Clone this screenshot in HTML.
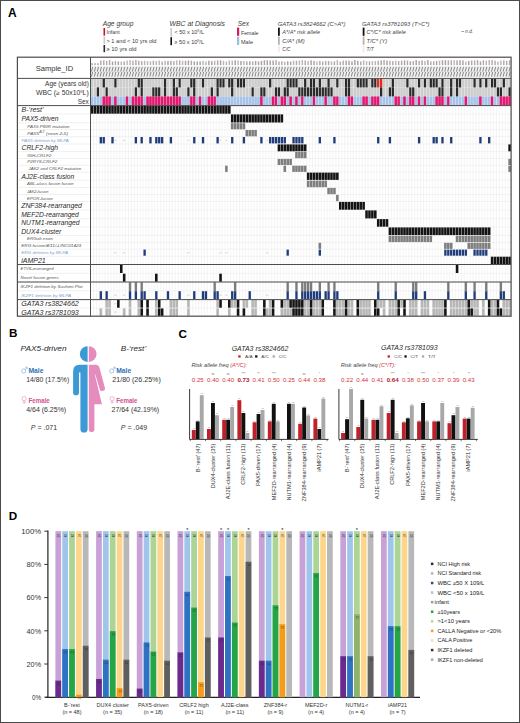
<!DOCTYPE html>
<html><head><meta charset="utf-8"><title>Figure</title>
<style>
html,body{margin:0;padding:0;background:#fff;overflow:hidden;}
svg{display:block;}
text{font-family:"Liberation Sans",sans-serif;}
</style></head><body>
<svg width="520" height="723" viewBox="0 0 520 723">
<rect x="0" y="0" width="520" height="723" fill="#fff"/>
<text x="8.10" y="16.70" font-size="12" fill="#000" font-weight="bold">A</text>
<text x="102.70" y="26.20" font-size="6.5" fill="#3a3a3a" font-style="italic" textLength="30.80" lengthAdjust="spacingAndGlyphs">Age group</text>
<rect x="103.50" y="28.00" width="1.60" height="7.60" fill="#c4122f"/>
<rect x="103.50" y="36.60" width="1.60" height="7.60" fill="#c9c9c9"/>
<rect x="103.50" y="45.00" width="1.60" height="7.20" fill="#2b2b2b"/>
<text x="106.50" y="34.30" font-size="5.3" fill="#3a3a3a" textLength="13.10" lengthAdjust="spacingAndGlyphs">Infant</text>
<text x="106.50" y="42.60" font-size="5.3" fill="#3a3a3a" textLength="50.00" lengthAdjust="spacingAndGlyphs">&gt; 1 and &lt; 10 yrs old</text>
<text x="106.50" y="50.70" font-size="5.3" fill="#3a3a3a" textLength="30.00" lengthAdjust="spacingAndGlyphs">≥ 10 yrs old</text>
<text x="169.60" y="26.20" font-size="6.5" fill="#3a3a3a" font-style="italic" textLength="55.40" lengthAdjust="spacingAndGlyphs">WBC at Diagnosis</text>
<rect x="170.40" y="28.00" width="1.60" height="8.40" fill="#c9c9c9"/>
<rect x="170.40" y="37.20" width="1.60" height="8.00" fill="#111"/>
<text x="174.5" y="34.4" font-size="5.4" fill="#3a3a3a" textLength="29.5" lengthAdjust="spacingAndGlyphs">&lt; 50 x 10<tspan font-size="3.6" dy="-2.0">9</tspan><tspan dy="2.0">/L</tspan></text>
<text x="174.5" y="43.5" font-size="5.4" fill="#3a3a3a" textLength="29.5" lengthAdjust="spacingAndGlyphs">≥ 50 x 10<tspan font-size="3.6" dy="-2.0">9</tspan><tspan dy="2.0">/L</tspan></text>
<text x="237.70" y="26.20" font-size="6.5" fill="#3a3a3a" font-style="italic">Sex</text>
<rect x="237.00" y="27.60" width="2.20" height="8.20" fill="#d81b60"/>
<rect x="237.00" y="36.60" width="2.20" height="8.40" fill="#9fbadb"/>
<text x="241.00" y="34.80" font-size="5.3" fill="#3a3a3a" textLength="17.50" lengthAdjust="spacingAndGlyphs">Female</text>
<text x="241.00" y="43.50" font-size="5.3" fill="#3a3a3a" textLength="12.00" lengthAdjust="spacingAndGlyphs">Male</text>
<text x="277.70" y="26.20" font-size="4.8" fill="#444" font-style="italic" textLength="67.70" lengthAdjust="spacingAndGlyphs">GATA3 rs3824662 (C&gt;A*)</text>
<rect x="278.00" y="27.60" width="1.80" height="8.20" fill="#111"/>
<rect x="278.00" y="36.60" width="1.80" height="8.20" fill="#b5b5b5"/>
<rect x="278.00" y="45.60" width="1.80" height="6.60" fill="#ececec"/>
<text x="282.30" y="33.60" font-size="4.8" fill="#444" font-style="italic" textLength="37.70" lengthAdjust="spacingAndGlyphs">A*/A* risk allele</text>
<text x="282.30" y="42.80" font-size="4.8" fill="#444" font-style="italic" textLength="22.30" lengthAdjust="spacingAndGlyphs">C/A* (M)</text>
<text x="282.30" y="51.00" font-size="4.8" fill="#444" font-style="italic">C/C</text>
<text x="362.00" y="26.40" font-size="4.8" fill="#444" font-style="italic" textLength="67.60" lengthAdjust="spacingAndGlyphs">GATA3 rs3781093 (T&gt;C*)</text>
<rect x="362.70" y="27.60" width="1.80" height="8.20" fill="#111"/>
<rect x="362.70" y="36.60" width="1.80" height="8.20" fill="#b5b5b5"/>
<rect x="362.70" y="45.60" width="1.80" height="6.60" fill="#ececec"/>
<text x="366.50" y="33.60" font-size="4.8" fill="#444" font-style="italic" textLength="39.30" lengthAdjust="spacingAndGlyphs">C*/C* risk allele</text>
<text x="366.50" y="42.80" font-size="4.8" fill="#444" font-style="italic" textLength="20.80" lengthAdjust="spacingAndGlyphs">T/C* (Y)</text>
<text x="366.50" y="51.00" font-size="4.8" fill="#444" font-style="italic">T/T</text>
<text x="461.50" y="33.40" font-size="4.6" fill="#444" font-style="italic">– n.d.</text>
<g id="hm">
<rect x="90.60" y="66.30" width="420.48" height="11.00" fill="#f1f0f0"/>
<rect x="91.35" y="63.20" width="1.45" height="2.00" fill="#aaa0a2"/>
<path d="M91.45 71.6 L92.65 66.9 M91.45 76.6 L92.65 71.9" stroke="#878787" stroke-width="1.0" fill="none"/>
<rect x="94.27" y="63.20" width="1.45" height="2.00" fill="#b3a8aa"/>
<path d="M94.37 71.6 L95.57 66.9 M94.37 76.6 L95.57 71.9" stroke="#878787" stroke-width="1.0" fill="none"/>
<rect x="97.19" y="63.20" width="1.45" height="2.00" fill="#aaa0a2"/>
<path d="M97.29 71.6 L98.49 66.9 M97.29 76.6 L98.49 71.9" stroke="#878787" stroke-width="1.0" fill="none"/>
<rect x="100.11" y="60.56" width="1.45" height="4.64" fill="#b3a8aa"/>
<path d="M100.21 71.6 L101.41 66.9 M100.21 76.6 L101.41 71.9" stroke="#878787" stroke-width="1.0" fill="none"/>
<rect x="103.03" y="60.29" width="1.45" height="4.91" fill="#b3a8aa"/>
<path d="M103.13 71.6 L104.33 66.9 M103.13 76.6 L104.33 71.9" stroke="#878787" stroke-width="1.0" fill="none"/>
<rect x="105.95" y="61.01" width="1.45" height="4.19" fill="#b3a8aa"/>
<path d="M106.05 71.6 L107.25 66.9 M106.05 76.6 L107.25 71.9" stroke="#878787" stroke-width="1.0" fill="none"/>
<rect x="108.87" y="60.14" width="1.45" height="5.06" fill="#b3a8aa"/>
<path d="M108.97 71.6 L110.17 66.9 M108.97 76.6 L110.17 71.9" stroke="#878787" stroke-width="1.0" fill="none"/>
<rect x="111.79" y="61.54" width="1.45" height="3.66" fill="#aaa0a2"/>
<path d="M111.89 71.6 L113.09 66.9 M111.89 76.6 L113.09 71.9" stroke="#878787" stroke-width="1.0" fill="none"/>
<rect x="114.71" y="60.93" width="1.45" height="4.27" fill="#b3a8aa"/>
<path d="M114.81 71.6 L116.01 66.9 M114.81 76.6 L116.01 71.9" stroke="#878787" stroke-width="1.0" fill="none"/>
<rect x="117.63" y="61.45" width="1.45" height="3.75" fill="#aaa0a2"/>
<path d="M117.73 71.6 L118.93 66.9 M117.73 76.6 L118.93 71.9" stroke="#878787" stroke-width="1.0" fill="none"/>
<rect x="120.55" y="61.51" width="1.45" height="3.69" fill="#bdb4b6"/>
<path d="M120.65 71.6 L121.85 66.9 M120.65 76.6 L121.85 71.9" stroke="#878787" stroke-width="1.0" fill="none"/>
<rect x="123.47" y="61.40" width="1.45" height="3.80" fill="#b3a8aa"/>
<path d="M123.57 71.6 L124.77 66.9 M123.57 76.6 L124.77 71.9" stroke="#878787" stroke-width="1.0" fill="none"/>
<rect x="126.39" y="60.59" width="1.45" height="4.61" fill="#bdb4b6"/>
<path d="M126.49 71.6 L127.69 66.9 M126.49 76.6 L127.69 71.9" stroke="#878787" stroke-width="1.0" fill="none"/>
<rect x="129.31" y="60.08" width="1.45" height="5.12" fill="#bdb4b6"/>
<path d="M129.41 71.6 L130.61 66.9 M129.41 76.6 L130.61 71.9" stroke="#878787" stroke-width="1.0" fill="none"/>
<rect x="132.23" y="60.66" width="1.45" height="4.54" fill="#b3a8aa"/>
<path d="M132.33 71.6 L133.53 66.9 M132.33 76.6 L133.53 71.9" stroke="#878787" stroke-width="1.0" fill="none"/>
<rect x="135.15" y="60.04" width="1.45" height="5.16" fill="#b3a8aa"/>
<path d="M135.25 71.6 L136.45 66.9 M135.25 76.6 L136.45 71.9" stroke="#878787" stroke-width="1.0" fill="none"/>
<rect x="138.07" y="60.71" width="1.45" height="4.49" fill="#b3a8aa"/>
<path d="M138.17 71.6 L139.37 66.9 M138.17 76.6 L139.37 71.9" stroke="#878787" stroke-width="1.0" fill="none"/>
<rect x="140.99" y="61.14" width="1.45" height="4.06" fill="#b3a8aa"/>
<path d="M141.09 71.6 L142.29 66.9 M141.09 76.6 L142.29 71.9" stroke="#878787" stroke-width="1.0" fill="none"/>
<rect x="143.91" y="60.73" width="1.45" height="4.47" fill="#bdb4b6"/>
<path d="M144.01 71.6 L145.21 66.9 M144.01 76.6 L145.21 71.9" stroke="#878787" stroke-width="1.0" fill="none"/>
<rect x="146.83" y="61.11" width="1.45" height="4.09" fill="#bdb4b6"/>
<path d="M146.93 71.6 L148.13 66.9 M146.93 76.6 L148.13 71.9" stroke="#878787" stroke-width="1.0" fill="none"/>
<rect x="149.75" y="61.31" width="1.45" height="3.89" fill="#bdb4b6"/>
<path d="M149.85 71.6 L151.05 66.9 M149.85 76.6 L151.05 71.9" stroke="#878787" stroke-width="1.0" fill="none"/>
<rect x="152.67" y="60.69" width="1.45" height="4.51" fill="#b3a8aa"/>
<path d="M152.77 71.6 L153.97 66.9 M152.77 76.6 L153.97 71.9" stroke="#878787" stroke-width="1.0" fill="none"/>
<rect x="155.59" y="61.00" width="1.45" height="4.20" fill="#bdb4b6"/>
<path d="M155.69 71.6 L156.89 66.9 M155.69 76.6 L156.89 71.9" stroke="#878787" stroke-width="1.0" fill="none"/>
<rect x="158.51" y="60.46" width="1.45" height="4.74" fill="#bdb4b6"/>
<path d="M158.61 71.6 L159.81 66.9 M158.61 76.6 L159.81 71.9" stroke="#878787" stroke-width="1.0" fill="none"/>
<rect x="161.43" y="61.50" width="1.45" height="3.70" fill="#b3a8aa"/>
<path d="M161.53 71.6 L162.73 66.9 M161.53 76.6 L162.73 71.9" stroke="#878787" stroke-width="1.0" fill="none"/>
<rect x="164.35" y="60.81" width="1.45" height="4.39" fill="#bdb4b6"/>
<path d="M164.45 71.6 L165.65 66.9 M164.45 76.6 L165.65 71.9" stroke="#878787" stroke-width="1.0" fill="none"/>
<rect x="167.27" y="60.92" width="1.45" height="4.28" fill="#aaa0a2"/>
<path d="M167.37 71.6 L168.57 66.9 M167.37 76.6 L168.57 71.9" stroke="#878787" stroke-width="1.0" fill="none"/>
<rect x="170.19" y="60.86" width="1.45" height="4.34" fill="#aaa0a2"/>
<path d="M170.29 71.6 L171.49 66.9 M170.29 76.6 L171.49 71.9" stroke="#878787" stroke-width="1.0" fill="none"/>
<rect x="173.11" y="61.02" width="1.45" height="4.18" fill="#b3a8aa"/>
<path d="M173.21 71.6 L174.41 66.9 M173.21 76.6 L174.41 71.9" stroke="#878787" stroke-width="1.0" fill="none"/>
<rect x="176.03" y="60.33" width="1.45" height="4.87" fill="#bdb4b6"/>
<path d="M176.13 71.6 L177.33 66.9 M176.13 76.6 L177.33 71.9" stroke="#878787" stroke-width="1.0" fill="none"/>
<rect x="178.95" y="60.35" width="1.45" height="4.85" fill="#b3a8aa"/>
<path d="M179.05 71.6 L180.25 66.9 M179.05 76.6 L180.25 71.9" stroke="#878787" stroke-width="1.0" fill="none"/>
<rect x="181.87" y="60.68" width="1.45" height="4.52" fill="#bdb4b6"/>
<path d="M181.97 71.6 L183.17 66.9 M181.97 76.6 L183.17 71.9" stroke="#878787" stroke-width="1.0" fill="none"/>
<rect x="184.79" y="60.81" width="1.45" height="4.39" fill="#aaa0a2"/>
<path d="M184.89 71.6 L186.09 66.9 M184.89 76.6 L186.09 71.9" stroke="#878787" stroke-width="1.0" fill="none"/>
<rect x="187.71" y="60.43" width="1.45" height="4.77" fill="#aaa0a2"/>
<path d="M187.81 71.6 L189.01 66.9 M187.81 76.6 L189.01 71.9" stroke="#878787" stroke-width="1.0" fill="none"/>
<rect x="190.63" y="60.63" width="1.45" height="4.57" fill="#b3a8aa"/>
<path d="M190.73 71.6 L191.93 66.9 M190.73 76.6 L191.93 71.9" stroke="#878787" stroke-width="1.0" fill="none"/>
<rect x="193.55" y="61.41" width="1.45" height="3.79" fill="#aaa0a2"/>
<path d="M193.65 71.6 L194.85 66.9 M193.65 76.6 L194.85 71.9" stroke="#878787" stroke-width="1.0" fill="none"/>
<rect x="196.47" y="61.34" width="1.45" height="3.86" fill="#aaa0a2"/>
<path d="M196.57 71.6 L197.77 66.9 M196.57 76.6 L197.77 71.9" stroke="#878787" stroke-width="1.0" fill="none"/>
<rect x="199.39" y="61.36" width="1.45" height="3.84" fill="#aaa0a2"/>
<path d="M199.49 71.6 L200.69 66.9 M199.49 76.6 L200.69 71.9" stroke="#878787" stroke-width="1.0" fill="none"/>
<rect x="202.31" y="60.93" width="1.45" height="4.27" fill="#bdb4b6"/>
<path d="M202.41 71.6 L203.61 66.9 M202.41 76.6 L203.61 71.9" stroke="#878787" stroke-width="1.0" fill="none"/>
<rect x="205.23" y="61.48" width="1.45" height="3.72" fill="#bdb4b6"/>
<path d="M205.33 71.6 L206.53 66.9 M205.33 76.6 L206.53 71.9" stroke="#878787" stroke-width="1.0" fill="none"/>
<rect x="208.15" y="60.68" width="1.45" height="4.52" fill="#aaa0a2"/>
<path d="M208.25 71.6 L209.45 66.9 M208.25 76.6 L209.45 71.9" stroke="#878787" stroke-width="1.0" fill="none"/>
<rect x="211.07" y="61.06" width="1.45" height="4.14" fill="#aaa0a2"/>
<path d="M211.17 71.6 L212.37 66.9 M211.17 76.6 L212.37 71.9" stroke="#878787" stroke-width="1.0" fill="none"/>
<rect x="213.99" y="60.65" width="1.45" height="4.55" fill="#bdb4b6"/>
<path d="M214.09 71.6 L215.29 66.9 M214.09 76.6 L215.29 71.9" stroke="#878787" stroke-width="1.0" fill="none"/>
<rect x="216.91" y="60.32" width="1.45" height="4.88" fill="#b3a8aa"/>
<path d="M217.01 71.6 L218.21 66.9 M217.01 76.6 L218.21 71.9" stroke="#878787" stroke-width="1.0" fill="none"/>
<rect x="219.83" y="60.26" width="1.45" height="4.94" fill="#aaa0a2"/>
<path d="M219.93 71.6 L221.13 66.9 M219.93 76.6 L221.13 71.9" stroke="#878787" stroke-width="1.0" fill="none"/>
<rect x="222.75" y="60.84" width="1.45" height="4.36" fill="#bdb4b6"/>
<path d="M222.85 71.6 L224.05 66.9 M222.85 76.6 L224.05 71.9" stroke="#878787" stroke-width="1.0" fill="none"/>
<rect x="225.67" y="61.50" width="1.45" height="3.70" fill="#bdb4b6"/>
<path d="M225.77 71.6 L226.97 66.9 M225.77 76.6 L226.97 71.9" stroke="#878787" stroke-width="1.0" fill="none"/>
<rect x="228.59" y="60.48" width="1.45" height="4.72" fill="#bdb4b6"/>
<path d="M228.69 71.6 L229.89 66.9 M228.69 76.6 L229.89 71.9" stroke="#878787" stroke-width="1.0" fill="none"/>
<rect x="231.51" y="60.68" width="1.45" height="4.52" fill="#bdb4b6"/>
<path d="M231.61 71.6 L232.81 66.9 M231.61 76.6 L232.81 71.9" stroke="#878787" stroke-width="1.0" fill="none"/>
<rect x="234.43" y="60.28" width="1.45" height="4.92" fill="#aaa0a2"/>
<path d="M234.53 71.6 L235.73 66.9 M234.53 76.6 L235.73 71.9" stroke="#878787" stroke-width="1.0" fill="none"/>
<rect x="237.35" y="60.45" width="1.45" height="4.75" fill="#bdb4b6"/>
<path d="M237.45 71.6 L238.65 66.9 M237.45 76.6 L238.65 71.9" stroke="#878787" stroke-width="1.0" fill="none"/>
<rect x="240.27" y="61.04" width="1.45" height="4.16" fill="#aaa0a2"/>
<path d="M240.37 71.6 L241.57 66.9 M240.37 76.6 L241.57 71.9" stroke="#878787" stroke-width="1.0" fill="none"/>
<rect x="243.19" y="61.03" width="1.45" height="4.17" fill="#bdb4b6"/>
<path d="M243.29 71.6 L244.49 66.9 M243.29 76.6 L244.49 71.9" stroke="#878787" stroke-width="1.0" fill="none"/>
<rect x="246.11" y="61.41" width="1.45" height="3.79" fill="#b3a8aa"/>
<path d="M246.21 71.6 L247.41 66.9 M246.21 76.6 L247.41 71.9" stroke="#878787" stroke-width="1.0" fill="none"/>
<rect x="249.03" y="61.25" width="1.45" height="3.95" fill="#aaa0a2"/>
<path d="M249.13 71.6 L250.33 66.9 M249.13 76.6 L250.33 71.9" stroke="#878787" stroke-width="1.0" fill="none"/>
<rect x="251.95" y="61.39" width="1.45" height="3.81" fill="#b3a8aa"/>
<path d="M252.05 71.6 L253.25 66.9 M252.05 76.6 L253.25 71.9" stroke="#878787" stroke-width="1.0" fill="none"/>
<rect x="254.87" y="60.96" width="1.45" height="4.24" fill="#aaa0a2"/>
<path d="M254.97 71.6 L256.17 66.9 M254.97 76.6 L256.17 71.9" stroke="#878787" stroke-width="1.0" fill="none"/>
<rect x="257.79" y="61.47" width="1.45" height="3.73" fill="#aaa0a2"/>
<path d="M257.89 71.6 L259.09 66.9 M257.89 76.6 L259.09 71.9" stroke="#878787" stroke-width="1.0" fill="none"/>
<rect x="260.71" y="60.96" width="1.45" height="4.24" fill="#aaa0a2"/>
<path d="M260.81 71.6 L262.01 66.9 M260.81 76.6 L262.01 71.9" stroke="#878787" stroke-width="1.0" fill="none"/>
<rect x="263.63" y="60.19" width="1.45" height="5.01" fill="#aaa0a2"/>
<path d="M263.73 71.6 L264.93 66.9 M263.73 76.6 L264.93 71.9" stroke="#878787" stroke-width="1.0" fill="none"/>
<rect x="266.55" y="60.22" width="1.45" height="4.98" fill="#aaa0a2"/>
<path d="M266.65 71.6 L267.85 66.9 M266.65 76.6 L267.85 71.9" stroke="#878787" stroke-width="1.0" fill="none"/>
<rect x="269.47" y="60.47" width="1.45" height="4.73" fill="#aaa0a2"/>
<path d="M269.57 71.6 L270.77 66.9 M269.57 76.6 L270.77 71.9" stroke="#878787" stroke-width="1.0" fill="none"/>
<rect x="272.39" y="60.51" width="1.45" height="4.69" fill="#aaa0a2"/>
<path d="M272.49 71.6 L273.69 66.9 M272.49 76.6 L273.69 71.9" stroke="#878787" stroke-width="1.0" fill="none"/>
<rect x="275.31" y="60.07" width="1.45" height="5.13" fill="#b3a8aa"/>
<path d="M275.41 71.6 L276.61 66.9 M275.41 76.6 L276.61 71.9" stroke="#878787" stroke-width="1.0" fill="none"/>
<rect x="278.23" y="61.47" width="1.45" height="3.73" fill="#b3a8aa"/>
<path d="M278.33 71.6 L279.53 66.9 M278.33 76.6 L279.53 71.9" stroke="#878787" stroke-width="1.0" fill="none"/>
<rect x="281.15" y="61.23" width="1.45" height="3.97" fill="#b3a8aa"/>
<path d="M281.25 71.6 L282.45 66.9 M281.25 76.6 L282.45 71.9" stroke="#878787" stroke-width="1.0" fill="none"/>
<rect x="284.07" y="61.58" width="1.45" height="3.62" fill="#bdb4b6"/>
<path d="M284.17 71.6 L285.37 66.9 M284.17 76.6 L285.37 71.9" stroke="#878787" stroke-width="1.0" fill="none"/>
<rect x="286.99" y="61.31" width="1.45" height="3.89" fill="#aaa0a2"/>
<path d="M287.09 71.6 L288.29 66.9 M287.09 76.6 L288.29 71.9" stroke="#878787" stroke-width="1.0" fill="none"/>
<rect x="289.91" y="61.59" width="1.45" height="3.61" fill="#aaa0a2"/>
<path d="M290.01 71.6 L291.21 66.9 M290.01 76.6 L291.21 71.9" stroke="#878787" stroke-width="1.0" fill="none"/>
<rect x="292.83" y="60.74" width="1.45" height="4.46" fill="#bdb4b6"/>
<path d="M292.93 71.6 L294.13 66.9 M292.93 76.6 L294.13 71.9" stroke="#878787" stroke-width="1.0" fill="none"/>
<rect x="295.75" y="60.69" width="1.45" height="4.51" fill="#b3a8aa"/>
<path d="M295.85 71.6 L297.05 66.9 M295.85 76.6 L297.05 71.9" stroke="#878787" stroke-width="1.0" fill="none"/>
<rect x="298.67" y="60.50" width="1.45" height="4.70" fill="#bdb4b6"/>
<path d="M298.77 71.6 L299.97 66.9 M298.77 76.6 L299.97 71.9" stroke="#878787" stroke-width="1.0" fill="none"/>
<rect x="301.59" y="60.08" width="1.45" height="5.12" fill="#bdb4b6"/>
<path d="M301.69 71.6 L302.89 66.9 M301.69 76.6 L302.89 71.9" stroke="#878787" stroke-width="1.0" fill="none"/>
<rect x="304.51" y="60.52" width="1.45" height="4.68" fill="#b3a8aa"/>
<path d="M304.61 71.6 L305.81 66.9 M304.61 76.6 L305.81 71.9" stroke="#878787" stroke-width="1.0" fill="none"/>
<rect x="307.43" y="60.87" width="1.45" height="4.33" fill="#bdb4b6"/>
<path d="M307.53 71.6 L308.73 66.9 M307.53 76.6 L308.73 71.9" stroke="#878787" stroke-width="1.0" fill="none"/>
<rect x="310.35" y="60.32" width="1.45" height="4.88" fill="#aaa0a2"/>
<path d="M310.45 71.6 L311.65 66.9 M310.45 76.6 L311.65 71.9" stroke="#878787" stroke-width="1.0" fill="none"/>
<rect x="313.27" y="60.96" width="1.45" height="4.24" fill="#aaa0a2"/>
<path d="M313.37 71.6 L314.57 66.9 M313.37 76.6 L314.57 71.9" stroke="#878787" stroke-width="1.0" fill="none"/>
<rect x="316.19" y="61.43" width="1.45" height="3.77" fill="#bdb4b6"/>
<path d="M316.29 71.6 L317.49 66.9 M316.29 76.6 L317.49 71.9" stroke="#878787" stroke-width="1.0" fill="none"/>
<rect x="319.11" y="60.96" width="1.45" height="4.24" fill="#b3a8aa"/>
<path d="M319.21 71.6 L320.41 66.9 M319.21 76.6 L320.41 71.9" stroke="#878787" stroke-width="1.0" fill="none"/>
<rect x="322.03" y="61.49" width="1.45" height="3.71" fill="#b3a8aa"/>
<path d="M322.13 71.6 L323.33 66.9 M322.13 76.6 L323.33 71.9" stroke="#878787" stroke-width="1.0" fill="none"/>
<rect x="324.95" y="60.89" width="1.45" height="4.31" fill="#b3a8aa"/>
<path d="M325.05 71.6 L326.25 66.9 M325.05 76.6 L326.25 71.9" stroke="#878787" stroke-width="1.0" fill="none"/>
<rect x="327.87" y="61.06" width="1.45" height="4.14" fill="#b3a8aa"/>
<path d="M327.97 71.6 L329.17 66.9 M327.97 76.6 L329.17 71.9" stroke="#878787" stroke-width="1.0" fill="none"/>
<rect x="330.79" y="61.44" width="1.45" height="3.76" fill="#bdb4b6"/>
<path d="M330.89 71.6 L332.09 66.9 M330.89 76.6 L332.09 71.9" stroke="#878787" stroke-width="1.0" fill="none"/>
<rect x="333.71" y="61.36" width="1.45" height="3.84" fill="#b3a8aa"/>
<path d="M333.81 71.6 L335.01 66.9 M333.81 76.6 L335.01 71.9" stroke="#878787" stroke-width="1.0" fill="none"/>
<rect x="336.63" y="60.08" width="1.45" height="5.12" fill="#bdb4b6"/>
<path d="M336.73 71.6 L337.93 66.9 M336.73 76.6 L337.93 71.9" stroke="#878787" stroke-width="1.0" fill="none"/>
<rect x="339.55" y="61.56" width="1.45" height="3.64" fill="#b3a8aa"/>
<path d="M339.65 71.6 L340.85 66.9 M339.65 76.6 L340.85 71.9" stroke="#878787" stroke-width="1.0" fill="none"/>
<rect x="342.47" y="60.62" width="1.45" height="4.58" fill="#b3a8aa"/>
<path d="M342.57 71.6 L343.77 66.9 M342.57 76.6 L343.77 71.9" stroke="#878787" stroke-width="1.0" fill="none"/>
<rect x="345.39" y="60.58" width="1.45" height="4.62" fill="#aaa0a2"/>
<path d="M345.49 71.6 L346.69 66.9 M345.49 76.6 L346.69 71.9" stroke="#878787" stroke-width="1.0" fill="none"/>
<rect x="348.31" y="60.64" width="1.45" height="4.56" fill="#aaa0a2"/>
<path d="M348.41 71.6 L349.61 66.9 M348.41 76.6 L349.61 71.9" stroke="#878787" stroke-width="1.0" fill="none"/>
<rect x="351.23" y="61.40" width="1.45" height="3.80" fill="#aaa0a2"/>
<path d="M351.33 71.6 L352.53 66.9 M351.33 76.6 L352.53 71.9" stroke="#878787" stroke-width="1.0" fill="none"/>
<rect x="354.15" y="60.01" width="1.45" height="5.19" fill="#aaa0a2"/>
<path d="M354.25 71.6 L355.45 66.9 M354.25 76.6 L355.45 71.9" stroke="#878787" stroke-width="1.0" fill="none"/>
<rect x="357.07" y="60.83" width="1.45" height="4.37" fill="#aaa0a2"/>
<path d="M357.17 71.6 L358.37 66.9 M357.17 76.6 L358.37 71.9" stroke="#878787" stroke-width="1.0" fill="none"/>
<rect x="359.99" y="61.46" width="1.45" height="3.74" fill="#b3a8aa"/>
<path d="M360.09 71.6 L361.29 66.9 M360.09 76.6 L361.29 71.9" stroke="#878787" stroke-width="1.0" fill="none"/>
<rect x="362.91" y="60.40" width="1.45" height="4.80" fill="#bdb4b6"/>
<path d="M363.01 71.6 L364.21 66.9 M363.01 76.6 L364.21 71.9" stroke="#878787" stroke-width="1.0" fill="none"/>
<rect x="365.83" y="61.18" width="1.45" height="4.02" fill="#bdb4b6"/>
<path d="M365.93 71.6 L367.13 66.9 M365.93 76.6 L367.13 71.9" stroke="#878787" stroke-width="1.0" fill="none"/>
<rect x="368.75" y="61.34" width="1.45" height="3.86" fill="#b3a8aa"/>
<path d="M368.85 71.6 L370.05 66.9 M368.85 76.6 L370.05 71.9" stroke="#878787" stroke-width="1.0" fill="none"/>
<rect x="371.67" y="61.27" width="1.45" height="3.93" fill="#bdb4b6"/>
<path d="M371.77 71.6 L372.97 66.9 M371.77 76.6 L372.97 71.9" stroke="#878787" stroke-width="1.0" fill="none"/>
<rect x="374.59" y="61.02" width="1.45" height="4.18" fill="#bdb4b6"/>
<path d="M374.69 71.6 L375.89 66.9 M374.69 76.6 L375.89 71.9" stroke="#878787" stroke-width="1.0" fill="none"/>
<rect x="377.51" y="60.73" width="1.45" height="4.47" fill="#b3a8aa"/>
<path d="M377.61 71.6 L378.81 66.9 M377.61 76.6 L378.81 71.9" stroke="#878787" stroke-width="1.0" fill="none"/>
<rect x="380.43" y="60.39" width="1.45" height="4.81" fill="#aaa0a2"/>
<path d="M380.53 71.6 L381.73 66.9 M380.53 76.6 L381.73 71.9" stroke="#878787" stroke-width="1.0" fill="none"/>
<rect x="383.35" y="60.03" width="1.45" height="5.17" fill="#b3a8aa"/>
<path d="M383.45 71.6 L384.65 66.9 M383.45 76.6 L384.65 71.9" stroke="#878787" stroke-width="1.0" fill="none"/>
<rect x="386.27" y="60.49" width="1.45" height="4.71" fill="#aaa0a2"/>
<path d="M386.37 71.6 L387.57 66.9 M386.37 76.6 L387.57 71.9" stroke="#878787" stroke-width="1.0" fill="none"/>
<rect x="389.19" y="60.77" width="1.45" height="4.43" fill="#b3a8aa"/>
<path d="M389.29 71.6 L390.49 66.9 M389.29 76.6 L390.49 71.9" stroke="#878787" stroke-width="1.0" fill="none"/>
<rect x="392.11" y="61.03" width="1.45" height="4.17" fill="#b3a8aa"/>
<path d="M392.21 71.6 L393.41 66.9 M392.21 76.6 L393.41 71.9" stroke="#878787" stroke-width="1.0" fill="none"/>
<rect x="395.03" y="60.75" width="1.45" height="4.45" fill="#bdb4b6"/>
<path d="M395.13 71.6 L396.33 66.9 M395.13 76.6 L396.33 71.9" stroke="#878787" stroke-width="1.0" fill="none"/>
<rect x="397.95" y="61.07" width="1.45" height="4.13" fill="#b3a8aa"/>
<path d="M398.05 71.6 L399.25 66.9 M398.05 76.6 L399.25 71.9" stroke="#878787" stroke-width="1.0" fill="none"/>
<rect x="400.87" y="60.62" width="1.45" height="4.58" fill="#b3a8aa"/>
<path d="M400.97 71.6 L402.17 66.9 M400.97 76.6 L402.17 71.9" stroke="#878787" stroke-width="1.0" fill="none"/>
<rect x="403.79" y="60.31" width="1.45" height="4.89" fill="#aaa0a2"/>
<path d="M403.89 71.6 L405.09 66.9 M403.89 76.6 L405.09 71.9" stroke="#878787" stroke-width="1.0" fill="none"/>
<rect x="406.71" y="60.42" width="1.45" height="4.78" fill="#b3a8aa"/>
<path d="M406.81 71.6 L408.01 66.9 M406.81 76.6 L408.01 71.9" stroke="#878787" stroke-width="1.0" fill="none"/>
<rect x="409.63" y="61.28" width="1.45" height="3.92" fill="#aaa0a2"/>
<path d="M409.73 71.6 L410.93 66.9 M409.73 76.6 L410.93 71.9" stroke="#878787" stroke-width="1.0" fill="none"/>
<rect x="412.55" y="61.03" width="1.45" height="4.17" fill="#b3a8aa"/>
<path d="M412.65 71.6 L413.85 66.9 M412.65 76.6 L413.85 71.9" stroke="#878787" stroke-width="1.0" fill="none"/>
<rect x="415.47" y="60.02" width="1.45" height="5.18" fill="#aaa0a2"/>
<path d="M415.57 71.6 L416.77 66.9 M415.57 76.6 L416.77 71.9" stroke="#878787" stroke-width="1.0" fill="none"/>
<rect x="418.39" y="60.84" width="1.45" height="4.36" fill="#b3a8aa"/>
<path d="M418.49 71.6 L419.69 66.9 M418.49 76.6 L419.69 71.9" stroke="#878787" stroke-width="1.0" fill="none"/>
<rect x="421.31" y="60.49" width="1.45" height="4.71" fill="#aaa0a2"/>
<path d="M421.41 71.6 L422.61 66.9 M421.41 76.6 L422.61 71.9" stroke="#878787" stroke-width="1.0" fill="none"/>
<rect x="424.23" y="60.88" width="1.45" height="4.32" fill="#bdb4b6"/>
<path d="M424.33 71.6 L425.53 66.9 M424.33 76.6 L425.53 71.9" stroke="#878787" stroke-width="1.0" fill="none"/>
<rect x="427.15" y="60.02" width="1.45" height="5.18" fill="#aaa0a2"/>
<path d="M427.25 71.6 L428.45 66.9 M427.25 76.6 L428.45 71.9" stroke="#878787" stroke-width="1.0" fill="none"/>
<rect x="430.07" y="61.47" width="1.45" height="3.73" fill="#b3a8aa"/>
<path d="M430.17 71.6 L431.37 66.9 M430.17 76.6 L431.37 71.9" stroke="#878787" stroke-width="1.0" fill="none"/>
<rect x="432.99" y="61.24" width="1.45" height="3.96" fill="#b3a8aa"/>
<path d="M433.09 71.6 L434.29 66.9 M433.09 76.6 L434.29 71.9" stroke="#878787" stroke-width="1.0" fill="none"/>
<rect x="435.91" y="61.06" width="1.45" height="4.14" fill="#aaa0a2"/>
<path d="M436.01 71.6 L437.21 66.9 M436.01 76.6 L437.21 71.9" stroke="#878787" stroke-width="1.0" fill="none"/>
<rect x="438.83" y="60.60" width="1.45" height="4.60" fill="#bdb4b6"/>
<path d="M438.93 71.6 L440.13 66.9 M438.93 76.6 L440.13 71.9" stroke="#878787" stroke-width="1.0" fill="none"/>
<rect x="441.75" y="60.26" width="1.45" height="4.94" fill="#aaa0a2"/>
<path d="M441.85 71.6 L443.05 66.9 M441.85 76.6 L443.05 71.9" stroke="#878787" stroke-width="1.0" fill="none"/>
<rect x="444.67" y="60.15" width="1.45" height="5.05" fill="#aaa0a2"/>
<path d="M444.77 71.6 L445.97 66.9 M444.77 76.6 L445.97 71.9" stroke="#878787" stroke-width="1.0" fill="none"/>
<rect x="447.59" y="60.32" width="1.45" height="4.88" fill="#b3a8aa"/>
<path d="M447.69 71.6 L448.89 66.9 M447.69 76.6 L448.89 71.9" stroke="#878787" stroke-width="1.0" fill="none"/>
<rect x="450.51" y="60.26" width="1.45" height="4.94" fill="#b3a8aa"/>
<path d="M450.61 71.6 L451.81 66.9 M450.61 76.6 L451.81 71.9" stroke="#878787" stroke-width="1.0" fill="none"/>
<rect x="453.43" y="60.14" width="1.45" height="5.06" fill="#bdb4b6"/>
<path d="M453.53 71.6 L454.73 66.9 M453.53 76.6 L454.73 71.9" stroke="#878787" stroke-width="1.0" fill="none"/>
<rect x="456.35" y="60.40" width="1.45" height="4.80" fill="#aaa0a2"/>
<path d="M456.45 71.6 L457.65 66.9 M456.45 76.6 L457.65 71.9" stroke="#878787" stroke-width="1.0" fill="none"/>
<rect x="459.27" y="60.18" width="1.45" height="5.02" fill="#aaa0a2"/>
<path d="M459.37 71.6 L460.57 66.9 M459.37 76.6 L460.57 71.9" stroke="#878787" stroke-width="1.0" fill="none"/>
<rect x="462.19" y="60.34" width="1.45" height="4.86" fill="#aaa0a2"/>
<path d="M462.29 71.6 L463.49 66.9 M462.29 76.6 L463.49 71.9" stroke="#878787" stroke-width="1.0" fill="none"/>
<rect x="465.11" y="61.46" width="1.45" height="3.74" fill="#bdb4b6"/>
<path d="M465.21 71.6 L466.41 66.9 M465.21 76.6 L466.41 71.9" stroke="#878787" stroke-width="1.0" fill="none"/>
<rect x="468.03" y="60.97" width="1.45" height="4.23" fill="#aaa0a2"/>
<path d="M468.13 71.6 L469.33 66.9 M468.13 76.6 L469.33 71.9" stroke="#878787" stroke-width="1.0" fill="none"/>
<rect x="470.95" y="60.41" width="1.45" height="4.79" fill="#b3a8aa"/>
<path d="M471.05 71.6 L472.25 66.9 M471.05 76.6 L472.25 71.9" stroke="#878787" stroke-width="1.0" fill="none"/>
<rect x="473.87" y="60.44" width="1.45" height="4.76" fill="#b3a8aa"/>
<path d="M473.97 71.6 L475.17 66.9 M473.97 76.6 L475.17 71.9" stroke="#878787" stroke-width="1.0" fill="none"/>
<rect x="476.79" y="60.01" width="1.45" height="5.19" fill="#b3a8aa"/>
<path d="M476.89 71.6 L478.09 66.9 M476.89 76.6 L478.09 71.9" stroke="#878787" stroke-width="1.0" fill="none"/>
<rect x="479.71" y="61.36" width="1.45" height="3.84" fill="#aaa0a2"/>
<path d="M479.81 71.6 L481.01 66.9 M479.81 76.6 L481.01 71.9" stroke="#878787" stroke-width="1.0" fill="none"/>
<rect x="482.63" y="60.31" width="1.45" height="4.89" fill="#b3a8aa"/>
<path d="M482.73 71.6 L483.93 66.9 M482.73 76.6 L483.93 71.9" stroke="#878787" stroke-width="1.0" fill="none"/>
<rect x="485.55" y="60.62" width="1.45" height="4.58" fill="#bdb4b6"/>
<path d="M485.65 71.6 L486.85 66.9 M485.65 76.6 L486.85 71.9" stroke="#878787" stroke-width="1.0" fill="none"/>
<rect x="488.47" y="60.03" width="1.45" height="5.17" fill="#bdb4b6"/>
<path d="M488.57 71.6 L489.77 66.9 M488.57 76.6 L489.77 71.9" stroke="#878787" stroke-width="1.0" fill="none"/>
<rect x="491.39" y="60.10" width="1.45" height="5.10" fill="#b3a8aa"/>
<path d="M491.49 71.6 L492.69 66.9 M491.49 76.6 L492.69 71.9" stroke="#878787" stroke-width="1.0" fill="none"/>
<rect x="494.31" y="60.72" width="1.45" height="4.48" fill="#b3a8aa"/>
<path d="M494.41 71.6 L495.61 66.9 M494.41 76.6 L495.61 71.9" stroke="#878787" stroke-width="1.0" fill="none"/>
<rect x="497.23" y="61.57" width="1.45" height="3.63" fill="#bdb4b6"/>
<path d="M497.33 71.6 L498.53 66.9 M497.33 76.6 L498.53 71.9" stroke="#878787" stroke-width="1.0" fill="none"/>
<rect x="500.15" y="60.56" width="1.45" height="4.64" fill="#bdb4b6"/>
<path d="M500.25 71.6 L501.45 66.9 M500.25 76.6 L501.45 71.9" stroke="#878787" stroke-width="1.0" fill="none"/>
<rect x="503.07" y="60.40" width="1.45" height="4.80" fill="#b3a8aa"/>
<path d="M503.17 71.6 L504.37 66.9 M503.17 76.6 L504.37 71.9" stroke="#878787" stroke-width="1.0" fill="none"/>
<rect x="505.99" y="60.91" width="1.45" height="4.29" fill="#b3a8aa"/>
<path d="M506.09 71.6 L507.29 66.9 M506.09 76.6 L507.29 71.9" stroke="#878787" stroke-width="1.0" fill="none"/>
<rect x="508.91" y="60.28" width="1.45" height="4.92" fill="#b3a8aa"/>
<path d="M509.01 71.6 L510.21 66.9 M509.01 76.6 L510.21 71.9" stroke="#878787" stroke-width="1.0" fill="none"/>
<rect x="90.60" y="78.40" width="2.92" height="9.00" fill="#cdcdcd"/>
<rect x="90.60" y="87.40" width="2.92" height="9.00" fill="#cdcdcd"/>
<rect x="90.60" y="96.40" width="2.92" height="9.20" fill="#a7c3e8"/>
<rect x="93.52" y="78.40" width="2.92" height="9.00" fill="#cdcdcd"/>
<rect x="93.52" y="87.40" width="2.92" height="9.00" fill="#cdcdcd"/>
<rect x="93.52" y="96.40" width="2.92" height="9.20" fill="#a7c3e8"/>
<rect x="96.44" y="78.40" width="2.92" height="9.00" fill="#cdcdcd"/>
<rect x="96.44" y="87.40" width="2.92" height="9.00" fill="#cdcdcd"/>
<rect x="96.44" y="96.40" width="2.92" height="9.20" fill="#a7c3e8"/>
<rect x="99.36" y="78.40" width="2.92" height="9.00" fill="#cdcdcd"/>
<rect x="99.36" y="87.40" width="2.92" height="9.00" fill="#cdcdcd"/>
<rect x="99.36" y="96.40" width="2.92" height="9.20" fill="#a7c3e8"/>
<rect x="102.28" y="78.40" width="2.92" height="9.00" fill="#cdcdcd"/>
<rect x="102.28" y="87.40" width="2.92" height="9.00" fill="#cdcdcd"/>
<rect x="102.28" y="96.40" width="2.92" height="9.20" fill="#e2176e"/>
<rect x="105.20" y="78.40" width="2.92" height="9.00" fill="#cdcdcd"/>
<rect x="105.20" y="87.40" width="2.92" height="9.00" fill="#cdcdcd"/>
<rect x="105.20" y="96.40" width="2.92" height="9.20" fill="#e2176e"/>
<rect x="108.12" y="78.40" width="2.92" height="9.00" fill="#cdcdcd"/>
<rect x="108.12" y="87.40" width="2.92" height="9.00" fill="#cdcdcd"/>
<rect x="108.12" y="96.40" width="2.92" height="9.20" fill="#e2176e"/>
<rect x="111.04" y="78.40" width="2.92" height="9.00" fill="#cdcdcd"/>
<rect x="111.04" y="87.40" width="2.92" height="9.00" fill="#cdcdcd"/>
<rect x="111.04" y="96.40" width="2.92" height="9.20" fill="#a7c3e8"/>
<rect x="113.96" y="78.40" width="2.92" height="9.00" fill="#cdcdcd"/>
<rect x="113.96" y="87.40" width="2.92" height="9.00" fill="#cdcdcd"/>
<rect x="113.96" y="96.40" width="2.92" height="9.20" fill="#e2176e"/>
<rect x="116.88" y="78.40" width="2.92" height="9.00" fill="#cdcdcd"/>
<rect x="116.88" y="87.40" width="2.92" height="9.00" fill="#cdcdcd"/>
<rect x="116.88" y="96.40" width="2.92" height="9.20" fill="#a7c3e8"/>
<rect x="119.80" y="78.40" width="2.92" height="9.00" fill="#cdcdcd"/>
<rect x="119.80" y="87.40" width="2.92" height="9.00" fill="#cdcdcd"/>
<rect x="119.80" y="96.40" width="2.92" height="9.20" fill="#a7c3e8"/>
<rect x="122.72" y="78.40" width="2.92" height="9.00" fill="#cdcdcd"/>
<rect x="122.72" y="87.40" width="2.92" height="9.00" fill="#cdcdcd"/>
<rect x="122.72" y="96.40" width="2.92" height="9.20" fill="#a7c3e8"/>
<rect x="125.64" y="78.40" width="2.92" height="9.00" fill="#cdcdcd"/>
<rect x="125.64" y="87.40" width="2.92" height="9.00" fill="#cdcdcd"/>
<rect x="125.64" y="96.40" width="2.92" height="9.20" fill="#e2176e"/>
<rect x="128.56" y="78.40" width="2.92" height="9.00" fill="#cdcdcd"/>
<rect x="128.56" y="87.40" width="2.92" height="9.00" fill="#cdcdcd"/>
<rect x="128.56" y="96.40" width="2.92" height="9.20" fill="#a7c3e8"/>
<rect x="131.48" y="78.40" width="2.92" height="9.00" fill="#cdcdcd"/>
<rect x="131.48" y="87.40" width="2.92" height="9.00" fill="#cdcdcd"/>
<rect x="131.48" y="96.40" width="2.92" height="9.20" fill="#e2176e"/>
<rect x="134.40" y="78.40" width="2.92" height="9.00" fill="#cdcdcd"/>
<rect x="134.40" y="87.40" width="2.92" height="9.00" fill="#cdcdcd"/>
<rect x="134.40" y="96.40" width="2.92" height="9.20" fill="#e2176e"/>
<rect x="137.32" y="78.40" width="2.92" height="9.00" fill="#cdcdcd"/>
<rect x="137.32" y="87.40" width="2.92" height="9.00" fill="#cdcdcd"/>
<rect x="137.32" y="96.40" width="2.92" height="9.20" fill="#e2176e"/>
<rect x="140.24" y="78.40" width="2.92" height="9.00" fill="#cdcdcd"/>
<rect x="140.24" y="87.40" width="2.92" height="9.00" fill="#cdcdcd"/>
<rect x="140.24" y="96.40" width="2.92" height="9.20" fill="#e2176e"/>
<rect x="143.16" y="78.40" width="2.92" height="9.00" fill="#cdcdcd"/>
<rect x="143.16" y="87.40" width="2.92" height="9.00" fill="#cdcdcd"/>
<rect x="143.16" y="96.40" width="2.92" height="9.20" fill="#a7c3e8"/>
<rect x="146.08" y="78.40" width="2.92" height="9.00" fill="#cdcdcd"/>
<rect x="146.08" y="87.40" width="2.92" height="9.00" fill="#cdcdcd"/>
<rect x="146.08" y="96.40" width="2.92" height="9.20" fill="#e2176e"/>
<rect x="149.00" y="78.40" width="2.92" height="9.00" fill="#cdcdcd"/>
<rect x="149.00" y="87.40" width="2.92" height="9.00" fill="#cdcdcd"/>
<rect x="149.00" y="96.40" width="2.92" height="9.20" fill="#e2176e"/>
<rect x="151.92" y="78.40" width="2.92" height="9.00" fill="#cdcdcd"/>
<rect x="151.92" y="87.40" width="2.92" height="9.00" fill="#cdcdcd"/>
<rect x="151.92" y="96.40" width="2.92" height="9.20" fill="#e2176e"/>
<rect x="154.84" y="78.40" width="2.92" height="9.00" fill="#cdcdcd"/>
<rect x="154.84" y="87.40" width="2.92" height="9.00" fill="#cdcdcd"/>
<rect x="154.84" y="96.40" width="2.92" height="9.20" fill="#e2176e"/>
<rect x="157.76" y="78.40" width="2.92" height="9.00" fill="#cdcdcd"/>
<rect x="157.76" y="87.40" width="2.92" height="9.00" fill="#cdcdcd"/>
<rect x="157.76" y="96.40" width="2.92" height="9.20" fill="#e2176e"/>
<rect x="160.68" y="78.40" width="2.92" height="9.00" fill="#cdcdcd"/>
<rect x="160.68" y="87.40" width="2.92" height="9.00" fill="#cdcdcd"/>
<rect x="160.68" y="96.40" width="2.92" height="9.20" fill="#e2176e"/>
<rect x="163.60" y="78.40" width="2.92" height="9.00" fill="#cdcdcd"/>
<rect x="163.60" y="87.40" width="2.92" height="9.00" fill="#cdcdcd"/>
<rect x="163.60" y="96.40" width="2.92" height="9.20" fill="#e2176e"/>
<rect x="166.52" y="78.40" width="2.92" height="9.00" fill="#cdcdcd"/>
<rect x="166.52" y="87.40" width="2.92" height="9.00" fill="#cdcdcd"/>
<rect x="166.52" y="96.40" width="2.92" height="9.20" fill="#e2176e"/>
<rect x="169.44" y="78.40" width="2.92" height="9.00" fill="#cdcdcd"/>
<rect x="169.44" y="87.40" width="2.92" height="9.00" fill="#cdcdcd"/>
<rect x="169.44" y="96.40" width="2.92" height="9.20" fill="#e2176e"/>
<rect x="172.36" y="78.40" width="2.92" height="9.00" fill="#cdcdcd"/>
<rect x="172.36" y="87.40" width="2.92" height="9.00" fill="#cdcdcd"/>
<rect x="172.36" y="96.40" width="2.92" height="9.20" fill="#e2176e"/>
<rect x="175.28" y="78.40" width="2.92" height="9.00" fill="#cdcdcd"/>
<rect x="175.28" y="87.40" width="2.92" height="9.00" fill="#cdcdcd"/>
<rect x="175.28" y="96.40" width="2.92" height="9.20" fill="#e2176e"/>
<rect x="178.20" y="78.40" width="2.92" height="9.00" fill="#cdcdcd"/>
<rect x="178.20" y="87.40" width="2.92" height="9.00" fill="#cdcdcd"/>
<rect x="178.20" y="96.40" width="2.92" height="9.20" fill="#e2176e"/>
<rect x="181.12" y="78.40" width="2.92" height="9.00" fill="#cdcdcd"/>
<rect x="181.12" y="87.40" width="2.92" height="9.00" fill="#cdcdcd"/>
<rect x="181.12" y="96.40" width="2.92" height="9.20" fill="#a7c3e8"/>
<rect x="184.04" y="78.40" width="2.92" height="9.00" fill="#cdcdcd"/>
<rect x="184.04" y="87.40" width="2.92" height="9.00" fill="#cdcdcd"/>
<rect x="184.04" y="96.40" width="2.92" height="9.20" fill="#a7c3e8"/>
<rect x="186.96" y="78.40" width="2.92" height="9.00" fill="#cdcdcd"/>
<rect x="186.96" y="87.40" width="2.92" height="9.00" fill="#cdcdcd"/>
<rect x="186.96" y="96.40" width="2.92" height="9.20" fill="#a7c3e8"/>
<rect x="189.88" y="78.40" width="2.92" height="9.00" fill="#cdcdcd"/>
<rect x="189.88" y="87.40" width="2.92" height="9.00" fill="#cdcdcd"/>
<rect x="189.88" y="96.40" width="2.92" height="9.20" fill="#e2176e"/>
<rect x="192.80" y="78.40" width="2.92" height="9.00" fill="#cdcdcd"/>
<rect x="192.80" y="87.40" width="2.92" height="9.00" fill="#cdcdcd"/>
<rect x="192.80" y="96.40" width="2.92" height="9.20" fill="#e2176e"/>
<rect x="195.72" y="78.40" width="2.92" height="9.00" fill="#cdcdcd"/>
<rect x="195.72" y="87.40" width="2.92" height="9.00" fill="#cdcdcd"/>
<rect x="195.72" y="96.40" width="2.92" height="9.20" fill="#a7c3e8"/>
<rect x="198.64" y="78.40" width="2.92" height="9.00" fill="#cdcdcd"/>
<rect x="198.64" y="87.40" width="2.92" height="9.00" fill="#cdcdcd"/>
<rect x="198.64" y="96.40" width="2.92" height="9.20" fill="#e2176e"/>
<rect x="201.56" y="78.40" width="2.92" height="9.00" fill="#cdcdcd"/>
<rect x="201.56" y="87.40" width="2.92" height="9.00" fill="#cdcdcd"/>
<rect x="201.56" y="96.40" width="2.92" height="9.20" fill="#a7c3e8"/>
<rect x="204.48" y="78.40" width="2.92" height="9.00" fill="#cdcdcd"/>
<rect x="204.48" y="87.40" width="2.92" height="9.00" fill="#cdcdcd"/>
<rect x="204.48" y="96.40" width="2.92" height="9.20" fill="#a7c3e8"/>
<rect x="207.40" y="78.40" width="2.92" height="9.00" fill="#cdcdcd"/>
<rect x="207.40" y="87.40" width="2.92" height="9.00" fill="#cdcdcd"/>
<rect x="207.40" y="96.40" width="2.92" height="9.20" fill="#e2176e"/>
<rect x="210.32" y="78.40" width="2.92" height="9.00" fill="#cdcdcd"/>
<rect x="210.32" y="87.40" width="2.92" height="9.00" fill="#cdcdcd"/>
<rect x="210.32" y="96.40" width="2.92" height="9.20" fill="#e2176e"/>
<rect x="213.24" y="78.40" width="2.92" height="9.00" fill="#cdcdcd"/>
<rect x="213.24" y="87.40" width="2.92" height="9.00" fill="#cdcdcd"/>
<rect x="213.24" y="96.40" width="2.92" height="9.20" fill="#e2176e"/>
<rect x="216.16" y="78.40" width="2.92" height="9.00" fill="#cdcdcd"/>
<rect x="216.16" y="87.40" width="2.92" height="9.00" fill="#cdcdcd"/>
<rect x="216.16" y="96.40" width="2.92" height="9.20" fill="#a7c3e8"/>
<rect x="219.08" y="78.40" width="2.92" height="9.00" fill="#cdcdcd"/>
<rect x="219.08" y="87.40" width="2.92" height="9.00" fill="#cdcdcd"/>
<rect x="219.08" y="96.40" width="2.92" height="9.20" fill="#a7c3e8"/>
<rect x="222.00" y="78.40" width="2.92" height="9.00" fill="#cdcdcd"/>
<rect x="222.00" y="87.40" width="2.92" height="9.00" fill="#cdcdcd"/>
<rect x="222.00" y="96.40" width="2.92" height="9.20" fill="#a7c3e8"/>
<rect x="224.92" y="78.40" width="2.92" height="9.00" fill="#cdcdcd"/>
<rect x="224.92" y="87.40" width="2.92" height="9.00" fill="#cdcdcd"/>
<rect x="224.92" y="96.40" width="2.92" height="9.20" fill="#a7c3e8"/>
<rect x="227.84" y="78.40" width="2.92" height="9.00" fill="#cdcdcd"/>
<rect x="227.84" y="87.40" width="2.92" height="9.00" fill="#cdcdcd"/>
<rect x="227.84" y="96.40" width="2.92" height="9.20" fill="#a7c3e8"/>
<rect x="230.76" y="78.40" width="2.92" height="9.00" fill="#cdcdcd"/>
<rect x="230.76" y="87.40" width="2.92" height="9.00" fill="#cdcdcd"/>
<rect x="230.76" y="96.40" width="2.92" height="9.20" fill="#a7c3e8"/>
<rect x="233.68" y="78.40" width="2.92" height="9.00" fill="#cdcdcd"/>
<rect x="233.68" y="87.40" width="2.92" height="9.00" fill="#cdcdcd"/>
<rect x="233.68" y="96.40" width="2.92" height="9.20" fill="#a7c3e8"/>
<rect x="236.60" y="78.40" width="2.92" height="9.00" fill="#cdcdcd"/>
<rect x="236.60" y="87.40" width="2.92" height="9.00" fill="#cdcdcd"/>
<rect x="236.60" y="96.40" width="2.92" height="9.20" fill="#a7c3e8"/>
<rect x="239.52" y="78.40" width="2.92" height="9.00" fill="#cdcdcd"/>
<rect x="239.52" y="87.40" width="2.92" height="9.00" fill="#cdcdcd"/>
<rect x="239.52" y="96.40" width="2.92" height="9.20" fill="#a7c3e8"/>
<rect x="242.44" y="78.40" width="2.92" height="9.00" fill="#cdcdcd"/>
<rect x="242.44" y="87.40" width="2.92" height="9.00" fill="#cdcdcd"/>
<rect x="242.44" y="96.40" width="2.92" height="9.20" fill="#a7c3e8"/>
<rect x="245.36" y="78.40" width="2.92" height="9.00" fill="#cdcdcd"/>
<rect x="245.36" y="87.40" width="2.92" height="9.00" fill="#cdcdcd"/>
<rect x="245.36" y="96.40" width="2.92" height="9.20" fill="#a7c3e8"/>
<rect x="248.28" y="78.40" width="2.92" height="9.00" fill="#cdcdcd"/>
<rect x="248.28" y="87.40" width="2.92" height="9.00" fill="#cdcdcd"/>
<rect x="248.28" y="96.40" width="2.92" height="9.20" fill="#a7c3e8"/>
<rect x="251.20" y="78.40" width="2.92" height="9.00" fill="#cdcdcd"/>
<rect x="251.20" y="87.40" width="2.92" height="9.00" fill="#cdcdcd"/>
<rect x="251.20" y="96.40" width="2.92" height="9.20" fill="#a7c3e8"/>
<rect x="254.12" y="78.40" width="2.92" height="9.00" fill="#cdcdcd"/>
<rect x="254.12" y="87.40" width="2.92" height="9.00" fill="#cdcdcd"/>
<rect x="254.12" y="96.40" width="2.92" height="9.20" fill="#a7c3e8"/>
<rect x="257.04" y="78.40" width="2.92" height="9.00" fill="#cdcdcd"/>
<rect x="257.04" y="87.40" width="2.92" height="9.00" fill="#cdcdcd"/>
<rect x="257.04" y="96.40" width="2.92" height="9.20" fill="#a7c3e8"/>
<rect x="259.96" y="78.40" width="2.92" height="9.00" fill="#cdcdcd"/>
<rect x="259.96" y="87.40" width="2.92" height="9.00" fill="#cdcdcd"/>
<rect x="259.96" y="96.40" width="2.92" height="9.20" fill="#e2176e"/>
<rect x="262.88" y="78.40" width="2.92" height="9.00" fill="#cdcdcd"/>
<rect x="262.88" y="87.40" width="2.92" height="9.00" fill="#cdcdcd"/>
<rect x="262.88" y="96.40" width="2.92" height="9.20" fill="#a7c3e8"/>
<rect x="265.80" y="78.40" width="2.92" height="9.00" fill="#cdcdcd"/>
<rect x="265.80" y="87.40" width="2.92" height="9.00" fill="#cdcdcd"/>
<rect x="265.80" y="96.40" width="2.92" height="9.20" fill="#a7c3e8"/>
<rect x="268.72" y="78.40" width="2.92" height="9.00" fill="#cdcdcd"/>
<rect x="268.72" y="87.40" width="2.92" height="9.00" fill="#cdcdcd"/>
<rect x="268.72" y="96.40" width="2.92" height="9.20" fill="#a7c3e8"/>
<rect x="271.64" y="78.40" width="2.92" height="9.00" fill="#cdcdcd"/>
<rect x="271.64" y="87.40" width="2.92" height="9.00" fill="#cdcdcd"/>
<rect x="271.64" y="96.40" width="2.92" height="9.20" fill="#e2176e"/>
<rect x="274.56" y="78.40" width="2.92" height="9.00" fill="#cdcdcd"/>
<rect x="274.56" y="87.40" width="2.92" height="9.00" fill="#cdcdcd"/>
<rect x="274.56" y="96.40" width="2.92" height="9.20" fill="#e2176e"/>
<rect x="277.48" y="78.40" width="2.92" height="9.00" fill="#cdcdcd"/>
<rect x="277.48" y="87.40" width="2.92" height="9.00" fill="#cdcdcd"/>
<rect x="277.48" y="96.40" width="2.92" height="9.20" fill="#a7c3e8"/>
<rect x="280.40" y="78.40" width="2.92" height="9.00" fill="#cdcdcd"/>
<rect x="280.40" y="87.40" width="2.92" height="9.00" fill="#cdcdcd"/>
<rect x="280.40" y="96.40" width="2.92" height="9.20" fill="#e2176e"/>
<rect x="283.32" y="78.40" width="2.92" height="9.00" fill="#cdcdcd"/>
<rect x="283.32" y="87.40" width="2.92" height="9.00" fill="#cdcdcd"/>
<rect x="283.32" y="96.40" width="2.92" height="9.20" fill="#e2176e"/>
<rect x="286.24" y="78.40" width="2.92" height="9.00" fill="#cdcdcd"/>
<rect x="286.24" y="87.40" width="2.92" height="9.00" fill="#cdcdcd"/>
<rect x="286.24" y="96.40" width="2.92" height="9.20" fill="#a7c3e8"/>
<rect x="289.16" y="78.40" width="2.92" height="9.00" fill="#cdcdcd"/>
<rect x="289.16" y="87.40" width="2.92" height="9.00" fill="#cdcdcd"/>
<rect x="289.16" y="96.40" width="2.92" height="9.20" fill="#e2176e"/>
<rect x="292.08" y="78.40" width="2.92" height="9.00" fill="#cdcdcd"/>
<rect x="292.08" y="87.40" width="2.92" height="9.00" fill="#cdcdcd"/>
<rect x="292.08" y="96.40" width="2.92" height="9.20" fill="#a7c3e8"/>
<rect x="295.00" y="78.40" width="2.92" height="9.00" fill="#cdcdcd"/>
<rect x="295.00" y="87.40" width="2.92" height="9.00" fill="#cdcdcd"/>
<rect x="295.00" y="96.40" width="2.92" height="9.20" fill="#e2176e"/>
<rect x="297.92" y="78.40" width="2.92" height="9.00" fill="#cdcdcd"/>
<rect x="297.92" y="87.40" width="2.92" height="9.00" fill="#cdcdcd"/>
<rect x="297.92" y="96.40" width="2.92" height="9.20" fill="#a7c3e8"/>
<rect x="300.84" y="78.40" width="2.92" height="9.00" fill="#cdcdcd"/>
<rect x="300.84" y="87.40" width="2.92" height="9.00" fill="#cdcdcd"/>
<rect x="300.84" y="96.40" width="2.92" height="9.20" fill="#e2176e"/>
<rect x="303.76" y="78.40" width="2.92" height="9.00" fill="#cdcdcd"/>
<rect x="303.76" y="87.40" width="2.92" height="9.00" fill="#cdcdcd"/>
<rect x="303.76" y="96.40" width="2.92" height="9.20" fill="#a7c3e8"/>
<rect x="306.68" y="78.40" width="2.92" height="9.00" fill="#cdcdcd"/>
<rect x="306.68" y="87.40" width="2.92" height="9.00" fill="#cdcdcd"/>
<rect x="306.68" y="96.40" width="2.92" height="9.20" fill="#a7c3e8"/>
<rect x="309.60" y="78.40" width="2.92" height="9.00" fill="#cdcdcd"/>
<rect x="309.60" y="87.40" width="2.92" height="9.00" fill="#cdcdcd"/>
<rect x="309.60" y="96.40" width="2.92" height="9.20" fill="#a7c3e8"/>
<rect x="312.52" y="78.40" width="2.92" height="9.00" fill="#cdcdcd"/>
<rect x="312.52" y="87.40" width="2.92" height="9.00" fill="#cdcdcd"/>
<rect x="312.52" y="96.40" width="2.92" height="9.20" fill="#e2176e"/>
<rect x="315.44" y="78.40" width="2.92" height="9.00" fill="#cdcdcd"/>
<rect x="315.44" y="87.40" width="2.92" height="9.00" fill="#cdcdcd"/>
<rect x="315.44" y="96.40" width="2.92" height="9.20" fill="#a7c3e8"/>
<rect x="318.36" y="78.40" width="2.92" height="9.00" fill="#cdcdcd"/>
<rect x="318.36" y="87.40" width="2.92" height="9.00" fill="#cdcdcd"/>
<rect x="318.36" y="96.40" width="2.92" height="9.20" fill="#a7c3e8"/>
<rect x="321.28" y="78.40" width="2.92" height="9.00" fill="#cdcdcd"/>
<rect x="321.28" y="87.40" width="2.92" height="9.00" fill="#cdcdcd"/>
<rect x="321.28" y="96.40" width="2.92" height="9.20" fill="#a7c3e8"/>
<rect x="324.20" y="78.40" width="2.92" height="9.00" fill="#cdcdcd"/>
<rect x="324.20" y="87.40" width="2.92" height="9.00" fill="#cdcdcd"/>
<rect x="324.20" y="96.40" width="2.92" height="9.20" fill="#e2176e"/>
<rect x="327.12" y="78.40" width="2.92" height="9.00" fill="#cdcdcd"/>
<rect x="327.12" y="87.40" width="2.92" height="9.00" fill="#cdcdcd"/>
<rect x="327.12" y="96.40" width="2.92" height="9.20" fill="#a7c3e8"/>
<rect x="330.04" y="78.40" width="2.92" height="9.00" fill="#cdcdcd"/>
<rect x="330.04" y="87.40" width="2.92" height="9.00" fill="#cdcdcd"/>
<rect x="330.04" y="96.40" width="2.92" height="9.20" fill="#a7c3e8"/>
<rect x="332.96" y="78.40" width="2.92" height="9.00" fill="#cdcdcd"/>
<rect x="332.96" y="87.40" width="2.92" height="9.00" fill="#cdcdcd"/>
<rect x="332.96" y="96.40" width="2.92" height="9.20" fill="#e2176e"/>
<rect x="335.88" y="78.40" width="2.92" height="9.00" fill="#cdcdcd"/>
<rect x="335.88" y="87.40" width="2.92" height="9.00" fill="#cdcdcd"/>
<rect x="335.88" y="96.40" width="2.92" height="9.20" fill="#e2176e"/>
<rect x="338.80" y="78.40" width="2.92" height="9.00" fill="#cdcdcd"/>
<rect x="338.80" y="87.40" width="2.92" height="9.00" fill="#cdcdcd"/>
<rect x="338.80" y="96.40" width="2.92" height="9.20" fill="#a7c3e8"/>
<rect x="341.72" y="78.40" width="2.92" height="9.00" fill="#cdcdcd"/>
<rect x="341.72" y="87.40" width="2.92" height="9.00" fill="#cdcdcd"/>
<rect x="341.72" y="96.40" width="2.92" height="9.20" fill="#a7c3e8"/>
<rect x="344.64" y="78.40" width="2.92" height="9.00" fill="#cdcdcd"/>
<rect x="344.64" y="87.40" width="2.92" height="9.00" fill="#cdcdcd"/>
<rect x="344.64" y="96.40" width="2.92" height="9.20" fill="#a7c3e8"/>
<rect x="347.56" y="78.40" width="2.92" height="9.00" fill="#cdcdcd"/>
<rect x="347.56" y="87.40" width="2.92" height="9.00" fill="#cdcdcd"/>
<rect x="347.56" y="96.40" width="2.92" height="9.20" fill="#e2176e"/>
<rect x="350.48" y="78.40" width="2.92" height="9.00" fill="#cdcdcd"/>
<rect x="350.48" y="87.40" width="2.92" height="9.00" fill="#cdcdcd"/>
<rect x="350.48" y="96.40" width="2.92" height="9.20" fill="#e2176e"/>
<rect x="353.40" y="78.40" width="2.92" height="9.00" fill="#cdcdcd"/>
<rect x="353.40" y="87.40" width="2.92" height="9.00" fill="#cdcdcd"/>
<rect x="353.40" y="96.40" width="2.92" height="9.20" fill="#a7c3e8"/>
<rect x="356.32" y="78.40" width="2.92" height="9.00" fill="#cdcdcd"/>
<rect x="356.32" y="87.40" width="2.92" height="9.00" fill="#cdcdcd"/>
<rect x="356.32" y="96.40" width="2.92" height="9.20" fill="#a7c3e8"/>
<rect x="359.24" y="78.40" width="2.92" height="9.00" fill="#cdcdcd"/>
<rect x="359.24" y="87.40" width="2.92" height="9.00" fill="#cdcdcd"/>
<rect x="359.24" y="96.40" width="2.92" height="9.20" fill="#a7c3e8"/>
<rect x="362.16" y="78.40" width="2.92" height="9.00" fill="#cdcdcd"/>
<rect x="362.16" y="87.40" width="2.92" height="9.00" fill="#cdcdcd"/>
<rect x="362.16" y="96.40" width="2.92" height="9.20" fill="#e2176e"/>
<rect x="365.08" y="78.40" width="2.92" height="9.00" fill="#cdcdcd"/>
<rect x="365.08" y="87.40" width="2.92" height="9.00" fill="#cdcdcd"/>
<rect x="365.08" y="96.40" width="2.92" height="9.20" fill="#e2176e"/>
<rect x="368.00" y="78.40" width="2.92" height="9.00" fill="#cdcdcd"/>
<rect x="368.00" y="87.40" width="2.92" height="9.00" fill="#cdcdcd"/>
<rect x="368.00" y="96.40" width="2.92" height="9.20" fill="#a7c3e8"/>
<rect x="370.92" y="78.40" width="2.92" height="9.00" fill="#cdcdcd"/>
<rect x="370.92" y="87.40" width="2.92" height="9.00" fill="#cdcdcd"/>
<rect x="370.92" y="96.40" width="2.92" height="9.20" fill="#e2176e"/>
<rect x="373.84" y="78.40" width="2.92" height="9.00" fill="#cdcdcd"/>
<rect x="373.84" y="87.40" width="2.92" height="9.00" fill="#cdcdcd"/>
<rect x="373.84" y="96.40" width="2.92" height="9.20" fill="#e2176e"/>
<rect x="376.76" y="78.40" width="2.92" height="9.00" fill="#cdcdcd"/>
<rect x="376.76" y="87.40" width="2.92" height="9.00" fill="#cdcdcd"/>
<rect x="376.76" y="96.40" width="2.92" height="9.20" fill="#e2176e"/>
<rect x="379.68" y="78.40" width="2.92" height="9.00" fill="#cdcdcd"/>
<rect x="379.68" y="87.40" width="2.92" height="9.00" fill="#cdcdcd"/>
<rect x="379.68" y="96.40" width="2.92" height="9.20" fill="#a7c3e8"/>
<rect x="382.60" y="78.40" width="2.92" height="9.00" fill="#cdcdcd"/>
<rect x="382.60" y="87.40" width="2.92" height="9.00" fill="#cdcdcd"/>
<rect x="382.60" y="96.40" width="2.92" height="9.20" fill="#a7c3e8"/>
<rect x="385.52" y="78.40" width="2.92" height="9.00" fill="#cdcdcd"/>
<rect x="385.52" y="87.40" width="2.92" height="9.00" fill="#cdcdcd"/>
<rect x="385.52" y="96.40" width="2.92" height="9.20" fill="#a7c3e8"/>
<rect x="388.44" y="78.40" width="2.92" height="9.00" fill="#cdcdcd"/>
<rect x="388.44" y="87.40" width="2.92" height="9.00" fill="#cdcdcd"/>
<rect x="388.44" y="96.40" width="2.92" height="9.20" fill="#a7c3e8"/>
<rect x="391.36" y="78.40" width="2.92" height="9.00" fill="#cdcdcd"/>
<rect x="391.36" y="87.40" width="2.92" height="9.00" fill="#cdcdcd"/>
<rect x="391.36" y="96.40" width="2.92" height="9.20" fill="#a7c3e8"/>
<rect x="394.28" y="78.40" width="2.92" height="9.00" fill="#cdcdcd"/>
<rect x="394.28" y="87.40" width="2.92" height="9.00" fill="#cdcdcd"/>
<rect x="394.28" y="96.40" width="2.92" height="9.20" fill="#e2176e"/>
<rect x="397.20" y="78.40" width="2.92" height="9.00" fill="#cdcdcd"/>
<rect x="397.20" y="87.40" width="2.92" height="9.00" fill="#cdcdcd"/>
<rect x="397.20" y="96.40" width="2.92" height="9.20" fill="#e2176e"/>
<rect x="400.12" y="78.40" width="2.92" height="9.00" fill="#cdcdcd"/>
<rect x="400.12" y="87.40" width="2.92" height="9.00" fill="#cdcdcd"/>
<rect x="400.12" y="96.40" width="2.92" height="9.20" fill="#a7c3e8"/>
<rect x="403.04" y="78.40" width="2.92" height="9.00" fill="#cdcdcd"/>
<rect x="403.04" y="87.40" width="2.92" height="9.00" fill="#cdcdcd"/>
<rect x="403.04" y="96.40" width="2.92" height="9.20" fill="#e2176e"/>
<rect x="405.96" y="78.40" width="2.92" height="9.00" fill="#cdcdcd"/>
<rect x="405.96" y="87.40" width="2.92" height="9.00" fill="#cdcdcd"/>
<rect x="405.96" y="96.40" width="2.92" height="9.20" fill="#a7c3e8"/>
<rect x="408.88" y="78.40" width="2.92" height="9.00" fill="#cdcdcd"/>
<rect x="408.88" y="87.40" width="2.92" height="9.00" fill="#cdcdcd"/>
<rect x="408.88" y="96.40" width="2.92" height="9.20" fill="#e2176e"/>
<rect x="411.80" y="78.40" width="2.92" height="9.00" fill="#cdcdcd"/>
<rect x="411.80" y="87.40" width="2.92" height="9.00" fill="#cdcdcd"/>
<rect x="411.80" y="96.40" width="2.92" height="9.20" fill="#e2176e"/>
<rect x="414.72" y="78.40" width="2.92" height="9.00" fill="#cdcdcd"/>
<rect x="414.72" y="87.40" width="2.92" height="9.00" fill="#cdcdcd"/>
<rect x="414.72" y="96.40" width="2.92" height="9.20" fill="#a7c3e8"/>
<rect x="417.64" y="78.40" width="2.92" height="9.00" fill="#cdcdcd"/>
<rect x="417.64" y="87.40" width="2.92" height="9.00" fill="#cdcdcd"/>
<rect x="417.64" y="96.40" width="2.92" height="9.20" fill="#e2176e"/>
<rect x="420.56" y="78.40" width="2.92" height="9.00" fill="#cdcdcd"/>
<rect x="420.56" y="87.40" width="2.92" height="9.00" fill="#cdcdcd"/>
<rect x="420.56" y="96.40" width="2.92" height="9.20" fill="#a7c3e8"/>
<rect x="423.48" y="78.40" width="2.92" height="9.00" fill="#cdcdcd"/>
<rect x="423.48" y="87.40" width="2.92" height="9.00" fill="#cdcdcd"/>
<rect x="423.48" y="96.40" width="2.92" height="9.20" fill="#e2176e"/>
<rect x="426.40" y="78.40" width="2.92" height="9.00" fill="#cdcdcd"/>
<rect x="426.40" y="87.40" width="2.92" height="9.00" fill="#cdcdcd"/>
<rect x="426.40" y="96.40" width="2.92" height="9.20" fill="#a7c3e8"/>
<rect x="429.32" y="78.40" width="2.92" height="9.00" fill="#cdcdcd"/>
<rect x="429.32" y="87.40" width="2.92" height="9.00" fill="#cdcdcd"/>
<rect x="429.32" y="96.40" width="2.92" height="9.20" fill="#a7c3e8"/>
<rect x="432.24" y="78.40" width="2.92" height="9.00" fill="#cdcdcd"/>
<rect x="432.24" y="87.40" width="2.92" height="9.00" fill="#cdcdcd"/>
<rect x="432.24" y="96.40" width="2.92" height="9.20" fill="#a7c3e8"/>
<rect x="435.16" y="78.40" width="2.92" height="9.00" fill="#cdcdcd"/>
<rect x="435.16" y="87.40" width="2.92" height="9.00" fill="#cdcdcd"/>
<rect x="435.16" y="96.40" width="2.92" height="9.20" fill="#e2176e"/>
<rect x="438.08" y="78.40" width="2.92" height="9.00" fill="#cdcdcd"/>
<rect x="438.08" y="87.40" width="2.92" height="9.00" fill="#cdcdcd"/>
<rect x="438.08" y="96.40" width="2.92" height="9.20" fill="#e2176e"/>
<rect x="441.00" y="78.40" width="2.92" height="9.00" fill="#cdcdcd"/>
<rect x="441.00" y="87.40" width="2.92" height="9.00" fill="#cdcdcd"/>
<rect x="441.00" y="96.40" width="2.92" height="9.20" fill="#e2176e"/>
<rect x="443.92" y="78.40" width="2.92" height="9.00" fill="#cdcdcd"/>
<rect x="443.92" y="87.40" width="2.92" height="9.00" fill="#cdcdcd"/>
<rect x="443.92" y="96.40" width="2.92" height="9.20" fill="#a7c3e8"/>
<rect x="446.84" y="78.40" width="2.92" height="9.00" fill="#cdcdcd"/>
<rect x="446.84" y="87.40" width="2.92" height="9.00" fill="#cdcdcd"/>
<rect x="446.84" y="96.40" width="2.92" height="9.20" fill="#e2176e"/>
<rect x="449.76" y="78.40" width="2.92" height="9.00" fill="#cdcdcd"/>
<rect x="449.76" y="87.40" width="2.92" height="9.00" fill="#cdcdcd"/>
<rect x="449.76" y="96.40" width="2.92" height="9.20" fill="#a7c3e8"/>
<rect x="452.68" y="78.40" width="2.92" height="9.00" fill="#cdcdcd"/>
<rect x="452.68" y="87.40" width="2.92" height="9.00" fill="#cdcdcd"/>
<rect x="452.68" y="96.40" width="2.92" height="9.20" fill="#a7c3e8"/>
<rect x="455.60" y="78.40" width="2.92" height="9.00" fill="#cdcdcd"/>
<rect x="455.60" y="87.40" width="2.92" height="9.00" fill="#cdcdcd"/>
<rect x="455.60" y="96.40" width="2.92" height="9.20" fill="#a7c3e8"/>
<rect x="458.52" y="78.40" width="2.92" height="9.00" fill="#cdcdcd"/>
<rect x="458.52" y="87.40" width="2.92" height="9.00" fill="#cdcdcd"/>
<rect x="458.52" y="96.40" width="2.92" height="9.20" fill="#a7c3e8"/>
<rect x="461.44" y="78.40" width="2.92" height="9.00" fill="#cdcdcd"/>
<rect x="461.44" y="87.40" width="2.92" height="9.00" fill="#cdcdcd"/>
<rect x="461.44" y="96.40" width="2.92" height="9.20" fill="#a7c3e8"/>
<rect x="464.36" y="78.40" width="2.92" height="9.00" fill="#cdcdcd"/>
<rect x="464.36" y="87.40" width="2.92" height="9.00" fill="#cdcdcd"/>
<rect x="464.36" y="96.40" width="2.92" height="9.20" fill="#e2176e"/>
<rect x="467.28" y="78.40" width="2.92" height="9.00" fill="#cdcdcd"/>
<rect x="467.28" y="87.40" width="2.92" height="9.00" fill="#cdcdcd"/>
<rect x="467.28" y="96.40" width="2.92" height="9.20" fill="#a7c3e8"/>
<rect x="470.20" y="78.40" width="2.92" height="9.00" fill="#cdcdcd"/>
<rect x="470.20" y="87.40" width="2.92" height="9.00" fill="#cdcdcd"/>
<rect x="470.20" y="96.40" width="2.92" height="9.20" fill="#a7c3e8"/>
<rect x="473.12" y="78.40" width="2.92" height="9.00" fill="#cdcdcd"/>
<rect x="473.12" y="87.40" width="2.92" height="9.00" fill="#cdcdcd"/>
<rect x="473.12" y="96.40" width="2.92" height="9.20" fill="#a7c3e8"/>
<rect x="476.04" y="78.40" width="2.92" height="9.00" fill="#cdcdcd"/>
<rect x="476.04" y="87.40" width="2.92" height="9.00" fill="#cdcdcd"/>
<rect x="476.04" y="96.40" width="2.92" height="9.20" fill="#a7c3e8"/>
<rect x="478.96" y="78.40" width="2.92" height="9.00" fill="#cdcdcd"/>
<rect x="478.96" y="87.40" width="2.92" height="9.00" fill="#cdcdcd"/>
<rect x="478.96" y="96.40" width="2.92" height="9.20" fill="#e2176e"/>
<rect x="481.88" y="78.40" width="2.92" height="9.00" fill="#cdcdcd"/>
<rect x="481.88" y="87.40" width="2.92" height="9.00" fill="#cdcdcd"/>
<rect x="481.88" y="96.40" width="2.92" height="9.20" fill="#a7c3e8"/>
<rect x="484.80" y="78.40" width="2.92" height="9.00" fill="#cdcdcd"/>
<rect x="484.80" y="87.40" width="2.92" height="9.00" fill="#cdcdcd"/>
<rect x="484.80" y="96.40" width="2.92" height="9.20" fill="#a7c3e8"/>
<rect x="487.72" y="78.40" width="2.92" height="9.00" fill="#cdcdcd"/>
<rect x="487.72" y="87.40" width="2.92" height="9.00" fill="#cdcdcd"/>
<rect x="487.72" y="96.40" width="2.92" height="9.20" fill="#a7c3e8"/>
<rect x="490.64" y="78.40" width="2.92" height="9.00" fill="#cdcdcd"/>
<rect x="490.64" y="87.40" width="2.92" height="9.00" fill="#cdcdcd"/>
<rect x="490.64" y="96.40" width="2.92" height="9.20" fill="#e2176e"/>
<rect x="493.56" y="78.40" width="2.92" height="9.00" fill="#cdcdcd"/>
<rect x="493.56" y="87.40" width="2.92" height="9.00" fill="#cdcdcd"/>
<rect x="493.56" y="96.40" width="2.92" height="9.20" fill="#a7c3e8"/>
<rect x="496.48" y="78.40" width="2.92" height="9.00" fill="#cdcdcd"/>
<rect x="496.48" y="87.40" width="2.92" height="9.00" fill="#cdcdcd"/>
<rect x="496.48" y="96.40" width="2.92" height="9.20" fill="#a7c3e8"/>
<rect x="499.40" y="78.40" width="2.92" height="9.00" fill="#cdcdcd"/>
<rect x="499.40" y="87.40" width="2.92" height="9.00" fill="#cdcdcd"/>
<rect x="499.40" y="96.40" width="2.92" height="9.20" fill="#e2176e"/>
<rect x="502.32" y="78.40" width="2.92" height="9.00" fill="#cdcdcd"/>
<rect x="502.32" y="87.40" width="2.92" height="9.00" fill="#cdcdcd"/>
<rect x="502.32" y="96.40" width="2.92" height="9.20" fill="#e2176e"/>
<rect x="505.24" y="78.40" width="2.92" height="9.00" fill="#cdcdcd"/>
<rect x="505.24" y="87.40" width="2.92" height="9.00" fill="#cdcdcd"/>
<rect x="505.24" y="96.40" width="2.92" height="9.20" fill="#e2176e"/>
<rect x="508.16" y="78.40" width="2.92" height="9.00" fill="#cdcdcd"/>
<rect x="508.16" y="87.40" width="2.92" height="9.00" fill="#cdcdcd"/>
<rect x="508.16" y="96.40" width="2.92" height="9.20" fill="#e2176e"/>
<rect x="102.58" y="78.80" width="2.32" height="8.60" fill="#2a2a2a"/>
<rect x="114.26" y="78.80" width="2.32" height="8.60" fill="#2a2a2a"/>
<rect x="137.62" y="78.80" width="2.32" height="8.60" fill="#2a2a2a"/>
<rect x="140.54" y="78.80" width="2.32" height="8.60" fill="#2a2a2a"/>
<rect x="163.90" y="78.80" width="2.32" height="8.60" fill="#2a2a2a"/>
<rect x="172.66" y="78.80" width="2.32" height="8.60" fill="#2a2a2a"/>
<rect x="178.50" y="78.80" width="2.32" height="8.60" fill="#2a2a2a"/>
<rect x="190.18" y="78.80" width="2.32" height="8.60" fill="#2a2a2a"/>
<rect x="193.10" y="78.80" width="2.32" height="8.60" fill="#2a2a2a"/>
<rect x="201.86" y="78.80" width="2.32" height="8.60" fill="#2a2a2a"/>
<rect x="216.46" y="78.80" width="2.32" height="8.60" fill="#2a2a2a"/>
<rect x="219.38" y="78.80" width="2.32" height="8.60" fill="#2a2a2a"/>
<rect x="222.30" y="78.80" width="2.32" height="8.60" fill="#2a2a2a"/>
<rect x="228.14" y="78.80" width="2.32" height="8.60" fill="#2a2a2a"/>
<rect x="231.06" y="78.80" width="2.32" height="8.60" fill="#2a2a2a"/>
<rect x="236.90" y="78.80" width="2.32" height="8.60" fill="#2a2a2a"/>
<rect x="239.82" y="78.80" width="2.32" height="8.60" fill="#2a2a2a"/>
<rect x="242.74" y="78.80" width="2.32" height="8.60" fill="#2a2a2a"/>
<rect x="269.02" y="78.80" width="2.32" height="8.60" fill="#2a2a2a"/>
<rect x="286.54" y="78.80" width="2.32" height="8.60" fill="#2a2a2a"/>
<rect x="289.46" y="78.80" width="2.32" height="8.60" fill="#2a2a2a"/>
<rect x="292.38" y="78.80" width="2.32" height="8.60" fill="#2a2a2a"/>
<rect x="295.30" y="78.80" width="2.32" height="8.60" fill="#2a2a2a"/>
<rect x="304.06" y="78.80" width="2.32" height="8.60" fill="#2a2a2a"/>
<rect x="309.90" y="78.80" width="2.32" height="8.60" fill="#2a2a2a"/>
<rect x="312.82" y="78.80" width="2.32" height="8.60" fill="#2a2a2a"/>
<rect x="318.66" y="78.80" width="2.32" height="8.60" fill="#2a2a2a"/>
<rect x="327.42" y="78.80" width="2.32" height="8.60" fill="#2a2a2a"/>
<rect x="336.18" y="78.80" width="2.32" height="8.60" fill="#2a2a2a"/>
<rect x="344.94" y="78.80" width="2.32" height="8.60" fill="#2a2a2a"/>
<rect x="347.86" y="78.80" width="2.32" height="8.60" fill="#2a2a2a"/>
<rect x="356.62" y="78.80" width="2.32" height="8.60" fill="#2a2a2a"/>
<rect x="359.54" y="78.80" width="2.32" height="8.60" fill="#2a2a2a"/>
<rect x="362.46" y="78.80" width="2.32" height="8.60" fill="#2a2a2a"/>
<rect x="365.38" y="78.80" width="2.32" height="8.60" fill="#2a2a2a"/>
<rect x="371.22" y="78.80" width="2.32" height="8.60" fill="#2a2a2a"/>
<rect x="374.14" y="78.80" width="2.32" height="8.60" fill="#2a2a2a"/>
<rect x="391.66" y="78.80" width="2.32" height="8.60" fill="#2a2a2a"/>
<rect x="406.26" y="78.80" width="2.32" height="8.60" fill="#2a2a2a"/>
<rect x="417.94" y="78.80" width="2.32" height="8.60" fill="#2a2a2a"/>
<rect x="423.78" y="78.80" width="2.32" height="8.60" fill="#2a2a2a"/>
<rect x="429.62" y="78.80" width="2.32" height="8.60" fill="#2a2a2a"/>
<rect x="432.54" y="78.80" width="2.32" height="8.60" fill="#2a2a2a"/>
<rect x="435.46" y="78.80" width="2.32" height="8.60" fill="#2a2a2a"/>
<rect x="441.30" y="78.80" width="2.32" height="8.60" fill="#2a2a2a"/>
<rect x="450.06" y="78.80" width="2.32" height="8.60" fill="#2a2a2a"/>
<rect x="455.90" y="78.80" width="2.32" height="8.60" fill="#2a2a2a"/>
<rect x="458.82" y="78.80" width="2.32" height="8.60" fill="#2a2a2a"/>
<rect x="473.42" y="78.80" width="2.32" height="8.60" fill="#2a2a2a"/>
<rect x="479.26" y="78.80" width="2.32" height="8.60" fill="#2a2a2a"/>
<rect x="485.10" y="78.80" width="2.32" height="8.60" fill="#2a2a2a"/>
<rect x="490.94" y="78.80" width="2.32" height="8.60" fill="#2a2a2a"/>
<rect x="493.86" y="78.80" width="2.32" height="8.60" fill="#2a2a2a"/>
<rect x="502.62" y="78.80" width="2.32" height="8.60" fill="#2a2a2a"/>
<rect x="377.06" y="78.80" width="2.32" height="8.60" fill="#e8281e"/>
<rect x="379.98" y="78.80" width="2.32" height="8.60" fill="#e8281e"/>
<rect x="96.74" y="87.40" width="2.32" height="9.00" fill="#2a2a2a"/>
<rect x="105.50" y="87.40" width="2.32" height="9.00" fill="#2a2a2a"/>
<rect x="134.70" y="87.40" width="2.32" height="9.00" fill="#2a2a2a"/>
<rect x="140.54" y="87.40" width="2.32" height="9.00" fill="#2a2a2a"/>
<rect x="152.22" y="87.40" width="2.32" height="9.00" fill="#2a2a2a"/>
<rect x="155.14" y="87.40" width="2.32" height="9.00" fill="#2a2a2a"/>
<rect x="158.06" y="87.40" width="2.32" height="9.00" fill="#2a2a2a"/>
<rect x="163.90" y="87.40" width="2.32" height="9.00" fill="#2a2a2a"/>
<rect x="172.66" y="87.40" width="2.32" height="9.00" fill="#2a2a2a"/>
<rect x="175.58" y="87.40" width="2.32" height="9.00" fill="#2a2a2a"/>
<rect x="187.26" y="87.40" width="2.32" height="9.00" fill="#2a2a2a"/>
<rect x="193.10" y="87.40" width="2.32" height="9.00" fill="#2a2a2a"/>
<rect x="210.62" y="87.40" width="2.32" height="9.00" fill="#2a2a2a"/>
<rect x="216.46" y="87.40" width="2.32" height="9.00" fill="#2a2a2a"/>
<rect x="231.06" y="87.40" width="2.32" height="9.00" fill="#2a2a2a"/>
<rect x="251.50" y="87.40" width="2.32" height="9.00" fill="#2a2a2a"/>
<rect x="260.26" y="87.40" width="2.32" height="9.00" fill="#2a2a2a"/>
<rect x="263.18" y="87.40" width="2.32" height="9.00" fill="#2a2a2a"/>
<rect x="274.86" y="87.40" width="2.32" height="9.00" fill="#2a2a2a"/>
<rect x="277.78" y="87.40" width="2.32" height="9.00" fill="#2a2a2a"/>
<rect x="283.62" y="87.40" width="2.32" height="9.00" fill="#2a2a2a"/>
<rect x="286.54" y="87.40" width="2.32" height="9.00" fill="#2a2a2a"/>
<rect x="298.22" y="87.40" width="2.32" height="9.00" fill="#2a2a2a"/>
<rect x="301.14" y="87.40" width="2.32" height="9.00" fill="#2a2a2a"/>
<rect x="304.06" y="87.40" width="2.32" height="9.00" fill="#2a2a2a"/>
<rect x="306.98" y="87.40" width="2.32" height="9.00" fill="#2a2a2a"/>
<rect x="309.90" y="87.40" width="2.32" height="9.00" fill="#2a2a2a"/>
<rect x="312.82" y="87.40" width="2.32" height="9.00" fill="#2a2a2a"/>
<rect x="315.74" y="87.40" width="2.32" height="9.00" fill="#2a2a2a"/>
<rect x="318.66" y="87.40" width="2.32" height="9.00" fill="#2a2a2a"/>
<rect x="321.58" y="87.40" width="2.32" height="9.00" fill="#2a2a2a"/>
<rect x="324.50" y="87.40" width="2.32" height="9.00" fill="#2a2a2a"/>
<rect x="327.42" y="87.40" width="2.32" height="9.00" fill="#2a2a2a"/>
<rect x="330.34" y="87.40" width="2.32" height="9.00" fill="#2a2a2a"/>
<rect x="344.94" y="87.40" width="2.32" height="9.00" fill="#2a2a2a"/>
<rect x="347.86" y="87.40" width="2.32" height="9.00" fill="#2a2a2a"/>
<rect x="379.98" y="87.40" width="2.32" height="9.00" fill="#2a2a2a"/>
<rect x="388.74" y="87.40" width="2.32" height="9.00" fill="#2a2a2a"/>
<rect x="391.66" y="87.40" width="2.32" height="9.00" fill="#2a2a2a"/>
<rect x="409.18" y="87.40" width="2.32" height="9.00" fill="#2a2a2a"/>
<rect x="412.10" y="87.40" width="2.32" height="9.00" fill="#2a2a2a"/>
<rect x="438.38" y="87.40" width="2.32" height="9.00" fill="#2a2a2a"/>
<rect x="441.30" y="87.40" width="2.32" height="9.00" fill="#2a2a2a"/>
<rect x="450.06" y="87.40" width="2.32" height="9.00" fill="#2a2a2a"/>
<rect x="455.90" y="87.40" width="2.32" height="9.00" fill="#2a2a2a"/>
<rect x="496.78" y="87.40" width="2.32" height="9.00" fill="#2a2a2a"/>
<rect x="499.70" y="87.40" width="2.32" height="9.00" fill="#2a2a2a"/>
<rect x="508.46" y="87.40" width="2.32" height="9.00" fill="#2a2a2a"/>
<line x1="90.60" y1="78.40" x2="90.60" y2="105.60" stroke="#ffffff" stroke-width="0.35" opacity="0.7"/>
<line x1="93.52" y1="78.40" x2="93.52" y2="105.60" stroke="#ffffff" stroke-width="0.35" opacity="0.7"/>
<line x1="96.44" y1="78.40" x2="96.44" y2="105.60" stroke="#ffffff" stroke-width="0.35" opacity="0.7"/>
<line x1="99.36" y1="78.40" x2="99.36" y2="105.60" stroke="#ffffff" stroke-width="0.35" opacity="0.7"/>
<line x1="102.28" y1="78.40" x2="102.28" y2="105.60" stroke="#ffffff" stroke-width="0.35" opacity="0.7"/>
<line x1="105.20" y1="78.40" x2="105.20" y2="105.60" stroke="#ffffff" stroke-width="0.35" opacity="0.7"/>
<line x1="108.12" y1="78.40" x2="108.12" y2="105.60" stroke="#ffffff" stroke-width="0.35" opacity="0.7"/>
<line x1="111.04" y1="78.40" x2="111.04" y2="105.60" stroke="#ffffff" stroke-width="0.35" opacity="0.7"/>
<line x1="113.96" y1="78.40" x2="113.96" y2="105.60" stroke="#ffffff" stroke-width="0.35" opacity="0.7"/>
<line x1="116.88" y1="78.40" x2="116.88" y2="105.60" stroke="#ffffff" stroke-width="0.35" opacity="0.7"/>
<line x1="119.80" y1="78.40" x2="119.80" y2="105.60" stroke="#ffffff" stroke-width="0.35" opacity="0.7"/>
<line x1="122.72" y1="78.40" x2="122.72" y2="105.60" stroke="#ffffff" stroke-width="0.35" opacity="0.7"/>
<line x1="125.64" y1="78.40" x2="125.64" y2="105.60" stroke="#ffffff" stroke-width="0.35" opacity="0.7"/>
<line x1="128.56" y1="78.40" x2="128.56" y2="105.60" stroke="#ffffff" stroke-width="0.35" opacity="0.7"/>
<line x1="131.48" y1="78.40" x2="131.48" y2="105.60" stroke="#ffffff" stroke-width="0.35" opacity="0.7"/>
<line x1="134.40" y1="78.40" x2="134.40" y2="105.60" stroke="#ffffff" stroke-width="0.35" opacity="0.7"/>
<line x1="137.32" y1="78.40" x2="137.32" y2="105.60" stroke="#ffffff" stroke-width="0.35" opacity="0.7"/>
<line x1="140.24" y1="78.40" x2="140.24" y2="105.60" stroke="#ffffff" stroke-width="0.35" opacity="0.7"/>
<line x1="143.16" y1="78.40" x2="143.16" y2="105.60" stroke="#ffffff" stroke-width="0.35" opacity="0.7"/>
<line x1="146.08" y1="78.40" x2="146.08" y2="105.60" stroke="#ffffff" stroke-width="0.35" opacity="0.7"/>
<line x1="149.00" y1="78.40" x2="149.00" y2="105.60" stroke="#ffffff" stroke-width="0.35" opacity="0.7"/>
<line x1="151.92" y1="78.40" x2="151.92" y2="105.60" stroke="#ffffff" stroke-width="0.35" opacity="0.7"/>
<line x1="154.84" y1="78.40" x2="154.84" y2="105.60" stroke="#ffffff" stroke-width="0.35" opacity="0.7"/>
<line x1="157.76" y1="78.40" x2="157.76" y2="105.60" stroke="#ffffff" stroke-width="0.35" opacity="0.7"/>
<line x1="160.68" y1="78.40" x2="160.68" y2="105.60" stroke="#ffffff" stroke-width="0.35" opacity="0.7"/>
<line x1="163.60" y1="78.40" x2="163.60" y2="105.60" stroke="#ffffff" stroke-width="0.35" opacity="0.7"/>
<line x1="166.52" y1="78.40" x2="166.52" y2="105.60" stroke="#ffffff" stroke-width="0.35" opacity="0.7"/>
<line x1="169.44" y1="78.40" x2="169.44" y2="105.60" stroke="#ffffff" stroke-width="0.35" opacity="0.7"/>
<line x1="172.36" y1="78.40" x2="172.36" y2="105.60" stroke="#ffffff" stroke-width="0.35" opacity="0.7"/>
<line x1="175.28" y1="78.40" x2="175.28" y2="105.60" stroke="#ffffff" stroke-width="0.35" opacity="0.7"/>
<line x1="178.20" y1="78.40" x2="178.20" y2="105.60" stroke="#ffffff" stroke-width="0.35" opacity="0.7"/>
<line x1="181.12" y1="78.40" x2="181.12" y2="105.60" stroke="#ffffff" stroke-width="0.35" opacity="0.7"/>
<line x1="184.04" y1="78.40" x2="184.04" y2="105.60" stroke="#ffffff" stroke-width="0.35" opacity="0.7"/>
<line x1="186.96" y1="78.40" x2="186.96" y2="105.60" stroke="#ffffff" stroke-width="0.35" opacity="0.7"/>
<line x1="189.88" y1="78.40" x2="189.88" y2="105.60" stroke="#ffffff" stroke-width="0.35" opacity="0.7"/>
<line x1="192.80" y1="78.40" x2="192.80" y2="105.60" stroke="#ffffff" stroke-width="0.35" opacity="0.7"/>
<line x1="195.72" y1="78.40" x2="195.72" y2="105.60" stroke="#ffffff" stroke-width="0.35" opacity="0.7"/>
<line x1="198.64" y1="78.40" x2="198.64" y2="105.60" stroke="#ffffff" stroke-width="0.35" opacity="0.7"/>
<line x1="201.56" y1="78.40" x2="201.56" y2="105.60" stroke="#ffffff" stroke-width="0.35" opacity="0.7"/>
<line x1="204.48" y1="78.40" x2="204.48" y2="105.60" stroke="#ffffff" stroke-width="0.35" opacity="0.7"/>
<line x1="207.40" y1="78.40" x2="207.40" y2="105.60" stroke="#ffffff" stroke-width="0.35" opacity="0.7"/>
<line x1="210.32" y1="78.40" x2="210.32" y2="105.60" stroke="#ffffff" stroke-width="0.35" opacity="0.7"/>
<line x1="213.24" y1="78.40" x2="213.24" y2="105.60" stroke="#ffffff" stroke-width="0.35" opacity="0.7"/>
<line x1="216.16" y1="78.40" x2="216.16" y2="105.60" stroke="#ffffff" stroke-width="0.35" opacity="0.7"/>
<line x1="219.08" y1="78.40" x2="219.08" y2="105.60" stroke="#ffffff" stroke-width="0.35" opacity="0.7"/>
<line x1="222.00" y1="78.40" x2="222.00" y2="105.60" stroke="#ffffff" stroke-width="0.35" opacity="0.7"/>
<line x1="224.92" y1="78.40" x2="224.92" y2="105.60" stroke="#ffffff" stroke-width="0.35" opacity="0.7"/>
<line x1="227.84" y1="78.40" x2="227.84" y2="105.60" stroke="#ffffff" stroke-width="0.35" opacity="0.7"/>
<line x1="230.76" y1="78.40" x2="230.76" y2="105.60" stroke="#ffffff" stroke-width="0.35" opacity="0.7"/>
<line x1="233.68" y1="78.40" x2="233.68" y2="105.60" stroke="#ffffff" stroke-width="0.35" opacity="0.7"/>
<line x1="236.60" y1="78.40" x2="236.60" y2="105.60" stroke="#ffffff" stroke-width="0.35" opacity="0.7"/>
<line x1="239.52" y1="78.40" x2="239.52" y2="105.60" stroke="#ffffff" stroke-width="0.35" opacity="0.7"/>
<line x1="242.44" y1="78.40" x2="242.44" y2="105.60" stroke="#ffffff" stroke-width="0.35" opacity="0.7"/>
<line x1="245.36" y1="78.40" x2="245.36" y2="105.60" stroke="#ffffff" stroke-width="0.35" opacity="0.7"/>
<line x1="248.28" y1="78.40" x2="248.28" y2="105.60" stroke="#ffffff" stroke-width="0.35" opacity="0.7"/>
<line x1="251.20" y1="78.40" x2="251.20" y2="105.60" stroke="#ffffff" stroke-width="0.35" opacity="0.7"/>
<line x1="254.12" y1="78.40" x2="254.12" y2="105.60" stroke="#ffffff" stroke-width="0.35" opacity="0.7"/>
<line x1="257.04" y1="78.40" x2="257.04" y2="105.60" stroke="#ffffff" stroke-width="0.35" opacity="0.7"/>
<line x1="259.96" y1="78.40" x2="259.96" y2="105.60" stroke="#ffffff" stroke-width="0.35" opacity="0.7"/>
<line x1="262.88" y1="78.40" x2="262.88" y2="105.60" stroke="#ffffff" stroke-width="0.35" opacity="0.7"/>
<line x1="265.80" y1="78.40" x2="265.80" y2="105.60" stroke="#ffffff" stroke-width="0.35" opacity="0.7"/>
<line x1="268.72" y1="78.40" x2="268.72" y2="105.60" stroke="#ffffff" stroke-width="0.35" opacity="0.7"/>
<line x1="271.64" y1="78.40" x2="271.64" y2="105.60" stroke="#ffffff" stroke-width="0.35" opacity="0.7"/>
<line x1="274.56" y1="78.40" x2="274.56" y2="105.60" stroke="#ffffff" stroke-width="0.35" opacity="0.7"/>
<line x1="277.48" y1="78.40" x2="277.48" y2="105.60" stroke="#ffffff" stroke-width="0.35" opacity="0.7"/>
<line x1="280.40" y1="78.40" x2="280.40" y2="105.60" stroke="#ffffff" stroke-width="0.35" opacity="0.7"/>
<line x1="283.32" y1="78.40" x2="283.32" y2="105.60" stroke="#ffffff" stroke-width="0.35" opacity="0.7"/>
<line x1="286.24" y1="78.40" x2="286.24" y2="105.60" stroke="#ffffff" stroke-width="0.35" opacity="0.7"/>
<line x1="289.16" y1="78.40" x2="289.16" y2="105.60" stroke="#ffffff" stroke-width="0.35" opacity="0.7"/>
<line x1="292.08" y1="78.40" x2="292.08" y2="105.60" stroke="#ffffff" stroke-width="0.35" opacity="0.7"/>
<line x1="295.00" y1="78.40" x2="295.00" y2="105.60" stroke="#ffffff" stroke-width="0.35" opacity="0.7"/>
<line x1="297.92" y1="78.40" x2="297.92" y2="105.60" stroke="#ffffff" stroke-width="0.35" opacity="0.7"/>
<line x1="300.84" y1="78.40" x2="300.84" y2="105.60" stroke="#ffffff" stroke-width="0.35" opacity="0.7"/>
<line x1="303.76" y1="78.40" x2="303.76" y2="105.60" stroke="#ffffff" stroke-width="0.35" opacity="0.7"/>
<line x1="306.68" y1="78.40" x2="306.68" y2="105.60" stroke="#ffffff" stroke-width="0.35" opacity="0.7"/>
<line x1="309.60" y1="78.40" x2="309.60" y2="105.60" stroke="#ffffff" stroke-width="0.35" opacity="0.7"/>
<line x1="312.52" y1="78.40" x2="312.52" y2="105.60" stroke="#ffffff" stroke-width="0.35" opacity="0.7"/>
<line x1="315.44" y1="78.40" x2="315.44" y2="105.60" stroke="#ffffff" stroke-width="0.35" opacity="0.7"/>
<line x1="318.36" y1="78.40" x2="318.36" y2="105.60" stroke="#ffffff" stroke-width="0.35" opacity="0.7"/>
<line x1="321.28" y1="78.40" x2="321.28" y2="105.60" stroke="#ffffff" stroke-width="0.35" opacity="0.7"/>
<line x1="324.20" y1="78.40" x2="324.20" y2="105.60" stroke="#ffffff" stroke-width="0.35" opacity="0.7"/>
<line x1="327.12" y1="78.40" x2="327.12" y2="105.60" stroke="#ffffff" stroke-width="0.35" opacity="0.7"/>
<line x1="330.04" y1="78.40" x2="330.04" y2="105.60" stroke="#ffffff" stroke-width="0.35" opacity="0.7"/>
<line x1="332.96" y1="78.40" x2="332.96" y2="105.60" stroke="#ffffff" stroke-width="0.35" opacity="0.7"/>
<line x1="335.88" y1="78.40" x2="335.88" y2="105.60" stroke="#ffffff" stroke-width="0.35" opacity="0.7"/>
<line x1="338.80" y1="78.40" x2="338.80" y2="105.60" stroke="#ffffff" stroke-width="0.35" opacity="0.7"/>
<line x1="341.72" y1="78.40" x2="341.72" y2="105.60" stroke="#ffffff" stroke-width="0.35" opacity="0.7"/>
<line x1="344.64" y1="78.40" x2="344.64" y2="105.60" stroke="#ffffff" stroke-width="0.35" opacity="0.7"/>
<line x1="347.56" y1="78.40" x2="347.56" y2="105.60" stroke="#ffffff" stroke-width="0.35" opacity="0.7"/>
<line x1="350.48" y1="78.40" x2="350.48" y2="105.60" stroke="#ffffff" stroke-width="0.35" opacity="0.7"/>
<line x1="353.40" y1="78.40" x2="353.40" y2="105.60" stroke="#ffffff" stroke-width="0.35" opacity="0.7"/>
<line x1="356.32" y1="78.40" x2="356.32" y2="105.60" stroke="#ffffff" stroke-width="0.35" opacity="0.7"/>
<line x1="359.24" y1="78.40" x2="359.24" y2="105.60" stroke="#ffffff" stroke-width="0.35" opacity="0.7"/>
<line x1="362.16" y1="78.40" x2="362.16" y2="105.60" stroke="#ffffff" stroke-width="0.35" opacity="0.7"/>
<line x1="365.08" y1="78.40" x2="365.08" y2="105.60" stroke="#ffffff" stroke-width="0.35" opacity="0.7"/>
<line x1="368.00" y1="78.40" x2="368.00" y2="105.60" stroke="#ffffff" stroke-width="0.35" opacity="0.7"/>
<line x1="370.92" y1="78.40" x2="370.92" y2="105.60" stroke="#ffffff" stroke-width="0.35" opacity="0.7"/>
<line x1="373.84" y1="78.40" x2="373.84" y2="105.60" stroke="#ffffff" stroke-width="0.35" opacity="0.7"/>
<line x1="376.76" y1="78.40" x2="376.76" y2="105.60" stroke="#ffffff" stroke-width="0.35" opacity="0.7"/>
<line x1="379.68" y1="78.40" x2="379.68" y2="105.60" stroke="#ffffff" stroke-width="0.35" opacity="0.7"/>
<line x1="382.60" y1="78.40" x2="382.60" y2="105.60" stroke="#ffffff" stroke-width="0.35" opacity="0.7"/>
<line x1="385.52" y1="78.40" x2="385.52" y2="105.60" stroke="#ffffff" stroke-width="0.35" opacity="0.7"/>
<line x1="388.44" y1="78.40" x2="388.44" y2="105.60" stroke="#ffffff" stroke-width="0.35" opacity="0.7"/>
<line x1="391.36" y1="78.40" x2="391.36" y2="105.60" stroke="#ffffff" stroke-width="0.35" opacity="0.7"/>
<line x1="394.28" y1="78.40" x2="394.28" y2="105.60" stroke="#ffffff" stroke-width="0.35" opacity="0.7"/>
<line x1="397.20" y1="78.40" x2="397.20" y2="105.60" stroke="#ffffff" stroke-width="0.35" opacity="0.7"/>
<line x1="400.12" y1="78.40" x2="400.12" y2="105.60" stroke="#ffffff" stroke-width="0.35" opacity="0.7"/>
<line x1="403.04" y1="78.40" x2="403.04" y2="105.60" stroke="#ffffff" stroke-width="0.35" opacity="0.7"/>
<line x1="405.96" y1="78.40" x2="405.96" y2="105.60" stroke="#ffffff" stroke-width="0.35" opacity="0.7"/>
<line x1="408.88" y1="78.40" x2="408.88" y2="105.60" stroke="#ffffff" stroke-width="0.35" opacity="0.7"/>
<line x1="411.80" y1="78.40" x2="411.80" y2="105.60" stroke="#ffffff" stroke-width="0.35" opacity="0.7"/>
<line x1="414.72" y1="78.40" x2="414.72" y2="105.60" stroke="#ffffff" stroke-width="0.35" opacity="0.7"/>
<line x1="417.64" y1="78.40" x2="417.64" y2="105.60" stroke="#ffffff" stroke-width="0.35" opacity="0.7"/>
<line x1="420.56" y1="78.40" x2="420.56" y2="105.60" stroke="#ffffff" stroke-width="0.35" opacity="0.7"/>
<line x1="423.48" y1="78.40" x2="423.48" y2="105.60" stroke="#ffffff" stroke-width="0.35" opacity="0.7"/>
<line x1="426.40" y1="78.40" x2="426.40" y2="105.60" stroke="#ffffff" stroke-width="0.35" opacity="0.7"/>
<line x1="429.32" y1="78.40" x2="429.32" y2="105.60" stroke="#ffffff" stroke-width="0.35" opacity="0.7"/>
<line x1="432.24" y1="78.40" x2="432.24" y2="105.60" stroke="#ffffff" stroke-width="0.35" opacity="0.7"/>
<line x1="435.16" y1="78.40" x2="435.16" y2="105.60" stroke="#ffffff" stroke-width="0.35" opacity="0.7"/>
<line x1="438.08" y1="78.40" x2="438.08" y2="105.60" stroke="#ffffff" stroke-width="0.35" opacity="0.7"/>
<line x1="441.00" y1="78.40" x2="441.00" y2="105.60" stroke="#ffffff" stroke-width="0.35" opacity="0.7"/>
<line x1="443.92" y1="78.40" x2="443.92" y2="105.60" stroke="#ffffff" stroke-width="0.35" opacity="0.7"/>
<line x1="446.84" y1="78.40" x2="446.84" y2="105.60" stroke="#ffffff" stroke-width="0.35" opacity="0.7"/>
<line x1="449.76" y1="78.40" x2="449.76" y2="105.60" stroke="#ffffff" stroke-width="0.35" opacity="0.7"/>
<line x1="452.68" y1="78.40" x2="452.68" y2="105.60" stroke="#ffffff" stroke-width="0.35" opacity="0.7"/>
<line x1="455.60" y1="78.40" x2="455.60" y2="105.60" stroke="#ffffff" stroke-width="0.35" opacity="0.7"/>
<line x1="458.52" y1="78.40" x2="458.52" y2="105.60" stroke="#ffffff" stroke-width="0.35" opacity="0.7"/>
<line x1="461.44" y1="78.40" x2="461.44" y2="105.60" stroke="#ffffff" stroke-width="0.35" opacity="0.7"/>
<line x1="464.36" y1="78.40" x2="464.36" y2="105.60" stroke="#ffffff" stroke-width="0.35" opacity="0.7"/>
<line x1="467.28" y1="78.40" x2="467.28" y2="105.60" stroke="#ffffff" stroke-width="0.35" opacity="0.7"/>
<line x1="470.20" y1="78.40" x2="470.20" y2="105.60" stroke="#ffffff" stroke-width="0.35" opacity="0.7"/>
<line x1="473.12" y1="78.40" x2="473.12" y2="105.60" stroke="#ffffff" stroke-width="0.35" opacity="0.7"/>
<line x1="476.04" y1="78.40" x2="476.04" y2="105.60" stroke="#ffffff" stroke-width="0.35" opacity="0.7"/>
<line x1="478.96" y1="78.40" x2="478.96" y2="105.60" stroke="#ffffff" stroke-width="0.35" opacity="0.7"/>
<line x1="481.88" y1="78.40" x2="481.88" y2="105.60" stroke="#ffffff" stroke-width="0.35" opacity="0.7"/>
<line x1="484.80" y1="78.40" x2="484.80" y2="105.60" stroke="#ffffff" stroke-width="0.35" opacity="0.7"/>
<line x1="487.72" y1="78.40" x2="487.72" y2="105.60" stroke="#ffffff" stroke-width="0.35" opacity="0.7"/>
<line x1="490.64" y1="78.40" x2="490.64" y2="105.60" stroke="#ffffff" stroke-width="0.35" opacity="0.7"/>
<line x1="493.56" y1="78.40" x2="493.56" y2="105.60" stroke="#ffffff" stroke-width="0.35" opacity="0.7"/>
<line x1="496.48" y1="78.40" x2="496.48" y2="105.60" stroke="#ffffff" stroke-width="0.35" opacity="0.7"/>
<line x1="499.40" y1="78.40" x2="499.40" y2="105.60" stroke="#ffffff" stroke-width="0.35" opacity="0.7"/>
<line x1="502.32" y1="78.40" x2="502.32" y2="105.60" stroke="#ffffff" stroke-width="0.35" opacity="0.7"/>
<line x1="505.24" y1="78.40" x2="505.24" y2="105.60" stroke="#ffffff" stroke-width="0.35" opacity="0.7"/>
<line x1="508.16" y1="78.40" x2="508.16" y2="105.60" stroke="#ffffff" stroke-width="0.35" opacity="0.7"/>
<line x1="511.08" y1="78.40" x2="511.08" y2="105.60" stroke="#ffffff" stroke-width="0.35" opacity="0.7"/>
<line x1="90.60" y1="105.60" x2="511.08" y2="105.60" stroke="#e4e4e4" stroke-width="0.4"/>
<line x1="90.60" y1="114.00" x2="511.08" y2="114.00" stroke="#e4e4e4" stroke-width="0.4"/>
<line x1="90.60" y1="122.80" x2="511.08" y2="122.80" stroke="#e4e4e4" stroke-width="0.4"/>
<line x1="90.60" y1="129.60" x2="511.08" y2="129.60" stroke="#e4e4e4" stroke-width="0.4"/>
<line x1="90.60" y1="136.60" x2="511.08" y2="136.60" stroke="#e4e4e4" stroke-width="0.4"/>
<line x1="90.60" y1="144.00" x2="511.08" y2="144.00" stroke="#e4e4e4" stroke-width="0.4"/>
<line x1="90.60" y1="151.60" x2="511.08" y2="151.60" stroke="#e4e4e4" stroke-width="0.4"/>
<line x1="90.60" y1="158.50" x2="511.08" y2="158.50" stroke="#e4e4e4" stroke-width="0.4"/>
<line x1="90.60" y1="165.30" x2="511.08" y2="165.30" stroke="#e4e4e4" stroke-width="0.4"/>
<line x1="90.60" y1="172.20" x2="511.08" y2="172.20" stroke="#e4e4e4" stroke-width="0.4"/>
<line x1="90.60" y1="180.20" x2="511.08" y2="180.20" stroke="#e4e4e4" stroke-width="0.4"/>
<line x1="90.60" y1="187.50" x2="511.08" y2="187.50" stroke="#e4e4e4" stroke-width="0.4"/>
<line x1="90.60" y1="194.50" x2="511.08" y2="194.50" stroke="#e4e4e4" stroke-width="0.4"/>
<line x1="90.60" y1="201.50" x2="511.08" y2="201.50" stroke="#e4e4e4" stroke-width="0.4"/>
<line x1="90.60" y1="210.00" x2="511.08" y2="210.00" stroke="#e4e4e4" stroke-width="0.4"/>
<line x1="90.60" y1="218.70" x2="511.08" y2="218.70" stroke="#e4e4e4" stroke-width="0.4"/>
<line x1="90.60" y1="227.00" x2="511.08" y2="227.00" stroke="#e4e4e4" stroke-width="0.4"/>
<line x1="90.60" y1="235.40" x2="511.08" y2="235.40" stroke="#e4e4e4" stroke-width="0.4"/>
<line x1="90.60" y1="242.40" x2="511.08" y2="242.40" stroke="#e4e4e4" stroke-width="0.4"/>
<line x1="90.60" y1="249.20" x2="511.08" y2="249.20" stroke="#e4e4e4" stroke-width="0.4"/>
<line x1="90.60" y1="256.30" x2="511.08" y2="256.30" stroke="#e4e4e4" stroke-width="0.4"/>
<line x1="90.60" y1="264.50" x2="511.08" y2="264.50" stroke="#e4e4e4" stroke-width="0.4"/>
<line x1="90.60" y1="273.30" x2="511.08" y2="273.30" stroke="#e4e4e4" stroke-width="0.4"/>
<line x1="90.60" y1="282.00" x2="511.08" y2="282.00" stroke="#e4e4e4" stroke-width="0.4"/>
<line x1="90.60" y1="290.80" x2="511.08" y2="290.80" stroke="#e4e4e4" stroke-width="0.4"/>
<line x1="90.60" y1="299.60" x2="511.08" y2="299.60" stroke="#e4e4e4" stroke-width="0.4"/>
<line x1="90.60" y1="308.00" x2="511.08" y2="308.00" stroke="#e4e4e4" stroke-width="0.4"/>
<line x1="90.60" y1="105.60" x2="90.60" y2="316.20" stroke="#e6e6e6" stroke-width="0.4"/>
<line x1="93.52" y1="105.60" x2="93.52" y2="316.20" stroke="#e6e6e6" stroke-width="0.4"/>
<line x1="96.44" y1="105.60" x2="96.44" y2="316.20" stroke="#e6e6e6" stroke-width="0.4"/>
<line x1="99.36" y1="105.60" x2="99.36" y2="316.20" stroke="#e6e6e6" stroke-width="0.4"/>
<line x1="102.28" y1="105.60" x2="102.28" y2="316.20" stroke="#e6e6e6" stroke-width="0.4"/>
<line x1="105.20" y1="105.60" x2="105.20" y2="316.20" stroke="#e6e6e6" stroke-width="0.4"/>
<line x1="108.12" y1="105.60" x2="108.12" y2="316.20" stroke="#e6e6e6" stroke-width="0.4"/>
<line x1="111.04" y1="105.60" x2="111.04" y2="316.20" stroke="#e6e6e6" stroke-width="0.4"/>
<line x1="113.96" y1="105.60" x2="113.96" y2="316.20" stroke="#e6e6e6" stroke-width="0.4"/>
<line x1="116.88" y1="105.60" x2="116.88" y2="316.20" stroke="#e6e6e6" stroke-width="0.4"/>
<line x1="119.80" y1="105.60" x2="119.80" y2="316.20" stroke="#e6e6e6" stroke-width="0.4"/>
<line x1="122.72" y1="105.60" x2="122.72" y2="316.20" stroke="#e6e6e6" stroke-width="0.4"/>
<line x1="125.64" y1="105.60" x2="125.64" y2="316.20" stroke="#e6e6e6" stroke-width="0.4"/>
<line x1="128.56" y1="105.60" x2="128.56" y2="316.20" stroke="#e6e6e6" stroke-width="0.4"/>
<line x1="131.48" y1="105.60" x2="131.48" y2="316.20" stroke="#e6e6e6" stroke-width="0.4"/>
<line x1="134.40" y1="105.60" x2="134.40" y2="316.20" stroke="#e6e6e6" stroke-width="0.4"/>
<line x1="137.32" y1="105.60" x2="137.32" y2="316.20" stroke="#e6e6e6" stroke-width="0.4"/>
<line x1="140.24" y1="105.60" x2="140.24" y2="316.20" stroke="#e6e6e6" stroke-width="0.4"/>
<line x1="143.16" y1="105.60" x2="143.16" y2="316.20" stroke="#e6e6e6" stroke-width="0.4"/>
<line x1="146.08" y1="105.60" x2="146.08" y2="316.20" stroke="#e6e6e6" stroke-width="0.4"/>
<line x1="149.00" y1="105.60" x2="149.00" y2="316.20" stroke="#e6e6e6" stroke-width="0.4"/>
<line x1="151.92" y1="105.60" x2="151.92" y2="316.20" stroke="#e6e6e6" stroke-width="0.4"/>
<line x1="154.84" y1="105.60" x2="154.84" y2="316.20" stroke="#e6e6e6" stroke-width="0.4"/>
<line x1="157.76" y1="105.60" x2="157.76" y2="316.20" stroke="#e6e6e6" stroke-width="0.4"/>
<line x1="160.68" y1="105.60" x2="160.68" y2="316.20" stroke="#e6e6e6" stroke-width="0.4"/>
<line x1="163.60" y1="105.60" x2="163.60" y2="316.20" stroke="#e6e6e6" stroke-width="0.4"/>
<line x1="166.52" y1="105.60" x2="166.52" y2="316.20" stroke="#e6e6e6" stroke-width="0.4"/>
<line x1="169.44" y1="105.60" x2="169.44" y2="316.20" stroke="#e6e6e6" stroke-width="0.4"/>
<line x1="172.36" y1="105.60" x2="172.36" y2="316.20" stroke="#e6e6e6" stroke-width="0.4"/>
<line x1="175.28" y1="105.60" x2="175.28" y2="316.20" stroke="#e6e6e6" stroke-width="0.4"/>
<line x1="178.20" y1="105.60" x2="178.20" y2="316.20" stroke="#e6e6e6" stroke-width="0.4"/>
<line x1="181.12" y1="105.60" x2="181.12" y2="316.20" stroke="#e6e6e6" stroke-width="0.4"/>
<line x1="184.04" y1="105.60" x2="184.04" y2="316.20" stroke="#e6e6e6" stroke-width="0.4"/>
<line x1="186.96" y1="105.60" x2="186.96" y2="316.20" stroke="#e6e6e6" stroke-width="0.4"/>
<line x1="189.88" y1="105.60" x2="189.88" y2="316.20" stroke="#e6e6e6" stroke-width="0.4"/>
<line x1="192.80" y1="105.60" x2="192.80" y2="316.20" stroke="#e6e6e6" stroke-width="0.4"/>
<line x1="195.72" y1="105.60" x2="195.72" y2="316.20" stroke="#e6e6e6" stroke-width="0.4"/>
<line x1="198.64" y1="105.60" x2="198.64" y2="316.20" stroke="#e6e6e6" stroke-width="0.4"/>
<line x1="201.56" y1="105.60" x2="201.56" y2="316.20" stroke="#e6e6e6" stroke-width="0.4"/>
<line x1="204.48" y1="105.60" x2="204.48" y2="316.20" stroke="#e6e6e6" stroke-width="0.4"/>
<line x1="207.40" y1="105.60" x2="207.40" y2="316.20" stroke="#e6e6e6" stroke-width="0.4"/>
<line x1="210.32" y1="105.60" x2="210.32" y2="316.20" stroke="#e6e6e6" stroke-width="0.4"/>
<line x1="213.24" y1="105.60" x2="213.24" y2="316.20" stroke="#e6e6e6" stroke-width="0.4"/>
<line x1="216.16" y1="105.60" x2="216.16" y2="316.20" stroke="#e6e6e6" stroke-width="0.4"/>
<line x1="219.08" y1="105.60" x2="219.08" y2="316.20" stroke="#e6e6e6" stroke-width="0.4"/>
<line x1="222.00" y1="105.60" x2="222.00" y2="316.20" stroke="#e6e6e6" stroke-width="0.4"/>
<line x1="224.92" y1="105.60" x2="224.92" y2="316.20" stroke="#e6e6e6" stroke-width="0.4"/>
<line x1="227.84" y1="105.60" x2="227.84" y2="316.20" stroke="#e6e6e6" stroke-width="0.4"/>
<line x1="230.76" y1="105.60" x2="230.76" y2="316.20" stroke="#e6e6e6" stroke-width="0.4"/>
<line x1="233.68" y1="105.60" x2="233.68" y2="316.20" stroke="#e6e6e6" stroke-width="0.4"/>
<line x1="236.60" y1="105.60" x2="236.60" y2="316.20" stroke="#e6e6e6" stroke-width="0.4"/>
<line x1="239.52" y1="105.60" x2="239.52" y2="316.20" stroke="#e6e6e6" stroke-width="0.4"/>
<line x1="242.44" y1="105.60" x2="242.44" y2="316.20" stroke="#e6e6e6" stroke-width="0.4"/>
<line x1="245.36" y1="105.60" x2="245.36" y2="316.20" stroke="#e6e6e6" stroke-width="0.4"/>
<line x1="248.28" y1="105.60" x2="248.28" y2="316.20" stroke="#e6e6e6" stroke-width="0.4"/>
<line x1="251.20" y1="105.60" x2="251.20" y2="316.20" stroke="#e6e6e6" stroke-width="0.4"/>
<line x1="254.12" y1="105.60" x2="254.12" y2="316.20" stroke="#e6e6e6" stroke-width="0.4"/>
<line x1="257.04" y1="105.60" x2="257.04" y2="316.20" stroke="#e6e6e6" stroke-width="0.4"/>
<line x1="259.96" y1="105.60" x2="259.96" y2="316.20" stroke="#e6e6e6" stroke-width="0.4"/>
<line x1="262.88" y1="105.60" x2="262.88" y2="316.20" stroke="#e6e6e6" stroke-width="0.4"/>
<line x1="265.80" y1="105.60" x2="265.80" y2="316.20" stroke="#e6e6e6" stroke-width="0.4"/>
<line x1="268.72" y1="105.60" x2="268.72" y2="316.20" stroke="#e6e6e6" stroke-width="0.4"/>
<line x1="271.64" y1="105.60" x2="271.64" y2="316.20" stroke="#e6e6e6" stroke-width="0.4"/>
<line x1="274.56" y1="105.60" x2="274.56" y2="316.20" stroke="#e6e6e6" stroke-width="0.4"/>
<line x1="277.48" y1="105.60" x2="277.48" y2="316.20" stroke="#e6e6e6" stroke-width="0.4"/>
<line x1="280.40" y1="105.60" x2="280.40" y2="316.20" stroke="#e6e6e6" stroke-width="0.4"/>
<line x1="283.32" y1="105.60" x2="283.32" y2="316.20" stroke="#e6e6e6" stroke-width="0.4"/>
<line x1="286.24" y1="105.60" x2="286.24" y2="316.20" stroke="#e6e6e6" stroke-width="0.4"/>
<line x1="289.16" y1="105.60" x2="289.16" y2="316.20" stroke="#e6e6e6" stroke-width="0.4"/>
<line x1="292.08" y1="105.60" x2="292.08" y2="316.20" stroke="#e6e6e6" stroke-width="0.4"/>
<line x1="295.00" y1="105.60" x2="295.00" y2="316.20" stroke="#e6e6e6" stroke-width="0.4"/>
<line x1="297.92" y1="105.60" x2="297.92" y2="316.20" stroke="#e6e6e6" stroke-width="0.4"/>
<line x1="300.84" y1="105.60" x2="300.84" y2="316.20" stroke="#e6e6e6" stroke-width="0.4"/>
<line x1="303.76" y1="105.60" x2="303.76" y2="316.20" stroke="#e6e6e6" stroke-width="0.4"/>
<line x1="306.68" y1="105.60" x2="306.68" y2="316.20" stroke="#e6e6e6" stroke-width="0.4"/>
<line x1="309.60" y1="105.60" x2="309.60" y2="316.20" stroke="#e6e6e6" stroke-width="0.4"/>
<line x1="312.52" y1="105.60" x2="312.52" y2="316.20" stroke="#e6e6e6" stroke-width="0.4"/>
<line x1="315.44" y1="105.60" x2="315.44" y2="316.20" stroke="#e6e6e6" stroke-width="0.4"/>
<line x1="318.36" y1="105.60" x2="318.36" y2="316.20" stroke="#e6e6e6" stroke-width="0.4"/>
<line x1="321.28" y1="105.60" x2="321.28" y2="316.20" stroke="#e6e6e6" stroke-width="0.4"/>
<line x1="324.20" y1="105.60" x2="324.20" y2="316.20" stroke="#e6e6e6" stroke-width="0.4"/>
<line x1="327.12" y1="105.60" x2="327.12" y2="316.20" stroke="#e6e6e6" stroke-width="0.4"/>
<line x1="330.04" y1="105.60" x2="330.04" y2="316.20" stroke="#e6e6e6" stroke-width="0.4"/>
<line x1="332.96" y1="105.60" x2="332.96" y2="316.20" stroke="#e6e6e6" stroke-width="0.4"/>
<line x1="335.88" y1="105.60" x2="335.88" y2="316.20" stroke="#e6e6e6" stroke-width="0.4"/>
<line x1="338.80" y1="105.60" x2="338.80" y2="316.20" stroke="#e6e6e6" stroke-width="0.4"/>
<line x1="341.72" y1="105.60" x2="341.72" y2="316.20" stroke="#e6e6e6" stroke-width="0.4"/>
<line x1="344.64" y1="105.60" x2="344.64" y2="316.20" stroke="#e6e6e6" stroke-width="0.4"/>
<line x1="347.56" y1="105.60" x2="347.56" y2="316.20" stroke="#e6e6e6" stroke-width="0.4"/>
<line x1="350.48" y1="105.60" x2="350.48" y2="316.20" stroke="#e6e6e6" stroke-width="0.4"/>
<line x1="353.40" y1="105.60" x2="353.40" y2="316.20" stroke="#e6e6e6" stroke-width="0.4"/>
<line x1="356.32" y1="105.60" x2="356.32" y2="316.20" stroke="#e6e6e6" stroke-width="0.4"/>
<line x1="359.24" y1="105.60" x2="359.24" y2="316.20" stroke="#e6e6e6" stroke-width="0.4"/>
<line x1="362.16" y1="105.60" x2="362.16" y2="316.20" stroke="#e6e6e6" stroke-width="0.4"/>
<line x1="365.08" y1="105.60" x2="365.08" y2="316.20" stroke="#e6e6e6" stroke-width="0.4"/>
<line x1="368.00" y1="105.60" x2="368.00" y2="316.20" stroke="#e6e6e6" stroke-width="0.4"/>
<line x1="370.92" y1="105.60" x2="370.92" y2="316.20" stroke="#e6e6e6" stroke-width="0.4"/>
<line x1="373.84" y1="105.60" x2="373.84" y2="316.20" stroke="#e6e6e6" stroke-width="0.4"/>
<line x1="376.76" y1="105.60" x2="376.76" y2="316.20" stroke="#e6e6e6" stroke-width="0.4"/>
<line x1="379.68" y1="105.60" x2="379.68" y2="316.20" stroke="#e6e6e6" stroke-width="0.4"/>
<line x1="382.60" y1="105.60" x2="382.60" y2="316.20" stroke="#e6e6e6" stroke-width="0.4"/>
<line x1="385.52" y1="105.60" x2="385.52" y2="316.20" stroke="#e6e6e6" stroke-width="0.4"/>
<line x1="388.44" y1="105.60" x2="388.44" y2="316.20" stroke="#e6e6e6" stroke-width="0.4"/>
<line x1="391.36" y1="105.60" x2="391.36" y2="316.20" stroke="#e6e6e6" stroke-width="0.4"/>
<line x1="394.28" y1="105.60" x2="394.28" y2="316.20" stroke="#e6e6e6" stroke-width="0.4"/>
<line x1="397.20" y1="105.60" x2="397.20" y2="316.20" stroke="#e6e6e6" stroke-width="0.4"/>
<line x1="400.12" y1="105.60" x2="400.12" y2="316.20" stroke="#e6e6e6" stroke-width="0.4"/>
<line x1="403.04" y1="105.60" x2="403.04" y2="316.20" stroke="#e6e6e6" stroke-width="0.4"/>
<line x1="405.96" y1="105.60" x2="405.96" y2="316.20" stroke="#e6e6e6" stroke-width="0.4"/>
<line x1="408.88" y1="105.60" x2="408.88" y2="316.20" stroke="#e6e6e6" stroke-width="0.4"/>
<line x1="411.80" y1="105.60" x2="411.80" y2="316.20" stroke="#e6e6e6" stroke-width="0.4"/>
<line x1="414.72" y1="105.60" x2="414.72" y2="316.20" stroke="#e6e6e6" stroke-width="0.4"/>
<line x1="417.64" y1="105.60" x2="417.64" y2="316.20" stroke="#e6e6e6" stroke-width="0.4"/>
<line x1="420.56" y1="105.60" x2="420.56" y2="316.20" stroke="#e6e6e6" stroke-width="0.4"/>
<line x1="423.48" y1="105.60" x2="423.48" y2="316.20" stroke="#e6e6e6" stroke-width="0.4"/>
<line x1="426.40" y1="105.60" x2="426.40" y2="316.20" stroke="#e6e6e6" stroke-width="0.4"/>
<line x1="429.32" y1="105.60" x2="429.32" y2="316.20" stroke="#e6e6e6" stroke-width="0.4"/>
<line x1="432.24" y1="105.60" x2="432.24" y2="316.20" stroke="#e6e6e6" stroke-width="0.4"/>
<line x1="435.16" y1="105.60" x2="435.16" y2="316.20" stroke="#e6e6e6" stroke-width="0.4"/>
<line x1="438.08" y1="105.60" x2="438.08" y2="316.20" stroke="#e6e6e6" stroke-width="0.4"/>
<line x1="441.00" y1="105.60" x2="441.00" y2="316.20" stroke="#e6e6e6" stroke-width="0.4"/>
<line x1="443.92" y1="105.60" x2="443.92" y2="316.20" stroke="#e6e6e6" stroke-width="0.4"/>
<line x1="446.84" y1="105.60" x2="446.84" y2="316.20" stroke="#e6e6e6" stroke-width="0.4"/>
<line x1="449.76" y1="105.60" x2="449.76" y2="316.20" stroke="#e6e6e6" stroke-width="0.4"/>
<line x1="452.68" y1="105.60" x2="452.68" y2="316.20" stroke="#e6e6e6" stroke-width="0.4"/>
<line x1="455.60" y1="105.60" x2="455.60" y2="316.20" stroke="#e6e6e6" stroke-width="0.4"/>
<line x1="458.52" y1="105.60" x2="458.52" y2="316.20" stroke="#e6e6e6" stroke-width="0.4"/>
<line x1="461.44" y1="105.60" x2="461.44" y2="316.20" stroke="#e6e6e6" stroke-width="0.4"/>
<line x1="464.36" y1="105.60" x2="464.36" y2="316.20" stroke="#e6e6e6" stroke-width="0.4"/>
<line x1="467.28" y1="105.60" x2="467.28" y2="316.20" stroke="#e6e6e6" stroke-width="0.4"/>
<line x1="470.20" y1="105.60" x2="470.20" y2="316.20" stroke="#e6e6e6" stroke-width="0.4"/>
<line x1="473.12" y1="105.60" x2="473.12" y2="316.20" stroke="#e6e6e6" stroke-width="0.4"/>
<line x1="476.04" y1="105.60" x2="476.04" y2="316.20" stroke="#e6e6e6" stroke-width="0.4"/>
<line x1="478.96" y1="105.60" x2="478.96" y2="316.20" stroke="#e6e6e6" stroke-width="0.4"/>
<line x1="481.88" y1="105.60" x2="481.88" y2="316.20" stroke="#e6e6e6" stroke-width="0.4"/>
<line x1="484.80" y1="105.60" x2="484.80" y2="316.20" stroke="#e6e6e6" stroke-width="0.4"/>
<line x1="487.72" y1="105.60" x2="487.72" y2="316.20" stroke="#e6e6e6" stroke-width="0.4"/>
<line x1="490.64" y1="105.60" x2="490.64" y2="316.20" stroke="#e6e6e6" stroke-width="0.4"/>
<line x1="493.56" y1="105.60" x2="493.56" y2="316.20" stroke="#e6e6e6" stroke-width="0.4"/>
<line x1="496.48" y1="105.60" x2="496.48" y2="316.20" stroke="#e6e6e6" stroke-width="0.4"/>
<line x1="499.40" y1="105.60" x2="499.40" y2="316.20" stroke="#e6e6e6" stroke-width="0.4"/>
<line x1="502.32" y1="105.60" x2="502.32" y2="316.20" stroke="#e6e6e6" stroke-width="0.4"/>
<line x1="505.24" y1="105.60" x2="505.24" y2="316.20" stroke="#e6e6e6" stroke-width="0.4"/>
<line x1="508.16" y1="105.60" x2="508.16" y2="316.20" stroke="#e6e6e6" stroke-width="0.4"/>
<line x1="511.08" y1="105.60" x2="511.08" y2="316.20" stroke="#e6e6e6" stroke-width="0.4"/>
<rect x="90.78" y="106.00" width="2.56" height="7.70" fill="#141414"/>
<rect x="93.70" y="106.00" width="2.56" height="7.70" fill="#141414"/>
<rect x="96.62" y="106.00" width="2.56" height="7.70" fill="#141414"/>
<rect x="99.54" y="106.00" width="2.56" height="7.70" fill="#141414"/>
<rect x="102.46" y="106.00" width="2.56" height="7.70" fill="#141414"/>
<rect x="105.38" y="106.00" width="2.56" height="7.70" fill="#141414"/>
<rect x="108.30" y="106.00" width="2.56" height="7.70" fill="#141414"/>
<rect x="111.22" y="106.00" width="2.56" height="7.70" fill="#141414"/>
<rect x="114.14" y="106.00" width="2.56" height="7.70" fill="#141414"/>
<rect x="117.06" y="106.00" width="2.56" height="7.70" fill="#141414"/>
<rect x="119.98" y="106.00" width="2.56" height="7.70" fill="#141414"/>
<rect x="122.90" y="106.00" width="2.56" height="7.70" fill="#141414"/>
<rect x="125.82" y="106.00" width="2.56" height="7.70" fill="#141414"/>
<rect x="128.74" y="106.00" width="2.56" height="7.70" fill="#141414"/>
<rect x="131.66" y="106.00" width="2.56" height="7.70" fill="#141414"/>
<rect x="134.58" y="106.00" width="2.56" height="7.70" fill="#141414"/>
<rect x="137.50" y="106.00" width="2.56" height="7.70" fill="#141414"/>
<rect x="140.42" y="106.00" width="2.56" height="7.70" fill="#141414"/>
<rect x="143.34" y="106.00" width="2.56" height="7.70" fill="#141414"/>
<rect x="146.26" y="106.00" width="2.56" height="7.70" fill="#141414"/>
<rect x="149.18" y="106.00" width="2.56" height="7.70" fill="#141414"/>
<rect x="152.10" y="106.00" width="2.56" height="7.70" fill="#141414"/>
<rect x="155.02" y="106.00" width="2.56" height="7.70" fill="#141414"/>
<rect x="157.94" y="106.00" width="2.56" height="7.70" fill="#141414"/>
<rect x="160.86" y="106.00" width="2.56" height="7.70" fill="#141414"/>
<rect x="163.78" y="106.00" width="2.56" height="7.70" fill="#141414"/>
<rect x="166.70" y="106.00" width="2.56" height="7.70" fill="#141414"/>
<rect x="169.62" y="106.00" width="2.56" height="7.70" fill="#141414"/>
<rect x="172.54" y="106.00" width="2.56" height="7.70" fill="#141414"/>
<rect x="175.46" y="106.00" width="2.56" height="7.70" fill="#141414"/>
<rect x="178.38" y="106.00" width="2.56" height="7.70" fill="#141414"/>
<rect x="181.30" y="106.00" width="2.56" height="7.70" fill="#141414"/>
<rect x="184.22" y="106.00" width="2.56" height="7.70" fill="#141414"/>
<rect x="187.14" y="106.00" width="2.56" height="7.70" fill="#141414"/>
<rect x="190.06" y="106.00" width="2.56" height="7.70" fill="#141414"/>
<rect x="192.98" y="106.00" width="2.56" height="7.70" fill="#141414"/>
<rect x="195.90" y="106.00" width="2.56" height="7.70" fill="#141414"/>
<rect x="198.82" y="106.00" width="2.56" height="7.70" fill="#141414"/>
<rect x="201.74" y="106.00" width="2.56" height="7.70" fill="#141414"/>
<rect x="204.66" y="106.00" width="2.56" height="7.70" fill="#141414"/>
<rect x="207.58" y="106.00" width="2.56" height="7.70" fill="#141414"/>
<rect x="210.50" y="106.00" width="2.56" height="7.70" fill="#141414"/>
<rect x="213.42" y="106.00" width="2.56" height="7.70" fill="#141414"/>
<rect x="216.34" y="106.00" width="2.56" height="7.70" fill="#141414"/>
<rect x="219.26" y="106.00" width="2.56" height="7.70" fill="#141414"/>
<rect x="222.18" y="106.00" width="2.56" height="7.70" fill="#141414"/>
<rect x="225.10" y="106.00" width="2.56" height="7.70" fill="#141414"/>
<rect x="228.02" y="106.00" width="2.56" height="7.70" fill="#141414"/>
<rect x="230.94" y="114.40" width="2.56" height="8.10" fill="#141414"/>
<rect x="233.86" y="114.40" width="2.56" height="8.10" fill="#141414"/>
<rect x="236.78" y="114.40" width="2.56" height="8.10" fill="#141414"/>
<rect x="239.70" y="114.40" width="2.56" height="8.10" fill="#141414"/>
<rect x="242.62" y="114.40" width="2.56" height="8.10" fill="#141414"/>
<rect x="245.54" y="114.40" width="2.56" height="8.10" fill="#141414"/>
<rect x="248.46" y="114.40" width="2.56" height="8.10" fill="#141414"/>
<rect x="251.38" y="114.40" width="2.56" height="8.10" fill="#141414"/>
<rect x="254.30" y="114.40" width="2.56" height="8.10" fill="#141414"/>
<rect x="257.22" y="114.40" width="2.56" height="8.10" fill="#141414"/>
<rect x="260.14" y="114.40" width="2.56" height="8.10" fill="#141414"/>
<rect x="263.06" y="114.40" width="2.56" height="8.10" fill="#141414"/>
<rect x="265.98" y="114.40" width="2.56" height="8.10" fill="#141414"/>
<rect x="268.90" y="114.40" width="2.56" height="8.10" fill="#141414"/>
<rect x="271.82" y="114.40" width="2.56" height="8.10" fill="#141414"/>
<rect x="274.74" y="114.40" width="2.56" height="8.10" fill="#141414"/>
<rect x="277.66" y="114.40" width="2.56" height="8.10" fill="#141414"/>
<rect x="280.58" y="114.40" width="2.56" height="8.10" fill="#141414"/>
<rect x="230.94" y="123.20" width="2.56" height="6.10" fill="#7e7e7e"/>
<rect x="233.86" y="123.20" width="2.56" height="6.10" fill="#7e7e7e"/>
<rect x="236.78" y="123.20" width="2.56" height="6.10" fill="#7e7e7e"/>
<rect x="239.70" y="123.20" width="2.56" height="6.10" fill="#7e7e7e"/>
<rect x="242.62" y="123.20" width="2.56" height="6.10" fill="#7e7e7e"/>
<rect x="245.54" y="130.00" width="2.56" height="6.30" fill="#7e7e7e"/>
<rect x="248.46" y="130.00" width="2.56" height="6.30" fill="#7e7e7e"/>
<rect x="251.38" y="130.00" width="2.56" height="6.30" fill="#7e7e7e"/>
<rect x="254.30" y="130.00" width="2.56" height="6.30" fill="#7e7e7e"/>
<rect x="99.66" y="137.00" width="2.32" height="6.40" fill="#1f3c7c"/>
<rect x="102.58" y="137.00" width="2.32" height="6.40" fill="#1f3c7c"/>
<rect x="111.34" y="137.00" width="2.32" height="6.40" fill="#1f3c7c"/>
<rect x="134.70" y="137.00" width="2.32" height="6.40" fill="#1f3c7c"/>
<rect x="140.54" y="137.00" width="2.32" height="6.40" fill="#1f3c7c"/>
<rect x="149.30" y="137.00" width="2.32" height="6.40" fill="#1f3c7c"/>
<rect x="155.14" y="137.00" width="2.32" height="6.40" fill="#1f3c7c"/>
<rect x="158.06" y="137.00" width="2.32" height="6.40" fill="#1f3c7c"/>
<rect x="160.98" y="137.00" width="2.32" height="6.40" fill="#1f3c7c"/>
<rect x="169.74" y="137.00" width="2.32" height="6.40" fill="#1f3c7c"/>
<rect x="193.10" y="137.00" width="2.32" height="6.40" fill="#1f3c7c"/>
<rect x="201.86" y="137.00" width="2.32" height="6.40" fill="#1f3c7c"/>
<rect x="216.46" y="137.00" width="2.32" height="6.40" fill="#1f3c7c"/>
<rect x="231.06" y="137.00" width="2.32" height="6.40" fill="#1f3c7c"/>
<rect x="242.74" y="137.00" width="2.32" height="6.40" fill="#1f3c7c"/>
<rect x="260.26" y="137.00" width="2.32" height="6.40" fill="#1f3c7c"/>
<rect x="269.02" y="137.00" width="2.32" height="6.40" fill="#1f3c7c"/>
<rect x="271.94" y="137.00" width="2.32" height="6.40" fill="#1f3c7c"/>
<rect x="274.86" y="137.00" width="2.32" height="6.40" fill="#1f3c7c"/>
<rect x="277.78" y="137.00" width="2.32" height="6.40" fill="#1f3c7c"/>
<rect x="280.70" y="137.00" width="2.32" height="6.40" fill="#1f3c7c"/>
<rect x="283.62" y="137.00" width="2.32" height="6.40" fill="#1f3c7c"/>
<rect x="292.38" y="137.00" width="2.32" height="6.40" fill="#1f3c7c"/>
<rect x="295.30" y="137.00" width="2.32" height="6.40" fill="#1f3c7c"/>
<rect x="298.22" y="137.00" width="2.32" height="6.40" fill="#1f3c7c"/>
<rect x="301.14" y="137.00" width="2.32" height="6.40" fill="#1f3c7c"/>
<rect x="318.66" y="137.00" width="2.32" height="6.40" fill="#1f3c7c"/>
<rect x="333.26" y="137.00" width="2.32" height="6.40" fill="#1f3c7c"/>
<rect x="377.06" y="137.00" width="2.32" height="6.40" fill="#1f3c7c"/>
<rect x="388.74" y="137.00" width="2.32" height="6.40" fill="#1f3c7c"/>
<rect x="417.94" y="137.00" width="2.32" height="6.40" fill="#1f3c7c"/>
<rect x="432.54" y="137.00" width="2.32" height="6.40" fill="#1f3c7c"/>
<rect x="435.46" y="137.00" width="2.32" height="6.40" fill="#1f3c7c"/>
<rect x="441.30" y="137.00" width="2.32" height="6.40" fill="#1f3c7c"/>
<rect x="450.06" y="137.00" width="2.32" height="6.40" fill="#1f3c7c"/>
<rect x="479.26" y="137.00" width="2.32" height="6.40" fill="#1f3c7c"/>
<rect x="488.02" y="137.00" width="2.32" height="6.40" fill="#1f3c7c"/>
<rect x="277.66" y="144.40" width="2.56" height="6.90" fill="#141414"/>
<rect x="280.58" y="144.40" width="2.56" height="6.90" fill="#141414"/>
<rect x="283.50" y="144.40" width="2.56" height="6.90" fill="#141414"/>
<rect x="286.42" y="144.40" width="2.56" height="6.90" fill="#141414"/>
<rect x="289.34" y="144.40" width="2.56" height="6.90" fill="#141414"/>
<rect x="292.26" y="144.40" width="2.56" height="6.90" fill="#141414"/>
<rect x="295.18" y="144.40" width="2.56" height="6.90" fill="#141414"/>
<rect x="298.10" y="144.40" width="2.56" height="6.90" fill="#141414"/>
<rect x="301.02" y="144.40" width="2.56" height="6.90" fill="#141414"/>
<rect x="303.94" y="144.40" width="2.56" height="6.90" fill="#141414"/>
<rect x="508.34" y="144.40" width="2.56" height="6.90" fill="#141414"/>
<rect x="295.18" y="152.00" width="2.56" height="6.20" fill="#7e7e7e"/>
<rect x="298.10" y="152.00" width="2.56" height="6.20" fill="#7e7e7e"/>
<rect x="301.02" y="152.00" width="2.56" height="6.20" fill="#7e7e7e"/>
<rect x="303.94" y="152.00" width="2.56" height="6.20" fill="#7e7e7e"/>
<rect x="277.66" y="158.90" width="2.56" height="6.10" fill="#7e7e7e"/>
<rect x="280.58" y="158.90" width="2.56" height="6.10" fill="#7e7e7e"/>
<rect x="283.50" y="158.90" width="2.56" height="6.10" fill="#7e7e7e"/>
<rect x="286.42" y="158.90" width="2.56" height="6.10" fill="#7e7e7e"/>
<rect x="289.34" y="158.90" width="2.56" height="6.10" fill="#7e7e7e"/>
<rect x="508.34" y="158.90" width="2.56" height="6.10" fill="#7e7e7e"/>
<rect x="225.10" y="165.70" width="2.56" height="6.20" fill="#7e7e7e"/>
<rect x="283.50" y="165.70" width="2.56" height="6.20" fill="#7e7e7e"/>
<rect x="292.26" y="165.70" width="2.56" height="6.20" fill="#7e7e7e"/>
<rect x="295.18" y="165.70" width="2.56" height="6.20" fill="#7e7e7e"/>
<rect x="298.10" y="165.70" width="2.56" height="6.20" fill="#7e7e7e"/>
<rect x="301.02" y="165.70" width="2.56" height="6.20" fill="#7e7e7e"/>
<rect x="303.94" y="165.70" width="2.56" height="6.20" fill="#7e7e7e"/>
<rect x="508.34" y="165.70" width="2.56" height="6.20" fill="#7e7e7e"/>
<rect x="306.86" y="172.60" width="2.56" height="7.30" fill="#141414"/>
<rect x="309.78" y="172.60" width="2.56" height="7.30" fill="#141414"/>
<rect x="312.70" y="172.60" width="2.56" height="7.30" fill="#141414"/>
<rect x="315.62" y="172.60" width="2.56" height="7.30" fill="#141414"/>
<rect x="318.54" y="172.60" width="2.56" height="7.30" fill="#141414"/>
<rect x="321.46" y="172.60" width="2.56" height="7.30" fill="#141414"/>
<rect x="324.38" y="172.60" width="2.56" height="7.30" fill="#141414"/>
<rect x="327.30" y="172.60" width="2.56" height="7.30" fill="#141414"/>
<rect x="330.22" y="172.60" width="2.56" height="7.30" fill="#141414"/>
<rect x="333.14" y="172.60" width="2.56" height="7.30" fill="#141414"/>
<rect x="336.06" y="172.60" width="2.56" height="7.30" fill="#141414"/>
<rect x="306.86" y="180.60" width="2.56" height="6.60" fill="#7e7e7e"/>
<rect x="309.78" y="180.60" width="2.56" height="6.60" fill="#7e7e7e"/>
<rect x="312.70" y="180.60" width="2.56" height="6.60" fill="#7e7e7e"/>
<rect x="315.62" y="180.60" width="2.56" height="6.60" fill="#7e7e7e"/>
<rect x="318.54" y="180.60" width="2.56" height="6.60" fill="#7e7e7e"/>
<rect x="321.46" y="180.60" width="2.56" height="6.60" fill="#7e7e7e"/>
<rect x="324.38" y="180.60" width="2.56" height="6.60" fill="#7e7e7e"/>
<rect x="327.30" y="187.90" width="2.56" height="6.30" fill="#7e7e7e"/>
<rect x="330.22" y="187.90" width="2.56" height="6.30" fill="#7e7e7e"/>
<rect x="333.14" y="187.90" width="2.56" height="6.30" fill="#7e7e7e"/>
<rect x="336.06" y="194.90" width="2.56" height="6.30" fill="#7e7e7e"/>
<rect x="338.98" y="201.90" width="2.56" height="7.80" fill="#141414"/>
<rect x="341.90" y="201.90" width="2.56" height="7.80" fill="#141414"/>
<rect x="344.82" y="201.90" width="2.56" height="7.80" fill="#141414"/>
<rect x="347.74" y="201.90" width="2.56" height="7.80" fill="#141414"/>
<rect x="350.66" y="201.90" width="2.56" height="7.80" fill="#141414"/>
<rect x="353.58" y="201.90" width="2.56" height="7.80" fill="#141414"/>
<rect x="356.50" y="201.90" width="2.56" height="7.80" fill="#141414"/>
<rect x="359.42" y="201.90" width="2.56" height="7.80" fill="#141414"/>
<rect x="362.34" y="201.90" width="2.56" height="7.80" fill="#141414"/>
<rect x="365.26" y="210.40" width="2.56" height="8.00" fill="#141414"/>
<rect x="368.18" y="210.40" width="2.56" height="8.00" fill="#141414"/>
<rect x="371.10" y="210.40" width="2.56" height="8.00" fill="#141414"/>
<rect x="374.02" y="210.40" width="2.56" height="8.00" fill="#141414"/>
<rect x="376.94" y="219.10" width="2.56" height="7.60" fill="#141414"/>
<rect x="379.86" y="219.10" width="2.56" height="7.60" fill="#141414"/>
<rect x="382.78" y="219.10" width="2.56" height="7.60" fill="#141414"/>
<rect x="385.70" y="219.10" width="2.56" height="7.60" fill="#141414"/>
<rect x="388.62" y="227.40" width="2.56" height="7.70" fill="#141414"/>
<rect x="391.54" y="227.40" width="2.56" height="7.70" fill="#141414"/>
<rect x="394.46" y="227.40" width="2.56" height="7.70" fill="#141414"/>
<rect x="397.38" y="227.40" width="2.56" height="7.70" fill="#141414"/>
<rect x="400.30" y="227.40" width="2.56" height="7.70" fill="#141414"/>
<rect x="403.22" y="227.40" width="2.56" height="7.70" fill="#141414"/>
<rect x="406.14" y="227.40" width="2.56" height="7.70" fill="#141414"/>
<rect x="409.06" y="227.40" width="2.56" height="7.70" fill="#141414"/>
<rect x="411.98" y="227.40" width="2.56" height="7.70" fill="#141414"/>
<rect x="414.90" y="227.40" width="2.56" height="7.70" fill="#141414"/>
<rect x="417.82" y="227.40" width="2.56" height="7.70" fill="#141414"/>
<rect x="420.74" y="227.40" width="2.56" height="7.70" fill="#141414"/>
<rect x="423.66" y="227.40" width="2.56" height="7.70" fill="#141414"/>
<rect x="426.58" y="227.40" width="2.56" height="7.70" fill="#141414"/>
<rect x="429.50" y="227.40" width="2.56" height="7.70" fill="#141414"/>
<rect x="432.42" y="227.40" width="2.56" height="7.70" fill="#141414"/>
<rect x="435.34" y="227.40" width="2.56" height="7.70" fill="#141414"/>
<rect x="438.26" y="227.40" width="2.56" height="7.70" fill="#141414"/>
<rect x="441.18" y="227.40" width="2.56" height="7.70" fill="#141414"/>
<rect x="444.10" y="227.40" width="2.56" height="7.70" fill="#141414"/>
<rect x="447.02" y="227.40" width="2.56" height="7.70" fill="#141414"/>
<rect x="449.94" y="227.40" width="2.56" height="7.70" fill="#141414"/>
<rect x="452.86" y="227.40" width="2.56" height="7.70" fill="#141414"/>
<rect x="455.78" y="227.40" width="2.56" height="7.70" fill="#141414"/>
<rect x="458.70" y="227.40" width="2.56" height="7.70" fill="#141414"/>
<rect x="461.62" y="227.40" width="2.56" height="7.70" fill="#141414"/>
<rect x="464.54" y="227.40" width="2.56" height="7.70" fill="#141414"/>
<rect x="467.46" y="227.40" width="2.56" height="7.70" fill="#141414"/>
<rect x="470.38" y="227.40" width="2.56" height="7.70" fill="#141414"/>
<rect x="473.30" y="227.40" width="2.56" height="7.70" fill="#141414"/>
<rect x="476.22" y="227.40" width="2.56" height="7.70" fill="#141414"/>
<rect x="479.14" y="227.40" width="2.56" height="7.70" fill="#141414"/>
<rect x="482.06" y="227.40" width="2.56" height="7.70" fill="#141414"/>
<rect x="484.98" y="227.40" width="2.56" height="7.70" fill="#141414"/>
<rect x="487.90" y="227.40" width="2.56" height="7.70" fill="#141414"/>
<rect x="388.62" y="235.80" width="2.56" height="6.30" fill="#7e7e7e"/>
<rect x="391.54" y="235.80" width="2.56" height="6.30" fill="#7e7e7e"/>
<rect x="394.46" y="235.80" width="2.56" height="6.30" fill="#7e7e7e"/>
<rect x="397.38" y="235.80" width="2.56" height="6.30" fill="#7e7e7e"/>
<rect x="400.30" y="235.80" width="2.56" height="6.30" fill="#7e7e7e"/>
<rect x="403.22" y="235.80" width="2.56" height="6.30" fill="#7e7e7e"/>
<rect x="406.14" y="235.80" width="2.56" height="6.30" fill="#7e7e7e"/>
<rect x="409.06" y="235.80" width="2.56" height="6.30" fill="#7e7e7e"/>
<rect x="411.98" y="235.80" width="2.56" height="6.30" fill="#7e7e7e"/>
<rect x="414.90" y="235.80" width="2.56" height="6.30" fill="#7e7e7e"/>
<rect x="417.82" y="235.80" width="2.56" height="6.30" fill="#7e7e7e"/>
<rect x="420.74" y="235.80" width="2.56" height="6.30" fill="#7e7e7e"/>
<rect x="423.66" y="235.80" width="2.56" height="6.30" fill="#7e7e7e"/>
<rect x="426.58" y="235.80" width="2.56" height="6.30" fill="#7e7e7e"/>
<rect x="429.50" y="235.80" width="2.56" height="6.30" fill="#7e7e7e"/>
<rect x="455.78" y="235.80" width="2.56" height="6.30" fill="#7e7e7e"/>
<rect x="458.70" y="235.80" width="2.56" height="6.30" fill="#7e7e7e"/>
<rect x="461.62" y="235.80" width="2.56" height="6.30" fill="#7e7e7e"/>
<rect x="464.54" y="235.80" width="2.56" height="6.30" fill="#7e7e7e"/>
<rect x="467.46" y="235.80" width="2.56" height="6.30" fill="#7e7e7e"/>
<rect x="470.38" y="235.80" width="2.56" height="6.30" fill="#7e7e7e"/>
<rect x="473.30" y="235.80" width="2.56" height="6.30" fill="#7e7e7e"/>
<rect x="476.22" y="235.80" width="2.56" height="6.30" fill="#7e7e7e"/>
<rect x="479.14" y="235.80" width="2.56" height="6.30" fill="#7e7e7e"/>
<rect x="482.06" y="235.80" width="2.56" height="6.30" fill="#7e7e7e"/>
<rect x="484.98" y="235.80" width="2.56" height="6.30" fill="#7e7e7e"/>
<rect x="487.90" y="235.80" width="2.56" height="6.30" fill="#7e7e7e"/>
<rect x="318.54" y="242.80" width="2.56" height="6.10" fill="#7e7e7e"/>
<rect x="444.10" y="242.80" width="2.56" height="6.10" fill="#7e7e7e"/>
<rect x="447.02" y="242.80" width="2.56" height="6.10" fill="#7e7e7e"/>
<rect x="449.94" y="242.80" width="2.56" height="6.10" fill="#7e7e7e"/>
<rect x="467.46" y="242.80" width="2.56" height="6.10" fill="#7e7e7e"/>
<rect x="470.38" y="242.80" width="2.56" height="6.10" fill="#7e7e7e"/>
<rect x="473.30" y="242.80" width="2.56" height="6.10" fill="#7e7e7e"/>
<rect x="476.22" y="242.80" width="2.56" height="6.10" fill="#7e7e7e"/>
<rect x="479.14" y="242.80" width="2.56" height="6.10" fill="#7e7e7e"/>
<rect x="482.06" y="242.80" width="2.56" height="6.10" fill="#7e7e7e"/>
<rect x="484.98" y="242.80" width="2.56" height="6.10" fill="#7e7e7e"/>
<rect x="487.90" y="242.80" width="2.56" height="6.10" fill="#7e7e7e"/>
<rect x="143.46" y="249.60" width="2.32" height="6.10" fill="#1f3c7c"/>
<rect x="286.54" y="249.60" width="2.32" height="6.10" fill="#1f3c7c"/>
<rect x="318.66" y="249.60" width="2.32" height="6.10" fill="#1f3c7c"/>
<rect x="444.22" y="249.60" width="2.32" height="6.10" fill="#1f3c7c"/>
<rect x="447.14" y="249.60" width="2.32" height="6.10" fill="#1f3c7c"/>
<rect x="450.06" y="249.60" width="2.32" height="6.10" fill="#1f3c7c"/>
<rect x="452.98" y="249.60" width="2.32" height="6.10" fill="#1f3c7c"/>
<rect x="455.90" y="249.60" width="2.32" height="6.10" fill="#1f3c7c"/>
<rect x="458.82" y="249.60" width="2.32" height="6.10" fill="#1f3c7c"/>
<rect x="461.74" y="249.60" width="2.32" height="6.10" fill="#1f3c7c"/>
<rect x="464.66" y="249.60" width="2.32" height="6.10" fill="#1f3c7c"/>
<rect x="473.42" y="249.60" width="2.32" height="6.10" fill="#1f3c7c"/>
<rect x="476.34" y="249.60" width="2.32" height="6.10" fill="#1f3c7c"/>
<rect x="479.26" y="249.60" width="2.32" height="6.10" fill="#1f3c7c"/>
<rect x="482.18" y="249.60" width="2.32" height="6.10" fill="#1f3c7c"/>
<rect x="485.10" y="249.60" width="2.32" height="6.10" fill="#1f3c7c"/>
<rect x="490.82" y="256.70" width="2.56" height="7.50" fill="#141414"/>
<rect x="493.74" y="256.70" width="2.56" height="7.50" fill="#141414"/>
<rect x="496.66" y="256.70" width="2.56" height="7.50" fill="#141414"/>
<rect x="499.58" y="256.70" width="2.56" height="7.50" fill="#141414"/>
<rect x="502.50" y="256.70" width="2.56" height="7.50" fill="#141414"/>
<rect x="505.42" y="256.70" width="2.56" height="7.50" fill="#141414"/>
<rect x="508.34" y="256.70" width="2.56" height="7.50" fill="#141414"/>
<rect x="119.98" y="264.90" width="2.56" height="8.10" fill="#141414"/>
<rect x="455.78" y="264.90" width="2.56" height="8.10" fill="#141414"/>
<rect x="122.90" y="273.70" width="2.56" height="8.00" fill="#141414"/>
<rect x="155.02" y="273.70" width="2.56" height="8.00" fill="#141414"/>
<rect x="219.26" y="273.70" width="2.56" height="8.00" fill="#141414"/>
<rect x="128.86" y="282.20" width="2.32" height="9.00" fill="#7c7c7c"/>
<rect x="134.70" y="282.20" width="2.32" height="9.00" fill="#7c7c7c"/>
<rect x="140.54" y="282.20" width="2.32" height="9.00" fill="#7c7c7c"/>
<rect x="213.54" y="282.20" width="2.32" height="9.00" fill="#7c7c7c"/>
<rect x="233.98" y="282.20" width="2.32" height="9.00" fill="#7c7c7c"/>
<rect x="286.54" y="282.20" width="2.32" height="9.00" fill="#7c7c7c"/>
<rect x="295.30" y="282.20" width="2.32" height="9.00" fill="#7c7c7c"/>
<rect x="301.14" y="282.20" width="2.32" height="9.00" fill="#7c7c7c"/>
<rect x="304.06" y="282.20" width="2.32" height="9.00" fill="#7c7c7c"/>
<rect x="306.98" y="282.20" width="2.32" height="9.00" fill="#7c7c7c"/>
<rect x="309.90" y="282.20" width="2.32" height="9.00" fill="#7c7c7c"/>
<rect x="318.66" y="282.20" width="2.32" height="9.00" fill="#7c7c7c"/>
<rect x="327.42" y="282.20" width="2.32" height="9.00" fill="#7c7c7c"/>
<rect x="333.26" y="282.20" width="2.32" height="9.00" fill="#7c7c7c"/>
<rect x="377.06" y="282.20" width="2.32" height="9.00" fill="#7c7c7c"/>
<rect x="394.58" y="282.20" width="2.32" height="9.00" fill="#7c7c7c"/>
<rect x="412.10" y="282.20" width="2.32" height="9.00" fill="#7c7c7c"/>
<rect x="415.02" y="282.20" width="2.32" height="9.00" fill="#7c7c7c"/>
<rect x="447.14" y="282.20" width="2.32" height="9.00" fill="#7c7c7c"/>
<rect x="464.66" y="282.20" width="2.32" height="9.00" fill="#7c7c7c"/>
<rect x="473.42" y="282.20" width="2.32" height="9.00" fill="#7c7c7c"/>
<rect x="485.10" y="282.20" width="2.32" height="9.00" fill="#7c7c7c"/>
<rect x="499.70" y="282.20" width="2.32" height="9.00" fill="#7c7c7c"/>
<rect x="99.66" y="291.20" width="2.32" height="7.80" fill="#1f3c7c"/>
<rect x="105.50" y="291.20" width="2.32" height="7.80" fill="#1f3c7c"/>
<rect x="128.86" y="291.20" width="2.32" height="7.80" fill="#1f3c7c"/>
<rect x="134.70" y="291.20" width="2.32" height="7.80" fill="#1f3c7c"/>
<rect x="140.54" y="291.20" width="2.32" height="7.80" fill="#1f3c7c"/>
<rect x="143.46" y="291.20" width="2.32" height="7.80" fill="#1f3c7c"/>
<rect x="155.14" y="291.20" width="2.32" height="7.80" fill="#1f3c7c"/>
<rect x="166.82" y="291.20" width="2.32" height="7.80" fill="#1f3c7c"/>
<rect x="178.50" y="291.20" width="2.32" height="7.80" fill="#1f3c7c"/>
<rect x="193.10" y="291.20" width="2.32" height="7.80" fill="#1f3c7c"/>
<rect x="201.86" y="291.20" width="2.32" height="7.80" fill="#1f3c7c"/>
<rect x="204.78" y="291.20" width="2.32" height="7.80" fill="#1f3c7c"/>
<rect x="213.54" y="291.20" width="2.32" height="7.80" fill="#1f3c7c"/>
<rect x="216.46" y="291.20" width="2.32" height="7.80" fill="#1f3c7c"/>
<rect x="231.06" y="291.20" width="2.32" height="7.80" fill="#1f3c7c"/>
<rect x="233.98" y="291.20" width="2.32" height="7.80" fill="#1f3c7c"/>
<rect x="248.58" y="291.20" width="2.32" height="7.80" fill="#1f3c7c"/>
<rect x="286.54" y="291.20" width="2.32" height="7.80" fill="#1f3c7c"/>
<rect x="295.30" y="291.20" width="2.32" height="7.80" fill="#1f3c7c"/>
<rect x="301.14" y="291.20" width="2.32" height="7.80" fill="#1f3c7c"/>
<rect x="304.06" y="291.20" width="2.32" height="7.80" fill="#1f3c7c"/>
<rect x="306.98" y="291.20" width="2.32" height="7.80" fill="#1f3c7c"/>
<rect x="309.90" y="291.20" width="2.32" height="7.80" fill="#1f3c7c"/>
<rect x="312.82" y="291.20" width="2.32" height="7.80" fill="#1f3c7c"/>
<rect x="315.74" y="291.20" width="2.32" height="7.80" fill="#1f3c7c"/>
<rect x="318.66" y="291.20" width="2.32" height="7.80" fill="#1f3c7c"/>
<rect x="324.50" y="291.20" width="2.32" height="7.80" fill="#1f3c7c"/>
<rect x="327.42" y="291.20" width="2.32" height="7.80" fill="#1f3c7c"/>
<rect x="333.26" y="291.20" width="2.32" height="7.80" fill="#1f3c7c"/>
<rect x="336.18" y="291.20" width="2.32" height="7.80" fill="#1f3c7c"/>
<rect x="377.06" y="291.20" width="2.32" height="7.80" fill="#1f3c7c"/>
<rect x="394.58" y="291.20" width="2.32" height="7.80" fill="#1f3c7c"/>
<rect x="412.10" y="291.20" width="2.32" height="7.80" fill="#1f3c7c"/>
<rect x="415.02" y="291.20" width="2.32" height="7.80" fill="#1f3c7c"/>
<rect x="423.78" y="291.20" width="2.32" height="7.80" fill="#1f3c7c"/>
<rect x="447.14" y="291.20" width="2.32" height="7.80" fill="#1f3c7c"/>
<rect x="464.66" y="291.20" width="2.32" height="7.80" fill="#1f3c7c"/>
<rect x="473.42" y="291.20" width="2.32" height="7.80" fill="#1f3c7c"/>
<rect x="485.10" y="291.20" width="2.32" height="7.80" fill="#1f3c7c"/>
<rect x="499.70" y="291.20" width="2.32" height="7.80" fill="#1f3c7c"/>
<rect x="502.62" y="291.20" width="2.32" height="7.80" fill="#1f3c7c"/>
<rect x="105.38" y="300.00" width="2.56" height="7.70" fill="#b6b6b6"/>
<rect x="108.30" y="300.00" width="2.56" height="7.70" fill="#b6b6b6"/>
<rect x="128.74" y="300.00" width="2.56" height="7.70" fill="#b6b6b6"/>
<rect x="137.50" y="300.00" width="2.56" height="7.70" fill="#b6b6b6"/>
<rect x="155.02" y="300.00" width="2.56" height="7.70" fill="#b6b6b6"/>
<rect x="169.62" y="300.00" width="2.56" height="7.70" fill="#b6b6b6"/>
<rect x="172.54" y="300.00" width="2.56" height="7.70" fill="#b6b6b6"/>
<rect x="175.46" y="300.00" width="2.56" height="7.70" fill="#b6b6b6"/>
<rect x="187.14" y="300.00" width="2.56" height="7.70" fill="#b6b6b6"/>
<rect x="216.34" y="300.00" width="2.56" height="7.70" fill="#b6b6b6"/>
<rect x="230.94" y="300.00" width="2.56" height="7.70" fill="#b6b6b6"/>
<rect x="233.86" y="300.00" width="2.56" height="7.70" fill="#b6b6b6"/>
<rect x="242.62" y="300.00" width="2.56" height="7.70" fill="#b6b6b6"/>
<rect x="245.54" y="300.00" width="2.56" height="7.70" fill="#b6b6b6"/>
<rect x="251.38" y="300.00" width="2.56" height="7.70" fill="#b6b6b6"/>
<rect x="254.30" y="300.00" width="2.56" height="7.70" fill="#b6b6b6"/>
<rect x="268.90" y="300.00" width="2.56" height="7.70" fill="#b6b6b6"/>
<rect x="283.50" y="300.00" width="2.56" height="7.70" fill="#b6b6b6"/>
<rect x="286.42" y="300.00" width="2.56" height="7.70" fill="#b6b6b6"/>
<rect x="303.94" y="300.00" width="2.56" height="7.70" fill="#b6b6b6"/>
<rect x="306.86" y="300.00" width="2.56" height="7.70" fill="#b6b6b6"/>
<rect x="312.70" y="300.00" width="2.56" height="7.70" fill="#b6b6b6"/>
<rect x="315.62" y="300.00" width="2.56" height="7.70" fill="#b6b6b6"/>
<rect x="318.54" y="300.00" width="2.56" height="7.70" fill="#b6b6b6"/>
<rect x="336.06" y="300.00" width="2.56" height="7.70" fill="#b6b6b6"/>
<rect x="338.98" y="300.00" width="2.56" height="7.70" fill="#b6b6b6"/>
<rect x="341.90" y="300.00" width="2.56" height="7.70" fill="#b6b6b6"/>
<rect x="347.74" y="300.00" width="2.56" height="7.70" fill="#b6b6b6"/>
<rect x="350.66" y="300.00" width="2.56" height="7.70" fill="#b6b6b6"/>
<rect x="359.42" y="300.00" width="2.56" height="7.70" fill="#b6b6b6"/>
<rect x="362.34" y="300.00" width="2.56" height="7.70" fill="#b6b6b6"/>
<rect x="365.26" y="300.00" width="2.56" height="7.70" fill="#b6b6b6"/>
<rect x="368.18" y="300.00" width="2.56" height="7.70" fill="#b6b6b6"/>
<rect x="376.94" y="300.00" width="2.56" height="7.70" fill="#b6b6b6"/>
<rect x="379.86" y="300.00" width="2.56" height="7.70" fill="#b6b6b6"/>
<rect x="382.78" y="300.00" width="2.56" height="7.70" fill="#b6b6b6"/>
<rect x="388.62" y="300.00" width="2.56" height="7.70" fill="#b6b6b6"/>
<rect x="391.54" y="300.00" width="2.56" height="7.70" fill="#b6b6b6"/>
<rect x="394.46" y="300.00" width="2.56" height="7.70" fill="#b6b6b6"/>
<rect x="400.30" y="300.00" width="2.56" height="7.70" fill="#b6b6b6"/>
<rect x="409.06" y="300.00" width="2.56" height="7.70" fill="#b6b6b6"/>
<rect x="411.98" y="300.00" width="2.56" height="7.70" fill="#b6b6b6"/>
<rect x="414.90" y="300.00" width="2.56" height="7.70" fill="#b6b6b6"/>
<rect x="420.74" y="300.00" width="2.56" height="7.70" fill="#b6b6b6"/>
<rect x="423.66" y="300.00" width="2.56" height="7.70" fill="#b6b6b6"/>
<rect x="426.58" y="300.00" width="2.56" height="7.70" fill="#b6b6b6"/>
<rect x="432.42" y="300.00" width="2.56" height="7.70" fill="#b6b6b6"/>
<rect x="435.34" y="300.00" width="2.56" height="7.70" fill="#b6b6b6"/>
<rect x="438.26" y="300.00" width="2.56" height="7.70" fill="#b6b6b6"/>
<rect x="441.18" y="300.00" width="2.56" height="7.70" fill="#b6b6b6"/>
<rect x="449.94" y="300.00" width="2.56" height="7.70" fill="#b6b6b6"/>
<rect x="452.86" y="300.00" width="2.56" height="7.70" fill="#b6b6b6"/>
<rect x="455.78" y="300.00" width="2.56" height="7.70" fill="#b6b6b6"/>
<rect x="458.70" y="300.00" width="2.56" height="7.70" fill="#b6b6b6"/>
<rect x="461.62" y="300.00" width="2.56" height="7.70" fill="#b6b6b6"/>
<rect x="464.54" y="300.00" width="2.56" height="7.70" fill="#b6b6b6"/>
<rect x="470.38" y="300.00" width="2.56" height="7.70" fill="#b6b6b6"/>
<rect x="473.30" y="300.00" width="2.56" height="7.70" fill="#b6b6b6"/>
<rect x="476.22" y="300.00" width="2.56" height="7.70" fill="#b6b6b6"/>
<rect x="482.06" y="300.00" width="2.56" height="7.70" fill="#b6b6b6"/>
<rect x="490.82" y="300.00" width="2.56" height="7.70" fill="#b6b6b6"/>
<rect x="493.74" y="300.00" width="2.56" height="7.70" fill="#b6b6b6"/>
<rect x="502.50" y="300.00" width="2.56" height="7.70" fill="#b6b6b6"/>
<rect x="505.42" y="300.00" width="2.56" height="7.70" fill="#b6b6b6"/>
<rect x="508.34" y="300.00" width="2.56" height="7.70" fill="#b6b6b6"/>
<rect x="117.06" y="300.00" width="2.56" height="7.70" fill="#141414"/>
<rect x="140.42" y="300.00" width="2.56" height="7.70" fill="#141414"/>
<rect x="146.26" y="300.00" width="2.56" height="7.70" fill="#141414"/>
<rect x="157.94" y="300.00" width="2.56" height="7.70" fill="#141414"/>
<rect x="219.26" y="300.00" width="2.56" height="7.70" fill="#141414"/>
<rect x="228.02" y="300.00" width="2.56" height="7.70" fill="#141414"/>
<rect x="236.78" y="300.00" width="2.56" height="7.70" fill="#141414"/>
<rect x="263.06" y="300.00" width="2.56" height="7.70" fill="#141414"/>
<rect x="271.82" y="300.00" width="2.56" height="7.70" fill="#141414"/>
<rect x="280.58" y="300.00" width="2.56" height="7.70" fill="#141414"/>
<rect x="289.34" y="300.00" width="2.56" height="7.70" fill="#141414"/>
<rect x="292.26" y="300.00" width="2.56" height="7.70" fill="#141414"/>
<rect x="295.18" y="300.00" width="2.56" height="7.70" fill="#141414"/>
<rect x="298.10" y="300.00" width="2.56" height="7.70" fill="#141414"/>
<rect x="301.02" y="300.00" width="2.56" height="7.70" fill="#141414"/>
<rect x="309.78" y="300.00" width="2.56" height="7.70" fill="#141414"/>
<rect x="321.46" y="300.00" width="2.56" height="7.70" fill="#141414"/>
<rect x="333.14" y="300.00" width="2.56" height="7.70" fill="#141414"/>
<rect x="344.82" y="300.00" width="2.56" height="7.70" fill="#141414"/>
<rect x="356.50" y="300.00" width="2.56" height="7.70" fill="#141414"/>
<rect x="374.02" y="300.00" width="2.56" height="7.70" fill="#141414"/>
<rect x="397.38" y="300.00" width="2.56" height="7.70" fill="#141414"/>
<rect x="403.22" y="300.00" width="2.56" height="7.70" fill="#141414"/>
<rect x="444.10" y="300.00" width="2.56" height="7.70" fill="#141414"/>
<rect x="467.46" y="300.00" width="2.56" height="7.70" fill="#141414"/>
<rect x="487.90" y="300.00" width="2.56" height="7.70" fill="#141414"/>
<rect x="496.66" y="300.00" width="2.56" height="7.70" fill="#141414"/>
<rect x="99.54" y="308.40" width="2.56" height="7.50" fill="#b6b6b6"/>
<rect x="105.38" y="308.40" width="2.56" height="7.50" fill="#b6b6b6"/>
<rect x="108.30" y="308.40" width="2.56" height="7.50" fill="#b6b6b6"/>
<rect x="122.90" y="308.40" width="2.56" height="7.50" fill="#b6b6b6"/>
<rect x="128.74" y="308.40" width="2.56" height="7.50" fill="#b6b6b6"/>
<rect x="137.50" y="308.40" width="2.56" height="7.50" fill="#b6b6b6"/>
<rect x="155.02" y="308.40" width="2.56" height="7.50" fill="#b6b6b6"/>
<rect x="169.62" y="308.40" width="2.56" height="7.50" fill="#b6b6b6"/>
<rect x="172.54" y="308.40" width="2.56" height="7.50" fill="#b6b6b6"/>
<rect x="175.46" y="308.40" width="2.56" height="7.50" fill="#b6b6b6"/>
<rect x="187.14" y="308.40" width="2.56" height="7.50" fill="#b6b6b6"/>
<rect x="216.34" y="308.40" width="2.56" height="7.50" fill="#b6b6b6"/>
<rect x="228.02" y="308.40" width="2.56" height="7.50" fill="#b6b6b6"/>
<rect x="251.38" y="308.40" width="2.56" height="7.50" fill="#b6b6b6"/>
<rect x="254.30" y="308.40" width="2.56" height="7.50" fill="#b6b6b6"/>
<rect x="265.98" y="308.40" width="2.56" height="7.50" fill="#b6b6b6"/>
<rect x="268.90" y="308.40" width="2.56" height="7.50" fill="#b6b6b6"/>
<rect x="280.58" y="308.40" width="2.56" height="7.50" fill="#b6b6b6"/>
<rect x="283.50" y="308.40" width="2.56" height="7.50" fill="#b6b6b6"/>
<rect x="286.42" y="308.40" width="2.56" height="7.50" fill="#b6b6b6"/>
<rect x="289.34" y="308.40" width="2.56" height="7.50" fill="#b6b6b6"/>
<rect x="303.94" y="308.40" width="2.56" height="7.50" fill="#b6b6b6"/>
<rect x="306.86" y="308.40" width="2.56" height="7.50" fill="#b6b6b6"/>
<rect x="312.70" y="308.40" width="2.56" height="7.50" fill="#b6b6b6"/>
<rect x="315.62" y="308.40" width="2.56" height="7.50" fill="#b6b6b6"/>
<rect x="318.54" y="308.40" width="2.56" height="7.50" fill="#b6b6b6"/>
<rect x="336.06" y="308.40" width="2.56" height="7.50" fill="#b6b6b6"/>
<rect x="338.98" y="308.40" width="2.56" height="7.50" fill="#b6b6b6"/>
<rect x="341.90" y="308.40" width="2.56" height="7.50" fill="#b6b6b6"/>
<rect x="347.74" y="308.40" width="2.56" height="7.50" fill="#b6b6b6"/>
<rect x="350.66" y="308.40" width="2.56" height="7.50" fill="#b6b6b6"/>
<rect x="359.42" y="308.40" width="2.56" height="7.50" fill="#b6b6b6"/>
<rect x="362.34" y="308.40" width="2.56" height="7.50" fill="#b6b6b6"/>
<rect x="365.26" y="308.40" width="2.56" height="7.50" fill="#b6b6b6"/>
<rect x="368.18" y="308.40" width="2.56" height="7.50" fill="#b6b6b6"/>
<rect x="382.78" y="308.40" width="2.56" height="7.50" fill="#b6b6b6"/>
<rect x="388.62" y="308.40" width="2.56" height="7.50" fill="#b6b6b6"/>
<rect x="391.54" y="308.40" width="2.56" height="7.50" fill="#b6b6b6"/>
<rect x="394.46" y="308.40" width="2.56" height="7.50" fill="#b6b6b6"/>
<rect x="409.06" y="308.40" width="2.56" height="7.50" fill="#b6b6b6"/>
<rect x="411.98" y="308.40" width="2.56" height="7.50" fill="#b6b6b6"/>
<rect x="414.90" y="308.40" width="2.56" height="7.50" fill="#b6b6b6"/>
<rect x="420.74" y="308.40" width="2.56" height="7.50" fill="#b6b6b6"/>
<rect x="423.66" y="308.40" width="2.56" height="7.50" fill="#b6b6b6"/>
<rect x="426.58" y="308.40" width="2.56" height="7.50" fill="#b6b6b6"/>
<rect x="432.42" y="308.40" width="2.56" height="7.50" fill="#b6b6b6"/>
<rect x="435.34" y="308.40" width="2.56" height="7.50" fill="#b6b6b6"/>
<rect x="438.26" y="308.40" width="2.56" height="7.50" fill="#b6b6b6"/>
<rect x="441.18" y="308.40" width="2.56" height="7.50" fill="#b6b6b6"/>
<rect x="449.94" y="308.40" width="2.56" height="7.50" fill="#b6b6b6"/>
<rect x="452.86" y="308.40" width="2.56" height="7.50" fill="#b6b6b6"/>
<rect x="455.78" y="308.40" width="2.56" height="7.50" fill="#b6b6b6"/>
<rect x="458.70" y="308.40" width="2.56" height="7.50" fill="#b6b6b6"/>
<rect x="461.62" y="308.40" width="2.56" height="7.50" fill="#b6b6b6"/>
<rect x="464.54" y="308.40" width="2.56" height="7.50" fill="#b6b6b6"/>
<rect x="473.30" y="308.40" width="2.56" height="7.50" fill="#b6b6b6"/>
<rect x="476.22" y="308.40" width="2.56" height="7.50" fill="#b6b6b6"/>
<rect x="482.06" y="308.40" width="2.56" height="7.50" fill="#b6b6b6"/>
<rect x="490.82" y="308.40" width="2.56" height="7.50" fill="#b6b6b6"/>
<rect x="493.74" y="308.40" width="2.56" height="7.50" fill="#b6b6b6"/>
<rect x="502.50" y="308.40" width="2.56" height="7.50" fill="#b6b6b6"/>
<rect x="505.42" y="308.40" width="2.56" height="7.50" fill="#b6b6b6"/>
<rect x="508.34" y="308.40" width="2.56" height="7.50" fill="#b6b6b6"/>
<rect x="140.42" y="308.40" width="2.56" height="7.50" fill="#141414"/>
<rect x="146.26" y="308.40" width="2.56" height="7.50" fill="#141414"/>
<rect x="157.94" y="308.40" width="2.56" height="7.50" fill="#141414"/>
<rect x="160.86" y="308.40" width="2.56" height="7.50" fill="#141414"/>
<rect x="236.78" y="308.40" width="2.56" height="7.50" fill="#141414"/>
<rect x="242.62" y="308.40" width="2.56" height="7.50" fill="#141414"/>
<rect x="263.06" y="308.40" width="2.56" height="7.50" fill="#141414"/>
<rect x="271.82" y="308.40" width="2.56" height="7.50" fill="#141414"/>
<rect x="292.26" y="308.40" width="2.56" height="7.50" fill="#141414"/>
<rect x="295.18" y="308.40" width="2.56" height="7.50" fill="#141414"/>
<rect x="298.10" y="308.40" width="2.56" height="7.50" fill="#141414"/>
<rect x="301.02" y="308.40" width="2.56" height="7.50" fill="#141414"/>
<rect x="309.78" y="308.40" width="2.56" height="7.50" fill="#141414"/>
<rect x="321.46" y="308.40" width="2.56" height="7.50" fill="#141414"/>
<rect x="333.14" y="308.40" width="2.56" height="7.50" fill="#141414"/>
<rect x="344.82" y="308.40" width="2.56" height="7.50" fill="#141414"/>
<rect x="356.50" y="308.40" width="2.56" height="7.50" fill="#141414"/>
<rect x="374.02" y="308.40" width="2.56" height="7.50" fill="#141414"/>
<rect x="376.94" y="308.40" width="2.56" height="7.50" fill="#141414"/>
<rect x="397.38" y="308.40" width="2.56" height="7.50" fill="#141414"/>
<rect x="403.22" y="308.40" width="2.56" height="7.50" fill="#141414"/>
<rect x="444.10" y="308.40" width="2.56" height="7.50" fill="#141414"/>
<rect x="467.46" y="308.40" width="2.56" height="7.50" fill="#141414"/>
<rect x="470.38" y="308.40" width="2.56" height="7.50" fill="#141414"/>
<rect x="487.90" y="308.40" width="2.56" height="7.50" fill="#141414"/>
<rect x="496.66" y="308.40" width="2.56" height="7.50" fill="#141414"/>
<rect x="499.58" y="308.40" width="2.56" height="7.50" fill="#141414"/>
<line x1="114.46" y1="140.30" x2="116.36" y2="140.30" stroke="#a0a0a0" stroke-width="0.5"/>
<line x1="123.22" y1="140.30" x2="125.12" y2="140.30" stroke="#a0a0a0" stroke-width="0.5"/>
<line x1="187.46" y1="140.30" x2="189.36" y2="140.30" stroke="#a0a0a0" stroke-width="0.5"/>
<line x1="219.58" y1="140.30" x2="221.48" y2="140.30" stroke="#a0a0a0" stroke-width="0.5"/>
<line x1="225.42" y1="140.30" x2="227.32" y2="140.30" stroke="#a0a0a0" stroke-width="0.5"/>
<line x1="266.30" y1="140.30" x2="268.20" y2="140.30" stroke="#a0a0a0" stroke-width="0.5"/>
<line x1="114.46" y1="252.75" x2="116.36" y2="252.75" stroke="#a0a0a0" stroke-width="0.5"/>
<line x1="123.22" y1="252.75" x2="125.12" y2="252.75" stroke="#a0a0a0" stroke-width="0.5"/>
<line x1="187.46" y1="252.75" x2="189.36" y2="252.75" stroke="#a0a0a0" stroke-width="0.5"/>
<line x1="219.58" y1="252.75" x2="221.48" y2="252.75" stroke="#a0a0a0" stroke-width="0.5"/>
<line x1="225.42" y1="252.75" x2="227.32" y2="252.75" stroke="#a0a0a0" stroke-width="0.5"/>
<line x1="266.30" y1="252.75" x2="268.20" y2="252.75" stroke="#a0a0a0" stroke-width="0.5"/>
<line x1="114.46" y1="295.20" x2="116.36" y2="295.20" stroke="#a0a0a0" stroke-width="0.5"/>
<line x1="123.22" y1="295.20" x2="125.12" y2="295.20" stroke="#a0a0a0" stroke-width="0.5"/>
<line x1="187.46" y1="295.20" x2="189.36" y2="295.20" stroke="#a0a0a0" stroke-width="0.5"/>
<line x1="219.58" y1="295.20" x2="221.48" y2="295.20" stroke="#a0a0a0" stroke-width="0.5"/>
<line x1="225.42" y1="295.20" x2="227.32" y2="295.20" stroke="#a0a0a0" stroke-width="0.5"/>
<line x1="266.30" y1="295.20" x2="268.20" y2="295.20" stroke="#a0a0a0" stroke-width="0.5"/>
<line x1="114.46" y1="303.80" x2="116.36" y2="303.80" stroke="#a0a0a0" stroke-width="0.5"/>
<line x1="114.46" y1="312.10" x2="116.36" y2="312.10" stroke="#a0a0a0" stroke-width="0.5"/>
<line x1="17.40" y1="114.00" x2="90.50" y2="114.00" stroke="#e0e0e0" stroke-width="0.5"/>
<line x1="17.40" y1="122.80" x2="90.50" y2="122.80" stroke="#e0e0e0" stroke-width="0.5"/>
<line x1="17.40" y1="129.60" x2="90.50" y2="129.60" stroke="#e0e0e0" stroke-width="0.5"/>
<line x1="17.40" y1="136.60" x2="90.50" y2="136.60" stroke="#e0e0e0" stroke-width="0.5"/>
<line x1="17.40" y1="144.00" x2="90.50" y2="144.00" stroke="#e0e0e0" stroke-width="0.5"/>
<line x1="17.40" y1="151.60" x2="90.50" y2="151.60" stroke="#e0e0e0" stroke-width="0.5"/>
<line x1="17.40" y1="158.50" x2="90.50" y2="158.50" stroke="#e0e0e0" stroke-width="0.5"/>
<line x1="17.40" y1="165.30" x2="90.50" y2="165.30" stroke="#e0e0e0" stroke-width="0.5"/>
<line x1="17.40" y1="172.20" x2="90.50" y2="172.20" stroke="#e0e0e0" stroke-width="0.5"/>
<line x1="17.40" y1="180.20" x2="90.50" y2="180.20" stroke="#e0e0e0" stroke-width="0.5"/>
<line x1="17.40" y1="187.50" x2="90.50" y2="187.50" stroke="#e0e0e0" stroke-width="0.5"/>
<line x1="17.40" y1="194.50" x2="90.50" y2="194.50" stroke="#e0e0e0" stroke-width="0.5"/>
<line x1="17.40" y1="201.50" x2="90.50" y2="201.50" stroke="#e0e0e0" stroke-width="0.5"/>
<line x1="17.40" y1="210.00" x2="90.50" y2="210.00" stroke="#e0e0e0" stroke-width="0.5"/>
<line x1="17.40" y1="218.70" x2="90.50" y2="218.70" stroke="#e0e0e0" stroke-width="0.5"/>
<line x1="17.40" y1="227.00" x2="90.50" y2="227.00" stroke="#e0e0e0" stroke-width="0.5"/>
<line x1="17.40" y1="235.40" x2="90.50" y2="235.40" stroke="#e0e0e0" stroke-width="0.5"/>
<line x1="17.40" y1="242.40" x2="90.50" y2="242.40" stroke="#e0e0e0" stroke-width="0.5"/>
<line x1="17.40" y1="249.20" x2="90.50" y2="249.20" stroke="#e0e0e0" stroke-width="0.5"/>
<line x1="17.40" y1="256.30" x2="90.50" y2="256.30" stroke="#e0e0e0" stroke-width="0.5"/>
<line x1="17.40" y1="264.50" x2="90.50" y2="264.50" stroke="#e0e0e0" stroke-width="0.5"/>
<line x1="17.40" y1="273.30" x2="90.50" y2="273.30" stroke="#e0e0e0" stroke-width="0.5"/>
<line x1="17.40" y1="282.00" x2="90.50" y2="282.00" stroke="#e0e0e0" stroke-width="0.5"/>
<line x1="17.40" y1="290.80" x2="90.50" y2="290.80" stroke="#e0e0e0" stroke-width="0.5"/>
<line x1="17.40" y1="299.60" x2="90.50" y2="299.60" stroke="#e0e0e0" stroke-width="0.5"/>
<line x1="17.40" y1="308.00" x2="90.50" y2="308.00" stroke="#e0e0e0" stroke-width="0.5"/>
<line x1="17.40" y1="316.20" x2="90.50" y2="316.20" stroke="#e0e0e0" stroke-width="0.5"/>
</g>
<line x1="17.40" y1="78.40" x2="511.08" y2="78.40" stroke="#4d4d4d" stroke-width="1.0"/>
<line x1="17.40" y1="105.60" x2="511.08" y2="105.60" stroke="#4d4d4d" stroke-width="1.0"/>
<line x1="17.40" y1="264.50" x2="511.08" y2="264.50" stroke="#4d4d4d" stroke-width="1.0"/>
<line x1="17.40" y1="282.00" x2="511.08" y2="282.00" stroke="#4d4d4d" stroke-width="1.0"/>
<line x1="17.40" y1="299.60" x2="511.08" y2="299.60" stroke="#4d4d4d" stroke-width="1.0"/>
<line x1="90.50" y1="57.20" x2="90.50" y2="316.20" stroke="#4d4d4d" stroke-width="1.0"/>
<rect x="17.4" y="57.2" width="493.68" height="259.00" fill="none" stroke="#4d4d4d" stroke-width="1.2"/>
<text x="54.40" y="71.20" font-size="7.6" fill="#333" text-anchor="middle" textLength="37.50" lengthAdjust="spacingAndGlyphs">Sample_ID</text>
<text x="88.80" y="85.60" font-size="6.45" fill="#333" text-anchor="end" textLength="43.70" lengthAdjust="spacingAndGlyphs">Age (years old)</text>
<text x="36.0" y="94.9" font-size="6.45" fill="#333" textLength="52.7" lengthAdjust="spacingAndGlyphs">WBC (≥ 50x10<tspan font-size="4" dy="-2.4">9</tspan><tspan dy="2.4">L)</tspan></text>
<text x="88.80" y="103.60" font-size="6.45" fill="#333" text-anchor="end">Sex</text>
<text x="21.50" y="112.28" font-size="6.9" fill="#2a2a2a" font-style="italic" textLength="22.00" lengthAdjust="spacingAndGlyphs">B-‘rest’</text>
<text x="21.50" y="120.88" font-size="6.9" fill="#2a2a2a" font-style="italic" textLength="36.90" lengthAdjust="spacingAndGlyphs">PAX5-driven</text>
<text x="27.30" y="127.75" font-size="4.3" fill="#555" font-style="italic" textLength="42.30" lengthAdjust="spacingAndGlyphs">PAX5 P80R mutation</text>
<text x="27.30" y="134.65" font-size="4.3" font-style="italic" fill="#555" textLength="40.70" lengthAdjust="spacingAndGlyphs">PAX5<tspan font-size="2.8" dy="-1.6">ALT</tspan><tspan dy="1.6"> (exon 2-5)</tspan></text>
<text x="21.50" y="141.85" font-size="4.3" fill="#7d9bd0" font-style="italic" textLength="47.30" lengthAdjust="spacingAndGlyphs">PAX5 deletion by MLPA</text>
<text x="21.50" y="150.28" font-size="6.9" fill="#2a2a2a" font-style="italic" textLength="36.50" lengthAdjust="spacingAndGlyphs">CRLF2-high</text>
<text x="27.30" y="156.60" font-size="4.3" fill="#555" font-style="italic" textLength="23.90" lengthAdjust="spacingAndGlyphs">IGH-CRLF2</text>
<text x="27.30" y="163.45" font-size="4.3" fill="#555" font-style="italic" textLength="30.00" lengthAdjust="spacingAndGlyphs">P2RY8-CRLF2</text>
<text x="28.50" y="170.30" font-size="4.3" fill="#555" font-style="italic" textLength="52.70" lengthAdjust="spacingAndGlyphs">JAK2 and CRLF2 mutation</text>
<text x="21.50" y="178.68" font-size="6.9" fill="#2a2a2a" font-style="italic" textLength="52.70" lengthAdjust="spacingAndGlyphs">AJ2E-class fusion</text>
<text x="27.00" y="185.40" font-size="4.3" fill="#555" font-style="italic" textLength="46.50" lengthAdjust="spacingAndGlyphs">ABL-class fusion fusion</text>
<text x="27.00" y="192.55" font-size="4.3" fill="#555" font-style="italic" textLength="21.50" lengthAdjust="spacingAndGlyphs">JAK2-fusion</text>
<text x="27.00" y="199.55" font-size="4.3" fill="#555" font-style="italic" textLength="25.70" lengthAdjust="spacingAndGlyphs">EPOR-fusion</text>
<text x="21.20" y="208.23" font-size="6.9" fill="#2a2a2a" font-style="italic" textLength="60.70" lengthAdjust="spacingAndGlyphs">ZNF384-rearranged</text>
<text x="21.20" y="216.83" font-size="6.9" fill="#2a2a2a" font-style="italic" textLength="57.60" lengthAdjust="spacingAndGlyphs">MEF2D-rearranged</text>
<text x="21.20" y="225.33" font-size="6.9" fill="#2a2a2a" font-style="italic" textLength="58.40" lengthAdjust="spacingAndGlyphs">NUTM1-rearranged</text>
<text x="21.20" y="233.68" font-size="6.9" fill="#2a2a2a" font-style="italic" textLength="40.00" lengthAdjust="spacingAndGlyphs">DUX4-cluster</text>
<text x="27.00" y="240.45" font-size="4.3" fill="#555" font-style="italic" textLength="25.70" lengthAdjust="spacingAndGlyphs">ERGalt exon</text>
<text x="21.20" y="247.35" font-size="4.3" fill="#555" font-style="italic" textLength="60.00" lengthAdjust="spacingAndGlyphs">ERG fusion/4/11/-LINC01423</text>
<text x="21.20" y="254.30" font-size="4.3" fill="#7d9bd0" font-style="italic" textLength="46.80" lengthAdjust="spacingAndGlyphs">ERG deletion by MLPA</text>
<text x="21.20" y="262.88" font-size="6.9" fill="#2a2a2a" font-style="italic" textLength="24.60" lengthAdjust="spacingAndGlyphs">iAMP21</text>
<text x="20.60" y="270.45" font-size="4.3" fill="#555" font-style="italic" textLength="33.00" lengthAdjust="spacingAndGlyphs">ETV6-rearranged</text>
<text x="20.60" y="279.20" font-size="4.3" fill="#555" font-style="italic" textLength="38.20" lengthAdjust="spacingAndGlyphs">Novel fusion genes</text>
<text x="20.60" y="287.95" font-size="4.3" fill="#555" font-style="italic" textLength="62.00" lengthAdjust="spacingAndGlyphs">IKZF1 deletion by Sashimi Plot</text>
<text x="21.20" y="296.75" font-size="4.3" fill="#7d9bd0" font-style="italic" textLength="50.00" lengthAdjust="spacingAndGlyphs">IKZF1 deletion by MLPA</text>
<text x="21.20" y="306.28" font-size="6.9" fill="#2a2a2a" font-style="italic" textLength="57.60" lengthAdjust="spacingAndGlyphs">GATA3 rs3824662</text>
<text x="21.20" y="314.58" font-size="6.9" fill="#2a2a2a" font-style="italic" textLength="57.60" lengthAdjust="spacingAndGlyphs">GATA3 rs3781093</text>
<text x="9.10" y="337.40" font-size="11.7" fill="#000" font-weight="bold">B</text>
<text x="20.50" y="351.20" font-size="8.1" fill="#2a2a2a" font-style="italic" textLength="46.10" lengthAdjust="spacingAndGlyphs">PAX5-driven</text>
<text x="120.80" y="351.20" font-size="8.1" fill="#2a2a2a" font-style="italic" textLength="25.40" lengthAdjust="spacingAndGlyphs">B-‘rest’</text>
<g fill="none" stroke="#86aedb" stroke-width="0.7"><circle cx="23.70" cy="371.0" r="2.1"/><path d="M25.20 369.5 L27.00 367.2 M25.30 367.1 L27.10 367.1 L27.10 369.0"/></g>
<text x="28.50" y="372.70" font-size="6.9" fill="#2f72b8" font-weight="bold" textLength="15.00" lengthAdjust="spacingAndGlyphs">Male</text>
<g fill="none" stroke="#e79cc2" stroke-width="0.7"><circle cx="24.10" cy="398.6" r="2.1"/><path d="M24.10 400.7 L24.10 403.8 M22.70 402.3 L25.50 402.3"/></g>
<text x="28.50" y="402.70" font-size="6.9" fill="#d2508f" font-weight="bold" textLength="21.30" lengthAdjust="spacingAndGlyphs">Female</text>
<text x="26.20" y="381.90" font-size="7.0" fill="#333" textLength="43.00" lengthAdjust="spacingAndGlyphs">14/80 (17.5%)</text>
<text x="26.20" y="411.90" font-size="7.0" fill="#333" textLength="40.00" lengthAdjust="spacingAndGlyphs">4/64 (6.25%)</text>
<text x="30.8" y="430.4" font-size="7" fill="#333"><tspan font-style="italic">P</tspan> = .071</text>
<g fill="none" stroke="#86aedb" stroke-width="0.7"><circle cx="111.70" cy="371.0" r="2.1"/><path d="M113.20 369.5 L115.00 367.2 M113.30 367.1 L115.10 367.1 L115.10 369.0"/></g>
<text x="116.20" y="372.70" font-size="6.9" fill="#2f72b8" font-weight="bold" textLength="15.00" lengthAdjust="spacingAndGlyphs">Male</text>
<g fill="none" stroke="#e79cc2" stroke-width="0.7"><circle cx="112.10" cy="398.6" r="2.1"/><path d="M112.10 400.7 L112.10 403.8 M110.70 402.3 L113.50 402.3"/></g>
<text x="116.20" y="402.70" font-size="6.9" fill="#d2508f" font-weight="bold" textLength="21.30" lengthAdjust="spacingAndGlyphs">Female</text>
<text x="112.30" y="381.90" font-size="7.0" fill="#333" textLength="48.50" lengthAdjust="spacingAndGlyphs">21/80 (26.25%)</text>
<text x="111.50" y="411.90" font-size="7.0" fill="#333" textLength="47.70" lengthAdjust="spacingAndGlyphs">27/64 (42.19%)</text>
<text x="120.8" y="430.4" font-size="7" fill="#333"><tspan font-style="italic">P</tspan> = .049</text>
<path d="M87.6 346.3 A7.8 7.8 0 0 0 87.6 361.9 Z" fill="#3b9ad6"/>
<path d="M88.8 346.3 A7.8 7.8 0 0 1 88.8 361.9 Z" fill="#e58bbd"/>
<path d="M87.6 364.8 L79.6 364.8 Q73.1 364.8 73.1 371.3 L73.1 392.4 A2.95 2.95 0 0 0 79.0 392.4 L79.0 372.6 L80.4 372.6 L80.4 428.9 A3.6 3.6 0 0 0 87.6 428.9 Z" fill="#3b9ad6"/>
<path d="M88.8 364.8 L96.0 364.8 Q98.7 364.8 99.4 367.4 L104.8 387.4 A2.7 2.7 0 0 1 99.7 389.2 L95.3 374.6 L94.8 374.6 L101.9 404.2 L94.4 404.2 L94.4 429.3 A2.8 2.8 0 0 1 88.8 429.3 Z" fill="#e58bbd"/>
<text x="178.50" y="338.00" font-size="11.7" fill="#000" font-weight="bold">C</text>
<text x="231.70" y="351.20" font-size="6.6" fill="#2a2a2a" font-style="italic" textLength="56.60" lengthAdjust="spacingAndGlyphs">GATA3 rs3824662</text>
<rect x="238.30" y="355.30" width="2.30" height="2.30" fill="#c0202a"/>
<text x="245.00" y="357.90" font-size="4.2" fill="#444" textLength="7.60" lengthAdjust="spacingAndGlyphs">A/A</text>
<rect x="255.10" y="355.30" width="2.30" height="2.30" fill="#111"/>
<text x="261.30" y="357.90" font-size="4.2" fill="#444" textLength="7.60" lengthAdjust="spacingAndGlyphs">A/C</text>
<rect x="272.60" y="355.30" width="2.30" height="2.30" fill="#a8a8a8"/>
<text x="278.80" y="357.90" font-size="4.2" fill="#444" textLength="7.60" lengthAdjust="spacingAndGlyphs">C/C</text>
<text x="191.40" y="366.7" font-size="5.0" font-style="italic" fill="#444" textLength="55.8" lengthAdjust="spacingAndGlyphs">Risk allele freq <tspan fill="#d2353b">(A*/C)</tspan>:</text>
<text x="197.80" y="382.20" font-size="5.8" fill="#d2353b" text-anchor="middle" textLength="12.00" lengthAdjust="spacingAndGlyphs">0.25</text>
<text x="213.00" y="382.20" font-size="5.8" fill="#d2353b" text-anchor="middle" textLength="12.00" lengthAdjust="spacingAndGlyphs">0.40</text>
<text x="213.00" y="375.20" font-size="2.6" fill="#555" text-anchor="middle">ns</text>
<text x="228.20" y="382.20" font-size="5.8" fill="#d2353b" text-anchor="middle" textLength="12.00" lengthAdjust="spacingAndGlyphs">0.40</text>
<text x="228.20" y="375.20" font-size="2.6" fill="#555" text-anchor="middle">ns</text>
<text x="243.40" y="382.20" font-size="5.8" fill="#b3172c" text-anchor="middle" font-weight="bold" textLength="12.00" lengthAdjust="spacingAndGlyphs">0.73</text>
<text x="243.40" y="375.20" font-size="2.6" fill="#555" text-anchor="middle">****</text>
<text x="258.60" y="382.20" font-size="5.8" fill="#d2353b" text-anchor="middle" textLength="12.00" lengthAdjust="spacingAndGlyphs">0.41</text>
<text x="258.60" y="375.20" font-size="2.6" fill="#555" text-anchor="middle">**</text>
<text x="273.80" y="382.20" font-size="5.8" fill="#d2353b" text-anchor="middle" textLength="12.00" lengthAdjust="spacingAndGlyphs">0.50</text>
<text x="273.80" y="375.20" font-size="2.6" fill="#555" text-anchor="middle">****</text>
<text x="289.00" y="382.20" font-size="5.8" fill="#d2353b" text-anchor="middle" textLength="12.00" lengthAdjust="spacingAndGlyphs">0.25</text>
<text x="304.20" y="382.20" font-size="5.8" fill="#d2353b" text-anchor="middle" textLength="12.00" lengthAdjust="spacingAndGlyphs">0.44</text>
<text x="304.20" y="375.20" font-size="2.6" fill="#555" text-anchor="middle">ns</text>
<text x="319.40" y="382.20" font-size="5.8" fill="#d2353b" text-anchor="middle" textLength="12.00" lengthAdjust="spacingAndGlyphs">0.38</text>
<text x="319.40" y="375.20" font-size="2.6" fill="#555" text-anchor="middle">*</text>
<line x1="189.60" y1="389.00" x2="189.60" y2="439.40" stroke="#222" stroke-width="0.9"/>
<line x1="189.60" y1="439.40" x2="328.50" y2="439.40" stroke="#222" stroke-width="0.9"/>
<line x1="190.30" y1="439.40" x2="190.30" y2="441.20" stroke="#222" stroke-width="0.6"/>
<line x1="205.50" y1="439.40" x2="205.50" y2="441.20" stroke="#222" stroke-width="0.6"/>
<line x1="220.70" y1="439.40" x2="220.70" y2="441.20" stroke="#222" stroke-width="0.6"/>
<line x1="235.90" y1="439.40" x2="235.90" y2="441.20" stroke="#222" stroke-width="0.6"/>
<line x1="251.10" y1="439.40" x2="251.10" y2="441.20" stroke="#222" stroke-width="0.6"/>
<line x1="266.30" y1="439.40" x2="266.30" y2="441.20" stroke="#222" stroke-width="0.6"/>
<line x1="281.50" y1="439.40" x2="281.50" y2="441.20" stroke="#222" stroke-width="0.6"/>
<line x1="296.70" y1="439.40" x2="296.70" y2="441.20" stroke="#222" stroke-width="0.6"/>
<line x1="311.90" y1="439.40" x2="311.90" y2="441.20" stroke="#222" stroke-width="0.6"/>
<line x1="327.10" y1="439.40" x2="327.10" y2="441.20" stroke="#222" stroke-width="0.6"/>
<rect x="191.80" y="430.00" width="3.90" height="9.00" fill="#c0202a"/>
<text x="193.75" y="429.20" font-size="1.8" fill="#777" text-anchor="middle">12</text>
<rect x="195.80" y="421.40" width="3.90" height="17.60" fill="#111111"/>
<text x="197.75" y="420.60" font-size="1.8" fill="#777" text-anchor="middle">12</text>
<rect x="199.80" y="395.20" width="3.90" height="43.80" fill="#a8a8a8"/>
<text x="201.75" y="394.40" font-size="1.8" fill="#777" text-anchor="middle">12</text>
<rect x="207.00" y="429.00" width="3.90" height="10.00" fill="#c0202a"/>
<text x="208.95" y="428.20" font-size="1.8" fill="#777" text-anchor="middle">12</text>
<rect x="211.00" y="403.00" width="3.90" height="36.00" fill="#111111"/>
<text x="212.95" y="402.20" font-size="1.8" fill="#777" text-anchor="middle">12</text>
<rect x="215.00" y="415.20" width="3.90" height="23.80" fill="#a8a8a8"/>
<text x="216.95" y="414.40" font-size="1.8" fill="#777" text-anchor="middle">12</text>
<rect x="222.20" y="419.80" width="3.90" height="19.20" fill="#c0202a"/>
<text x="224.15" y="419.00" font-size="1.8" fill="#777" text-anchor="middle">12</text>
<rect x="226.20" y="419.80" width="3.90" height="19.20" fill="#111111"/>
<text x="228.15" y="419.00" font-size="1.8" fill="#777" text-anchor="middle">12</text>
<rect x="230.20" y="407.00" width="3.90" height="32.00" fill="#a8a8a8"/>
<text x="232.15" y="406.20" font-size="1.8" fill="#777" text-anchor="middle">12</text>
<rect x="237.40" y="400.20" width="3.90" height="38.80" fill="#c0202a"/>
<text x="239.35" y="399.40" font-size="1.8" fill="#777" text-anchor="middle">12</text>
<rect x="241.40" y="413.00" width="3.90" height="26.00" fill="#111111"/>
<text x="243.35" y="412.20" font-size="1.8" fill="#777" text-anchor="middle">12</text>
<rect x="245.40" y="433.00" width="3.90" height="6.00" fill="#a8a8a8"/>
<text x="247.35" y="432.20" font-size="1.8" fill="#777" text-anchor="middle">12</text>
<rect x="252.60" y="422.30" width="3.90" height="16.70" fill="#c0202a"/>
<text x="254.55" y="421.50" font-size="1.8" fill="#777" text-anchor="middle">12</text>
<rect x="256.60" y="414.00" width="3.90" height="25.00" fill="#111111"/>
<text x="258.55" y="413.20" font-size="1.8" fill="#777" text-anchor="middle">12</text>
<rect x="260.60" y="410.00" width="3.90" height="29.00" fill="#a8a8a8"/>
<text x="262.55" y="409.20" font-size="1.8" fill="#777" text-anchor="middle">12</text>
<rect x="267.80" y="421.40" width="3.90" height="17.60" fill="#c0202a"/>
<text x="269.75" y="420.60" font-size="1.8" fill="#777" text-anchor="middle">12</text>
<rect x="271.80" y="403.80" width="3.90" height="35.20" fill="#111111"/>
<text x="273.75" y="403.00" font-size="1.8" fill="#777" text-anchor="middle">12</text>
<rect x="275.80" y="421.40" width="3.90" height="17.60" fill="#a8a8a8"/>
<text x="277.75" y="420.60" font-size="1.8" fill="#777" text-anchor="middle">12</text>
<rect x="287.00" y="403.80" width="3.90" height="35.20" fill="#111111"/>
<text x="288.95" y="403.00" font-size="1.8" fill="#777" text-anchor="middle">12</text>
<rect x="291.00" y="403.80" width="3.90" height="35.20" fill="#a8a8a8"/>
<text x="292.95" y="403.00" font-size="1.8" fill="#777" text-anchor="middle">12</text>
<rect x="298.20" y="423.80" width="3.90" height="15.20" fill="#c0202a"/>
<text x="300.15" y="423.00" font-size="1.8" fill="#777" text-anchor="middle">12</text>
<rect x="302.20" y="407.50" width="3.90" height="31.50" fill="#111111"/>
<text x="304.15" y="406.70" font-size="1.8" fill="#777" text-anchor="middle">12</text>
<rect x="306.20" y="415.50" width="3.90" height="23.50" fill="#a8a8a8"/>
<text x="308.15" y="414.70" font-size="1.8" fill="#777" text-anchor="middle">12</text>
<rect x="313.40" y="418.60" width="3.90" height="20.40" fill="#c0202a"/>
<text x="315.35" y="417.80" font-size="1.8" fill="#777" text-anchor="middle">12</text>
<rect x="317.40" y="429.00" width="3.90" height="10.00" fill="#111111"/>
<text x="319.35" y="428.20" font-size="1.8" fill="#777" text-anchor="middle">12</text>
<rect x="321.40" y="398.60" width="3.90" height="40.40" fill="#a8a8a8"/>
<text x="323.35" y="397.80" font-size="1.8" fill="#777" text-anchor="middle">12</text>
<text x="199.60" y="443.6" font-size="5.6" fill="#333" text-anchor="end" transform="rotate(-90 199.60 443.6)">B-‘rest’ (47)</text>
<text x="214.80" y="443.6" font-size="5.6" fill="#333" text-anchor="end" transform="rotate(-90 214.80 443.6)">DUX4-cluster (35)</text>
<text x="230.00" y="443.6" font-size="5.6" fill="#333" text-anchor="end" transform="rotate(-90 230.00 443.6)">AJ2E-class fusion (11)</text>
<text x="245.20" y="443.6" font-size="5.6" fill="#333" text-anchor="end" transform="rotate(-90 245.20 443.6)">CRLF2-high (11)</text>
<text x="260.40" y="443.6" font-size="5.6" fill="#333" text-anchor="end" transform="rotate(-90 260.40 443.6)">PAX5-driven (17)</text>
<text x="275.60" y="443.6" font-size="5.6" fill="#333" text-anchor="end" transform="rotate(-90 275.60 443.6)">MEF2D-rearranged (4)</text>
<text x="290.80" y="443.6" font-size="5.6" fill="#333" text-anchor="end" transform="rotate(-90 290.80 443.6)">NUTM1-rearranged (4)</text>
<text x="306.00" y="443.6" font-size="5.6" fill="#333" text-anchor="end" transform="rotate(-90 306.00 443.6)">ZNF384-rearranged (9)</text>
<text x="321.20" y="443.6" font-size="5.6" fill="#333" text-anchor="end" transform="rotate(-90 321.20 443.6)">iAMP21 (7)</text>
<text x="381.00" y="350.10" font-size="6.6" fill="#2a2a2a" font-style="italic" textLength="56.60" lengthAdjust="spacingAndGlyphs">GATA3 rs3781093</text>
<rect x="387.60" y="355.30" width="2.30" height="2.30" fill="#c0202a"/>
<text x="394.30" y="357.90" font-size="4.2" fill="#444" textLength="7.60" lengthAdjust="spacingAndGlyphs">C/C</text>
<rect x="404.40" y="355.30" width="2.30" height="2.30" fill="#111"/>
<text x="410.60" y="357.90" font-size="4.2" fill="#444" textLength="7.60" lengthAdjust="spacingAndGlyphs">C/T</text>
<rect x="421.90" y="355.30" width="2.30" height="2.30" fill="#a8a8a8"/>
<text x="428.10" y="357.90" font-size="4.2" fill="#444" textLength="7.60" lengthAdjust="spacingAndGlyphs">T/T</text>
<text x="340.70" y="366.7" font-size="5.0" font-style="italic" fill="#444" textLength="55.0" lengthAdjust="spacingAndGlyphs">Risk allele freq <tspan fill="#d2353b">(C*/T)</tspan>:</text>
<text x="347.10" y="382.20" font-size="5.8" fill="#d2353b" text-anchor="middle" textLength="12.00" lengthAdjust="spacingAndGlyphs">0.22</text>
<text x="362.30" y="382.20" font-size="5.8" fill="#d2353b" text-anchor="middle" textLength="12.00" lengthAdjust="spacingAndGlyphs">0.44</text>
<text x="362.30" y="375.20" font-size="2.6" fill="#555" text-anchor="middle">ns</text>
<text x="377.50" y="382.20" font-size="5.8" fill="#d2353b" text-anchor="middle" textLength="12.00" lengthAdjust="spacingAndGlyphs">0.41</text>
<text x="392.70" y="382.20" font-size="5.8" fill="#b3172c" text-anchor="middle" font-weight="bold" textLength="12.00" lengthAdjust="spacingAndGlyphs">0.64</text>
<text x="392.70" y="375.20" font-size="2.6" fill="#555" text-anchor="middle">****</text>
<text x="407.90" y="382.20" font-size="5.8" fill="#d2353b" text-anchor="middle" textLength="12.00" lengthAdjust="spacingAndGlyphs">0.38</text>
<text x="407.90" y="375.20" font-size="2.6" fill="#555" text-anchor="middle">*</text>
<text x="423.10" y="382.20" font-size="5.8" fill="#d2353b" text-anchor="middle" textLength="12.00" lengthAdjust="spacingAndGlyphs">0.50</text>
<text x="423.10" y="375.20" font-size="2.6" fill="#555" text-anchor="middle">****</text>
<text x="438.30" y="382.20" font-size="5.8" fill="#d2353b" text-anchor="middle" textLength="12.00" lengthAdjust="spacingAndGlyphs">0.37</text>
<text x="438.30" y="375.20" font-size="2.6" fill="#555" text-anchor="middle">*</text>
<text x="453.50" y="382.20" font-size="5.8" fill="#d2353b" text-anchor="middle" textLength="12.00" lengthAdjust="spacingAndGlyphs">0.39</text>
<text x="453.50" y="375.20" font-size="2.6" fill="#555" text-anchor="middle">*</text>
<text x="468.70" y="382.20" font-size="5.8" fill="#d2353b" text-anchor="middle" textLength="12.00" lengthAdjust="spacingAndGlyphs">0.43</text>
<text x="468.70" y="375.20" font-size="2.6" fill="#555" text-anchor="middle">**</text>
<line x1="338.90" y1="389.00" x2="338.90" y2="439.40" stroke="#222" stroke-width="0.9"/>
<line x1="338.90" y1="439.40" x2="477.80" y2="439.40" stroke="#222" stroke-width="0.9"/>
<line x1="339.60" y1="439.40" x2="339.60" y2="441.20" stroke="#222" stroke-width="0.6"/>
<line x1="354.80" y1="439.40" x2="354.80" y2="441.20" stroke="#222" stroke-width="0.6"/>
<line x1="370.00" y1="439.40" x2="370.00" y2="441.20" stroke="#222" stroke-width="0.6"/>
<line x1="385.20" y1="439.40" x2="385.20" y2="441.20" stroke="#222" stroke-width="0.6"/>
<line x1="400.40" y1="439.40" x2="400.40" y2="441.20" stroke="#222" stroke-width="0.6"/>
<line x1="415.60" y1="439.40" x2="415.60" y2="441.20" stroke="#222" stroke-width="0.6"/>
<line x1="430.80" y1="439.40" x2="430.80" y2="441.20" stroke="#222" stroke-width="0.6"/>
<line x1="446.00" y1="439.40" x2="446.00" y2="441.20" stroke="#222" stroke-width="0.6"/>
<line x1="461.20" y1="439.40" x2="461.20" y2="441.20" stroke="#222" stroke-width="0.6"/>
<line x1="476.40" y1="439.40" x2="476.40" y2="441.20" stroke="#222" stroke-width="0.6"/>
<rect x="341.10" y="433.00" width="3.90" height="6.00" fill="#c0202a"/>
<text x="343.05" y="432.20" font-size="1.8" fill="#777" text-anchor="middle">12</text>
<rect x="345.10" y="419.20" width="3.90" height="19.80" fill="#111111"/>
<text x="347.05" y="418.40" font-size="1.8" fill="#777" text-anchor="middle">12</text>
<rect x="349.10" y="389.00" width="3.90" height="50.00" fill="#a8a8a8"/>
<text x="351.05" y="388.20" font-size="1.8" fill="#777" text-anchor="middle">12</text>
<rect x="356.30" y="427.00" width="3.90" height="12.00" fill="#c0202a"/>
<text x="358.25" y="426.20" font-size="1.8" fill="#777" text-anchor="middle">12</text>
<rect x="360.30" y="399.80" width="3.90" height="39.20" fill="#111111"/>
<text x="362.25" y="399.00" font-size="1.8" fill="#777" text-anchor="middle">12</text>
<rect x="364.30" y="418.60" width="3.90" height="20.40" fill="#a8a8a8"/>
<text x="366.25" y="417.80" font-size="1.8" fill="#777" text-anchor="middle">12</text>
<rect x="371.50" y="419.80" width="3.90" height="19.20" fill="#c0202a"/>
<text x="373.45" y="419.00" font-size="1.8" fill="#777" text-anchor="middle">12</text>
<rect x="375.50" y="419.80" width="3.90" height="19.20" fill="#111111"/>
<text x="377.45" y="419.00" font-size="1.8" fill="#777" text-anchor="middle">12</text>
<rect x="379.50" y="406.30" width="3.90" height="32.70" fill="#a8a8a8"/>
<text x="381.45" y="405.50" font-size="1.8" fill="#777" text-anchor="middle">12</text>
<rect x="386.70" y="413.00" width="3.90" height="26.00" fill="#c0202a"/>
<text x="388.65" y="412.20" font-size="1.8" fill="#777" text-anchor="middle">12</text>
<rect x="390.70" y="399.80" width="3.90" height="39.20" fill="#111111"/>
<text x="392.65" y="399.00" font-size="1.8" fill="#777" text-anchor="middle">12</text>
<rect x="394.70" y="433.00" width="3.90" height="6.00" fill="#a8a8a8"/>
<text x="396.65" y="432.20" font-size="1.8" fill="#777" text-anchor="middle">12</text>
<rect x="401.90" y="422.30" width="3.90" height="16.70" fill="#c0202a"/>
<text x="403.85" y="421.50" font-size="1.8" fill="#777" text-anchor="middle">12</text>
<rect x="405.90" y="418.30" width="3.90" height="20.70" fill="#111111"/>
<text x="407.85" y="417.50" font-size="1.8" fill="#777" text-anchor="middle">12</text>
<rect x="409.90" y="405.40" width="3.90" height="33.60" fill="#a8a8a8"/>
<text x="411.85" y="404.60" font-size="1.8" fill="#777" text-anchor="middle">12</text>
<rect x="417.10" y="421.40" width="3.90" height="17.60" fill="#c0202a"/>
<text x="419.05" y="420.60" font-size="1.8" fill="#777" text-anchor="middle">12</text>
<rect x="421.10" y="403.00" width="3.90" height="36.00" fill="#111111"/>
<text x="423.05" y="402.20" font-size="1.8" fill="#777" text-anchor="middle">12</text>
<rect x="425.10" y="421.40" width="3.90" height="17.60" fill="#a8a8a8"/>
<text x="427.05" y="420.60" font-size="1.8" fill="#777" text-anchor="middle">12</text>
<rect x="432.30" y="421.40" width="3.90" height="17.60" fill="#c0202a"/>
<text x="434.25" y="420.60" font-size="1.8" fill="#777" text-anchor="middle">12</text>
<rect x="436.30" y="421.40" width="3.90" height="17.60" fill="#111111"/>
<text x="438.25" y="420.60" font-size="1.8" fill="#777" text-anchor="middle">12</text>
<rect x="440.30" y="403.00" width="3.90" height="36.00" fill="#a8a8a8"/>
<text x="442.25" y="402.20" font-size="1.8" fill="#777" text-anchor="middle">12</text>
<rect x="447.50" y="423.20" width="3.90" height="15.80" fill="#c0202a"/>
<text x="449.45" y="422.40" font-size="1.8" fill="#777" text-anchor="middle">12</text>
<rect x="451.50" y="415.20" width="3.90" height="23.80" fill="#111111"/>
<text x="453.45" y="414.40" font-size="1.8" fill="#777" text-anchor="middle">12</text>
<rect x="455.50" y="407.00" width="3.90" height="32.00" fill="#a8a8a8"/>
<text x="457.45" y="406.20" font-size="1.8" fill="#777" text-anchor="middle">12</text>
<rect x="462.70" y="418.60" width="3.90" height="20.40" fill="#c0202a"/>
<text x="464.65" y="417.80" font-size="1.8" fill="#777" text-anchor="middle">12</text>
<rect x="466.70" y="418.60" width="3.90" height="20.40" fill="#111111"/>
<text x="468.65" y="417.80" font-size="1.8" fill="#777" text-anchor="middle">12</text>
<rect x="470.70" y="407.80" width="3.90" height="31.20" fill="#a8a8a8"/>
<text x="472.65" y="407.00" font-size="1.8" fill="#777" text-anchor="middle">12</text>
<text x="348.90" y="443.6" font-size="5.6" fill="#333" text-anchor="end" transform="rotate(-90 348.90 443.6)">B-‘rest’ (47)</text>
<text x="364.10" y="443.6" font-size="5.6" fill="#333" text-anchor="end" transform="rotate(-90 364.10 443.6)">DUX4-cluster (35)</text>
<text x="379.30" y="443.6" font-size="5.6" fill="#333" text-anchor="end" transform="rotate(-90 379.30 443.6)">AJ2E-class fusion (11)</text>
<text x="394.50" y="443.6" font-size="5.6" fill="#333" text-anchor="end" transform="rotate(-90 394.50 443.6)">CRLF2-high (11)</text>
<text x="409.70" y="443.6" font-size="5.6" fill="#333" text-anchor="end" transform="rotate(-90 409.70 443.6)">PAX5-driven (17)</text>
<text x="424.90" y="443.6" font-size="5.6" fill="#333" text-anchor="end" transform="rotate(-90 424.90 443.6)">MEF2D-rearranged (4)</text>
<text x="440.10" y="443.6" font-size="5.6" fill="#333" text-anchor="end" transform="rotate(-90 440.10 443.6)">NUTM1-rearranged (4)</text>
<text x="455.30" y="443.6" font-size="5.6" fill="#333" text-anchor="end" transform="rotate(-90 455.30 443.6)">ZNF384-rearranged (9)</text>
<text x="470.50" y="443.6" font-size="5.6" fill="#333" text-anchor="end" transform="rotate(-90 470.50 443.6)">iAMP21 (7)</text>
<text x="8.75" y="520.00" font-size="11.7" fill="#000" font-weight="bold">D</text>
<line x1="47.90" y1="530.50" x2="47.90" y2="697.70" stroke="#222" stroke-width="1.2"/>
<line x1="45.60" y1="697.40" x2="420.00" y2="697.40" stroke="#222" stroke-width="1.1"/>
<line x1="44.30" y1="697.20" x2="47.90" y2="697.20" stroke="#222" stroke-width="0.9"/>
<text x="41.15" y="700.00" font-size="7.4" fill="#333" text-anchor="end" textLength="9.20" lengthAdjust="spacingAndGlyphs">0%</text>
<line x1="44.30" y1="664.00" x2="47.90" y2="664.00" stroke="#222" stroke-width="0.9"/>
<text x="41.15" y="666.80" font-size="7.4" fill="#333" text-anchor="end" textLength="14.60" lengthAdjust="spacingAndGlyphs">20%</text>
<line x1="44.30" y1="630.80" x2="47.90" y2="630.80" stroke="#222" stroke-width="0.9"/>
<text x="41.15" y="633.60" font-size="7.4" fill="#333" text-anchor="end" textLength="14.60" lengthAdjust="spacingAndGlyphs">40%</text>
<line x1="44.30" y1="597.60" x2="47.90" y2="597.60" stroke="#222" stroke-width="0.9"/>
<text x="41.15" y="600.40" font-size="7.4" fill="#333" text-anchor="end" textLength="14.60" lengthAdjust="spacingAndGlyphs">60%</text>
<line x1="44.30" y1="564.40" x2="47.90" y2="564.40" stroke="#222" stroke-width="0.9"/>
<text x="41.15" y="567.20" font-size="7.4" fill="#333" text-anchor="end" textLength="14.60" lengthAdjust="spacingAndGlyphs">80%</text>
<line x1="44.30" y1="531.20" x2="47.90" y2="531.20" stroke="#222" stroke-width="0.9"/>
<text x="41.15" y="534.00" font-size="7.4" fill="#333" text-anchor="end" textLength="19.90" lengthAdjust="spacingAndGlyphs">100%</text>
<rect x="55.40" y="531.20" width="5.75" height="166.00" fill="#c7a1d8"/>
<rect x="55.40" y="680.60" width="5.75" height="16.60" fill="#6a2a8e"/>
<text x="57.30" y="682.10" font-size="2.8" fill="#222" opacity="0.8" transform="rotate(90 57.30 682.10)">12</text>
<text x="57.20" y="534.00" font-size="3.0" fill="#333" transform="rotate(90 57.20 534.00)">42</text>
<rect x="62.25" y="531.20" width="5.75" height="166.00" fill="#9fc5ec"/>
<rect x="62.25" y="649.06" width="5.75" height="48.14" fill="#2e72c4"/>
<text x="64.15" y="650.56" font-size="2.8" fill="#222" opacity="0.8" transform="rotate(90 64.15 650.56)">12</text>
<text x="64.05" y="534.00" font-size="3.0" fill="#333" transform="rotate(90 64.05 534.00)">34</text>
<rect x="69.10" y="531.20" width="5.75" height="166.00" fill="#acd494"/>
<rect x="69.10" y="649.06" width="5.75" height="48.14" fill="#24a548"/>
<text x="71.00" y="650.56" font-size="2.8" fill="#222" opacity="0.8" transform="rotate(90 71.00 650.56)">12</text>
<text x="70.90" y="534.00" font-size="3.0" fill="#333" transform="rotate(90 70.90 534.00)">34</text>
<rect x="75.95" y="531.20" width="5.75" height="166.00" fill="#fdd68c"/>
<rect x="75.95" y="694.71" width="5.75" height="2.49" fill="#f59c1a"/>
<text x="77.85" y="696.21" font-size="2.8" fill="#222" opacity="0.8" transform="rotate(90 77.85 696.21)">12</text>
<text x="77.75" y="534.00" font-size="3.0" fill="#333" transform="rotate(90 77.75 534.00)">47</text>
<rect x="82.80" y="531.20" width="5.75" height="166.00" fill="#b8b8b8"/>
<rect x="82.80" y="645.74" width="5.75" height="51.46" fill="#5f5f5f"/>
<text x="84.70" y="647.24" font-size="2.8" fill="#222" opacity="0.8" transform="rotate(90 84.70 647.24)">12</text>
<text x="84.60" y="534.00" font-size="3.0" fill="#333" transform="rotate(90 84.60 534.00)">33</text>
<text x="71.95" y="707.30" font-size="5.5" fill="#333" text-anchor="middle">B-‘rest</text>
<text x="71.95" y="713.60" font-size="5.5" fill="#333" text-anchor="middle">(n = 48)</text>
<rect x="96.10" y="531.20" width="5.75" height="166.00" fill="#c7a1d8"/>
<rect x="96.10" y="678.94" width="5.75" height="18.26" fill="#6a2a8e"/>
<text x="98.00" y="680.44" font-size="2.8" fill="#222" opacity="0.8" transform="rotate(90 98.00 680.44)">12</text>
<text x="97.90" y="534.00" font-size="3.0" fill="#333" transform="rotate(90 97.90 534.00)">42</text>
<rect x="102.95" y="531.20" width="5.75" height="166.00" fill="#9fc5ec"/>
<rect x="102.95" y="659.68" width="5.75" height="37.52" fill="#2e72c4"/>
<text x="104.85" y="661.18" font-size="2.8" fill="#222" opacity="0.8" transform="rotate(90 104.85 661.18)">12</text>
<text x="104.75" y="534.00" font-size="3.0" fill="#333" transform="rotate(90 104.75 534.00)">34</text>
<rect x="109.80" y="531.20" width="5.75" height="166.00" fill="#acd494"/>
<rect x="109.80" y="631.13" width="5.75" height="66.07" fill="#24a548"/>
<text x="111.70" y="632.63" font-size="2.8" fill="#222" opacity="0.8" transform="rotate(90 111.70 632.63)">12</text>
<text x="111.60" y="534.00" font-size="3.0" fill="#333" transform="rotate(90 111.60 534.00)">34</text>
<rect x="116.65" y="531.20" width="5.75" height="166.00" fill="#fdd68c"/>
<rect x="116.65" y="688.07" width="5.75" height="9.13" fill="#f59c1a"/>
<text x="118.55" y="689.57" font-size="2.8" fill="#222" opacity="0.8" transform="rotate(90 118.55 689.57)">12</text>
<text x="118.45" y="534.00" font-size="3.0" fill="#333" transform="rotate(90 118.45 534.00)">47</text>
<rect x="123.50" y="531.20" width="5.75" height="166.00" fill="#b8b8b8"/>
<rect x="123.50" y="659.68" width="5.75" height="37.52" fill="#5f5f5f"/>
<text x="125.40" y="661.18" font-size="2.8" fill="#222" opacity="0.8" transform="rotate(90 125.40 661.18)">12</text>
<text x="125.30" y="534.00" font-size="3.0" fill="#333" transform="rotate(90 125.30 534.00)">33</text>
<text x="112.65" y="707.30" font-size="5.5" fill="#333" text-anchor="middle">DUX4 cluster</text>
<text x="112.65" y="713.60" font-size="5.5" fill="#333" text-anchor="middle">(n = 35)</text>
<rect x="136.80" y="531.20" width="5.75" height="166.00" fill="#c7a1d8"/>
<rect x="136.80" y="688.57" width="5.75" height="8.63" fill="#6a2a8e"/>
<text x="138.70" y="690.07" font-size="2.8" fill="#222" opacity="0.8" transform="rotate(90 138.70 690.07)">12</text>
<text x="138.60" y="534.00" font-size="3.0" fill="#333" transform="rotate(90 138.60 534.00)">42</text>
<rect x="143.65" y="531.20" width="5.75" height="166.00" fill="#9fc5ec"/>
<rect x="143.65" y="642.42" width="5.75" height="54.78" fill="#2e72c4"/>
<text x="145.55" y="643.92" font-size="2.8" fill="#222" opacity="0.8" transform="rotate(90 145.55 643.92)">12</text>
<text x="145.45" y="534.00" font-size="3.0" fill="#333" transform="rotate(90 145.45 534.00)">34</text>
<rect x="150.50" y="531.20" width="5.75" height="166.00" fill="#acd494"/>
<rect x="150.50" y="651.55" width="5.75" height="45.65" fill="#24a548"/>
<text x="152.40" y="653.05" font-size="2.8" fill="#222" opacity="0.8" transform="rotate(90 152.40 653.05)">12</text>
<text x="152.30" y="534.00" font-size="3.0" fill="#333" transform="rotate(90 152.30 534.00)">34</text>
<rect x="157.35" y="531.20" width="5.75" height="166.00" fill="#fdd68c"/>
<text x="159.15" y="534.00" font-size="3.0" fill="#333" transform="rotate(90 159.15 534.00)">47</text>
<rect x="164.20" y="531.20" width="5.75" height="166.00" fill="#b8b8b8"/>
<rect x="164.20" y="660.68" width="5.75" height="36.52" fill="#5f5f5f"/>
<text x="166.10" y="662.18" font-size="2.8" fill="#222" opacity="0.8" transform="rotate(90 166.10 662.18)">12</text>
<text x="166.00" y="534.00" font-size="3.0" fill="#333" transform="rotate(90 166.00 534.00)">33</text>
<text x="153.35" y="707.30" font-size="5.5" fill="#333" text-anchor="middle">PAX5-driven</text>
<text x="153.35" y="713.60" font-size="5.5" fill="#333" text-anchor="middle">(n = 18)</text>
<rect x="177.50" y="531.20" width="5.75" height="166.00" fill="#c7a1d8"/>
<rect x="177.50" y="652.38" width="5.75" height="44.82" fill="#6a2a8e"/>
<text x="179.40" y="653.88" font-size="2.8" fill="#222" opacity="0.8" transform="rotate(90 179.40 653.88)">12</text>
<text x="179.30" y="534.00" font-size="3.0" fill="#333" transform="rotate(90 179.30 534.00)">42</text>
<rect x="184.35" y="531.20" width="5.75" height="166.00" fill="#9fc5ec"/>
<rect x="184.35" y="591.79" width="5.75" height="105.41" fill="#2e72c4"/>
<text x="186.25" y="593.29" font-size="2.8" fill="#222" opacity="0.8" transform="rotate(90 186.25 593.29)">12</text>
<text x="186.15" y="534.00" font-size="3.0" fill="#333" transform="rotate(90 186.15 534.00)">34</text>
<text x="187.25" y="531.60" font-size="5.5" fill="#111" text-anchor="middle">*</text>
<rect x="191.20" y="531.20" width="5.75" height="166.00" fill="#acd494"/>
<rect x="191.20" y="607.56" width="5.75" height="89.64" fill="#24a548"/>
<text x="193.10" y="609.06" font-size="2.8" fill="#222" opacity="0.8" transform="rotate(90 193.10 609.06)">12</text>
<text x="193.00" y="534.00" font-size="3.0" fill="#333" transform="rotate(90 193.00 534.00)">34</text>
<rect x="198.05" y="531.20" width="5.75" height="166.00" fill="#fdd68c"/>
<rect x="198.05" y="682.26" width="5.75" height="14.94" fill="#f59c1a"/>
<text x="199.95" y="683.76" font-size="2.8" fill="#222" opacity="0.8" transform="rotate(90 199.95 683.76)">12</text>
<text x="199.85" y="534.00" font-size="3.0" fill="#333" transform="rotate(90 199.85 534.00)">47</text>
<rect x="204.90" y="531.20" width="5.75" height="166.00" fill="#b8b8b8"/>
<rect x="204.90" y="637.44" width="5.75" height="59.76" fill="#5f5f5f"/>
<text x="206.80" y="638.94" font-size="2.8" fill="#222" opacity="0.8" transform="rotate(90 206.80 638.94)">12</text>
<text x="206.70" y="534.00" font-size="3.0" fill="#333" transform="rotate(90 206.70 534.00)">33</text>
<text x="194.05" y="707.30" font-size="5.5" fill="#333" text-anchor="middle">CRLF2 high</text>
<text x="194.05" y="713.60" font-size="5.5" fill="#333" text-anchor="middle">(n = 11)</text>
<rect x="218.20" y="531.20" width="5.75" height="166.00" fill="#c7a1d8"/>
<rect x="218.20" y="637.44" width="5.75" height="59.76" fill="#6a2a8e"/>
<text x="220.10" y="638.94" font-size="2.8" fill="#222" opacity="0.8" transform="rotate(90 220.10 638.94)">12</text>
<text x="220.00" y="534.00" font-size="3.0" fill="#333" transform="rotate(90 220.00 534.00)">42</text>
<text x="221.10" y="531.60" font-size="5.5" fill="#111" text-anchor="middle">*</text>
<rect x="225.05" y="531.20" width="5.75" height="166.00" fill="#9fc5ec"/>
<rect x="225.05" y="576.02" width="5.75" height="121.18" fill="#2e72c4"/>
<text x="226.95" y="577.52" font-size="2.8" fill="#222" opacity="0.8" transform="rotate(90 226.95 577.52)">12</text>
<text x="226.85" y="534.00" font-size="3.0" fill="#333" transform="rotate(90 226.85 534.00)">34</text>
<text x="227.95" y="531.60" font-size="5.5" fill="#111" text-anchor="middle">*</text>
<rect x="231.90" y="531.20" width="5.75" height="166.00" fill="#acd494"/>
<rect x="231.90" y="622.50" width="5.75" height="74.70" fill="#24a548"/>
<text x="233.80" y="624.00" font-size="2.8" fill="#222" opacity="0.8" transform="rotate(90 233.80 624.00)">12</text>
<text x="233.70" y="534.00" font-size="3.0" fill="#333" transform="rotate(90 233.70 534.00)">34</text>
<rect x="238.75" y="531.20" width="5.75" height="166.00" fill="#fdd68c"/>
<text x="240.55" y="534.00" font-size="3.0" fill="#333" transform="rotate(90 240.55 534.00)">47</text>
<rect x="245.60" y="531.20" width="5.75" height="166.00" fill="#b8b8b8"/>
<rect x="245.60" y="561.74" width="5.75" height="135.46" fill="#5f5f5f"/>
<text x="247.50" y="563.24" font-size="2.8" fill="#222" opacity="0.8" transform="rotate(90 247.50 563.24)">12</text>
<text x="247.40" y="534.00" font-size="3.0" fill="#333" transform="rotate(90 247.40 534.00)">33</text>
<text x="248.50" y="531.60" font-size="5.5" fill="#111" text-anchor="middle">*</text>
<text x="234.75" y="707.30" font-size="5.5" fill="#333" text-anchor="middle">AJ2E-class</text>
<text x="234.75" y="713.60" font-size="5.5" fill="#333" text-anchor="middle">(n = 11)</text>
<rect x="258.90" y="531.20" width="5.75" height="166.00" fill="#c7a1d8"/>
<rect x="258.90" y="660.68" width="5.75" height="36.52" fill="#6a2a8e"/>
<text x="260.80" y="662.18" font-size="2.8" fill="#222" opacity="0.8" transform="rotate(90 260.80 662.18)">12</text>
<text x="260.70" y="534.00" font-size="3.0" fill="#333" transform="rotate(90 260.70 534.00)">42</text>
<rect x="265.75" y="531.20" width="5.75" height="166.00" fill="#9fc5ec"/>
<rect x="265.75" y="660.68" width="5.75" height="36.52" fill="#2e72c4"/>
<text x="267.65" y="662.18" font-size="2.8" fill="#222" opacity="0.8" transform="rotate(90 267.65 662.18)">12</text>
<text x="267.55" y="534.00" font-size="3.0" fill="#333" transform="rotate(90 267.55 534.00)">34</text>
<rect x="272.60" y="531.20" width="5.75" height="166.00" fill="#acd494"/>
<rect x="272.60" y="605.24" width="5.75" height="91.96" fill="#24a548"/>
<text x="274.50" y="606.74" font-size="2.8" fill="#222" opacity="0.8" transform="rotate(90 274.50 606.74)">12</text>
<text x="274.40" y="534.00" font-size="3.0" fill="#333" transform="rotate(90 274.40 534.00)">34</text>
<rect x="279.45" y="531.20" width="5.75" height="166.00" fill="#fdd68c"/>
<rect x="279.45" y="624.16" width="5.75" height="73.04" fill="#f59c1a"/>
<text x="281.35" y="625.66" font-size="2.8" fill="#222" opacity="0.8" transform="rotate(90 281.35 625.66)">12</text>
<text x="281.25" y="534.00" font-size="3.0" fill="#333" transform="rotate(90 281.25 534.00)">47</text>
<text x="282.35" y="531.60" font-size="5.5" fill="#111" text-anchor="middle">*</text>
<rect x="286.30" y="531.20" width="5.75" height="166.00" fill="#b8b8b8"/>
<text x="288.10" y="534.00" font-size="3.0" fill="#333" transform="rotate(90 288.10 534.00)">33</text>
<text x="275.45" y="707.30" font-size="5.5" fill="#333" text-anchor="middle">ZNF384-r</text>
<text x="275.45" y="713.60" font-size="5.5" fill="#333" text-anchor="middle">(n = 9)</text>
<rect x="299.60" y="531.20" width="5.75" height="166.00" fill="#c7a1d8"/>
<text x="301.40" y="534.00" font-size="3.0" fill="#333" transform="rotate(90 301.40 534.00)">42</text>
<rect x="306.45" y="531.20" width="5.75" height="166.00" fill="#9fc5ec"/>
<text x="308.25" y="534.00" font-size="3.0" fill="#333" transform="rotate(90 308.25 534.00)">34</text>
<rect x="313.30" y="531.20" width="5.75" height="166.00" fill="#acd494"/>
<rect x="313.30" y="573.03" width="5.75" height="124.17" fill="#24a548"/>
<text x="315.20" y="574.53" font-size="2.8" fill="#222" opacity="0.8" transform="rotate(90 315.20 574.53)">12</text>
<text x="315.10" y="534.00" font-size="3.0" fill="#333" transform="rotate(90 315.10 534.00)">34</text>
<rect x="320.15" y="531.20" width="5.75" height="166.00" fill="#fdd68c"/>
<text x="321.95" y="534.00" font-size="3.0" fill="#333" transform="rotate(90 321.95 534.00)">47</text>
<rect x="327.00" y="531.20" width="5.75" height="166.00" fill="#b8b8b8"/>
<text x="328.80" y="534.00" font-size="3.0" fill="#333" transform="rotate(90 328.80 534.00)">33</text>
<text x="316.15" y="707.30" font-size="5.5" fill="#333" text-anchor="middle">MEF2D-r</text>
<text x="316.15" y="713.60" font-size="5.5" fill="#333" text-anchor="middle">(n = 4)</text>
<rect x="340.30" y="531.20" width="5.75" height="166.00" fill="#c7a1d8"/>
<rect x="340.30" y="656.20" width="5.75" height="41.00" fill="#6a2a8e"/>
<text x="342.20" y="657.70" font-size="2.8" fill="#222" opacity="0.8" transform="rotate(90 342.20 657.70)">12</text>
<text x="342.10" y="534.00" font-size="3.0" fill="#333" transform="rotate(90 342.10 534.00)">42</text>
<rect x="347.15" y="531.20" width="5.75" height="166.00" fill="#9fc5ec"/>
<rect x="347.15" y="656.20" width="5.75" height="41.00" fill="#2e72c4"/>
<text x="349.05" y="657.70" font-size="2.8" fill="#222" opacity="0.8" transform="rotate(90 349.05 657.70)">12</text>
<text x="348.95" y="534.00" font-size="3.0" fill="#333" transform="rotate(90 348.95 534.00)">34</text>
<rect x="354.00" y="531.20" width="5.75" height="166.00" fill="#acd494"/>
<rect x="354.00" y="614.20" width="5.75" height="83.00" fill="#8db468"/>
<text x="355.90" y="615.70" font-size="2.8" fill="#222" opacity="0.8" transform="rotate(90 355.90 615.70)">12</text>
<text x="355.80" y="534.00" font-size="3.0" fill="#333" transform="rotate(90 355.80 534.00)">34</text>
<text x="356.90" y="531.60" font-size="5.5" fill="#111" text-anchor="middle">*</text>
<rect x="360.85" y="531.20" width="5.75" height="166.00" fill="#fdd68c"/>
<text x="362.65" y="534.00" font-size="3.0" fill="#333" transform="rotate(90 362.65 534.00)">47</text>
<rect x="367.70" y="531.20" width="5.75" height="166.00" fill="#b8b8b8"/>
<rect x="367.70" y="656.20" width="5.75" height="41.00" fill="#5f5f5f"/>
<text x="369.60" y="657.70" font-size="2.8" fill="#222" opacity="0.8" transform="rotate(90 369.60 657.70)">12</text>
<text x="369.50" y="534.00" font-size="3.0" fill="#333" transform="rotate(90 369.50 534.00)">33</text>
<text x="356.85" y="707.30" font-size="5.5" fill="#333" text-anchor="middle">NUTM1-r</text>
<text x="356.85" y="713.60" font-size="5.5" fill="#333" text-anchor="middle">(n = 4)</text>
<rect x="381.00" y="531.20" width="5.75" height="166.00" fill="#c7a1d8"/>
<text x="382.80" y="534.00" font-size="3.0" fill="#333" transform="rotate(90 382.80 534.00)">42</text>
<rect x="387.85" y="531.20" width="5.75" height="166.00" fill="#9fc5ec"/>
<rect x="387.85" y="626.15" width="5.75" height="71.05" fill="#2e72c4"/>
<text x="389.75" y="627.65" font-size="2.8" fill="#222" opacity="0.8" transform="rotate(90 389.75 627.65)">12</text>
<text x="389.65" y="534.00" font-size="3.0" fill="#333" transform="rotate(90 389.65 534.00)">34</text>
<rect x="394.70" y="531.20" width="5.75" height="166.00" fill="#acd494"/>
<rect x="394.70" y="626.15" width="5.75" height="71.05" fill="#24a548"/>
<text x="396.60" y="627.65" font-size="2.8" fill="#222" opacity="0.8" transform="rotate(90 396.60 627.65)">12</text>
<text x="396.50" y="534.00" font-size="3.0" fill="#333" transform="rotate(90 396.50 534.00)">34</text>
<rect x="401.55" y="531.20" width="5.75" height="166.00" fill="#fdd68c"/>
<text x="403.35" y="534.00" font-size="3.0" fill="#333" transform="rotate(90 403.35 534.00)">47</text>
<rect x="408.40" y="531.20" width="5.75" height="166.00" fill="#b8b8b8"/>
<rect x="408.40" y="649.89" width="5.75" height="47.31" fill="#5f5f5f"/>
<text x="410.30" y="651.39" font-size="2.8" fill="#222" opacity="0.8" transform="rotate(90 410.30 651.39)">12</text>
<text x="410.20" y="534.00" font-size="3.0" fill="#333" transform="rotate(90 410.20 534.00)">33</text>
<text x="397.55" y="707.30" font-size="5.5" fill="#333" text-anchor="middle">iAMP21</text>
<text x="397.55" y="713.60" font-size="5.5" fill="#333" text-anchor="middle">(n = 7)</text>
<rect x="430.90" y="562.60" width="2.50" height="2.50" fill="#3b1d4e"/>
<text x="437.40" y="565.80" font-size="5.6" fill="#222" textLength="32.60" lengthAdjust="spacingAndGlyphs">NCI High risk</text>
<rect x="430.90" y="572.18" width="2.50" height="2.50" fill="#c4a8d4"/>
<text x="437.40" y="575.38" font-size="5.6" fill="#222" textLength="43.75" lengthAdjust="spacingAndGlyphs">NCI Standard risk</text>
<rect x="430.90" y="581.76" width="2.50" height="2.50" fill="#2b4f8c"/>
<text x="437.40" y="584.96" font-size="5.6" fill="#222" textLength="47.00" lengthAdjust="spacingAndGlyphs">WBC ≥50 X 109/L</text>
<rect x="430.90" y="591.34" width="2.50" height="2.50" fill="#a7c6e8"/>
<text x="437.40" y="594.54" font-size="5.6" fill="#222" textLength="47.00" lengthAdjust="spacingAndGlyphs">WBC &lt;50 x 109/L</text>
<rect x="430.90" y="600.92" width="2.50" height="2.50" fill="#95a58a"/>
<text x="434.60" y="604.12" font-size="5.6" fill="#222" textLength="14.30" lengthAdjust="spacingAndGlyphs">infant</text>
<rect x="430.90" y="610.50" width="2.50" height="2.50" fill="#2ca345"/>
<text x="437.40" y="613.70" font-size="5.6" fill="#222" textLength="22.50" lengthAdjust="spacingAndGlyphs">≥10years</text>
<rect x="430.90" y="620.08" width="2.50" height="2.50" fill="#b6d99e"/>
<text x="437.40" y="623.28" font-size="5.6" fill="#222" textLength="32.50" lengthAdjust="spacingAndGlyphs">&gt;1&lt;10 years</text>
<rect x="430.90" y="629.66" width="2.50" height="2.50" fill="#f0a030"/>
<text x="437.40" y="632.86" font-size="5.6" fill="#222" textLength="63.75" lengthAdjust="spacingAndGlyphs">CALLA Negative or &lt;20%</text>
<rect x="430.90" y="639.24" width="2.50" height="2.50" fill="#fdd8a0"/>
<text x="437.40" y="642.44" font-size="5.6" fill="#222" textLength="35.00" lengthAdjust="spacingAndGlyphs">CALA Positive</text>
<rect x="430.90" y="648.82" width="2.50" height="2.50" fill="#333333"/>
<text x="437.40" y="652.02" font-size="5.6" fill="#222" textLength="35.00" lengthAdjust="spacingAndGlyphs">IKZF1 deleted</text>
<rect x="430.90" y="658.40" width="2.50" height="2.50" fill="#aaaaaa"/>
<text x="437.40" y="661.60" font-size="5.6" fill="#222" textLength="45.50" lengthAdjust="spacingAndGlyphs">IKZF1 non-deleted</text>
<rect x="0.5" y="0.5" width="519" height="722" fill="none" stroke="#4a4a4a" stroke-width="1"/>
</svg>
</body></html>
